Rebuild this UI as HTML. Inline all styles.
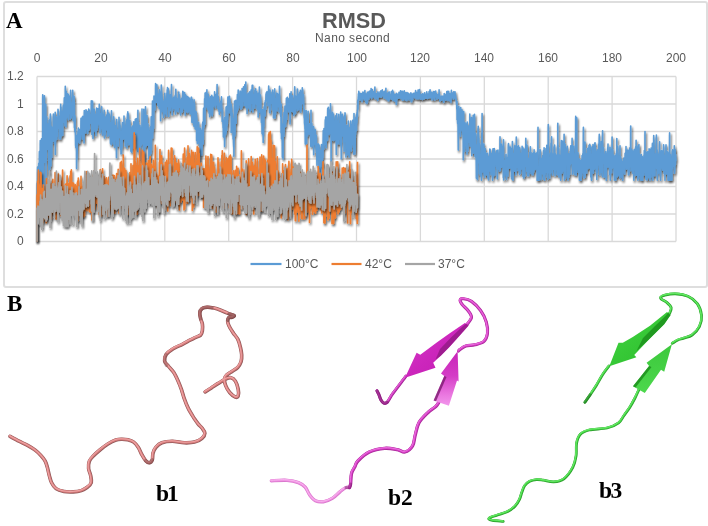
<!DOCTYPE html>
<html><head><meta charset="utf-8"><style>
html,body{margin:0;padding:0;background:#fff;}
body{width:708px;height:526px;position:relative;overflow:hidden;font-family:"Liberation Sans",sans-serif;}
.t{position:absolute;white-space:nowrap;line-height:1;will-change:transform;}
.panel{position:absolute;left:3px;top:1px;width:700.5px;height:282.5px;border:2px solid #dedede;border-radius:3px;}
.lab{font-family:"Liberation Serif",serif;font-weight:bold;color:#000;}
.ax{font-size:12px;color:#595959;}
svg{position:absolute;left:0;top:0;}
</style></head><body>
<div class="panel"></div>
<svg width="708" height="526" viewBox="0 0 708 526">
<defs>
<filter id="sh" x="-5%" y="-10%" width="110%" height="130%">
<feGaussianBlur in="SourceAlpha" stdDeviation="1.2"/>
<feOffset dx="1.3" dy="2.4" result="o"/>
<feComponentTransfer><feFuncA type="linear" slope="0.7"/></feComponentTransfer>
<feMerge><feMergeNode/><feMergeNode in="SourceGraphic"/></feMerge>
</filter>
<linearGradient id="gm1" x1="0" y1="0" x2="1" y2="1"><stop offset="0" stop-color="#d63ec8"/><stop offset="0.5" stop-color="#cc26bc"/><stop offset="1" stop-color="#c01cb0"/></linearGradient>
<linearGradient id="gm2" x1="0" y1="0" x2="0" y2="1"><stop offset="0" stop-color="#c824b8"/><stop offset="0.45" stop-color="#d43cc6"/><stop offset="0.8" stop-color="#ea78e0"/><stop offset="1" stop-color="#f296ec"/></linearGradient>
<linearGradient id="gg1" x1="0" y1="0" x2="1" y2="1"><stop offset="0" stop-color="#44d444"/><stop offset="0.5" stop-color="#36c836"/><stop offset="1" stop-color="#2cbc2c"/></linearGradient>
<linearGradient id="gg2" x1="0" y1="0" x2="0" y2="1"><stop offset="0" stop-color="#3cc83c"/><stop offset="1" stop-color="#4cd84c"/></linearGradient>
</defs>
<g stroke="#d9d9d9" stroke-width="1.3"><line x1="37.0" y1="241.5" x2="676.0" y2="241.5"/><line x1="37.0" y1="214.0" x2="676.0" y2="214.0"/><line x1="37.0" y1="186.5" x2="676.0" y2="186.5"/><line x1="37.0" y1="159.0" x2="676.0" y2="159.0"/><line x1="37.0" y1="131.5" x2="676.0" y2="131.5"/><line x1="37.0" y1="104.0" x2="676.0" y2="104.0"/><line x1="37.0" y1="76.5" x2="676.0" y2="76.5"/><line x1="37.0" y1="76.5" x2="37.0" y2="241.5"/><line x1="100.9" y1="76.5" x2="100.9" y2="241.5"/><line x1="164.8" y1="76.5" x2="164.8" y2="241.5"/><line x1="228.7" y1="76.5" x2="228.7" y2="241.5"/><line x1="292.6" y1="76.5" x2="292.6" y2="241.5"/><line x1="356.5" y1="76.5" x2="356.5" y2="241.5"/><line x1="420.4" y1="76.5" x2="420.4" y2="241.5"/><line x1="484.3" y1="76.5" x2="484.3" y2="241.5"/><line x1="548.2" y1="76.5" x2="548.2" y2="241.5"/><line x1="612.1" y1="76.5" x2="612.1" y2="241.5"/><line x1="676.0" y1="76.5" x2="676.0" y2="241.5"/></g>
<g fill="none" stroke-width="1.6" stroke-linejoin="round" filter="url(#sh)">
<path d="M37.0,241.5L37.0,206.0L37.1,183.1L37.3,188.1L37.4,202.7L37.6,167.1L37.7,177.7L37.9,199.3L38.0,169.8L38.1,184.9L38.3,208.8L38.4,187.5L38.6,170.4L38.7,163.3L38.9,171.4L39.0,173.3L39.1,165.3L39.3,177.8L39.4,151.6L39.6,170.7L39.7,167.6L39.9,162.4L40.0,193.1L40.1,185.8L40.3,140.5L40.4,163.5L40.6,175.0L40.7,161.9L40.9,177.3L41.0,161.6L41.1,179.3L41.3,160.3L41.4,195.6L41.6,138.8L41.7,174.0L41.9,194.2L42.0,167.9L42.1,170.5L42.3,160.5L42.4,185.0L42.6,155.7L42.7,94.8L42.9,186.9L43.0,156.4L43.1,167.9L43.3,157.4L43.4,193.0L43.6,178.6L43.7,147.0L43.9,154.0L44.0,121.8L44.1,162.1L44.3,145.0L44.4,95.7L44.6,160.1L44.7,162.3L44.9,147.2L45.0,147.5L45.1,132.6L45.3,145.1L45.4,160.3L45.6,144.3L45.7,104.2L45.9,126.9L46.0,192.8L46.1,149.4L46.3,161.0L46.4,137.1L46.6,149.8L46.7,116.8L46.9,132.7L47.0,133.5L47.1,144.4L47.3,147.7L47.4,141.6L47.6,126.7L47.7,137.3L47.9,149.4L48.0,124.1L48.1,138.6L48.3,141.0L48.4,149.8L48.6,145.2L48.7,145.0L48.9,174.2L49.0,120.3L49.1,126.4L49.3,137.2L49.4,120.4L49.6,129.1L49.7,130.6L49.9,168.9L50.0,139.6L50.1,130.1L50.3,116.6L50.4,114.0L50.6,119.4L50.7,152.6L50.9,165.8L51.0,130.9L51.1,137.9L51.3,126.4L51.4,140.2L51.6,136.1L51.7,157.5L51.9,133.6L52.0,144.6L52.1,134.8L52.3,133.2L52.4,139.6L52.6,133.8L52.7,137.0L52.9,127.2L53.0,129.5L53.1,141.1L53.3,141.1L53.4,114.0L53.6,135.0L53.7,122.4L53.9,128.9L54.0,139.2L54.1,140.7L54.3,130.5L54.4,128.4L54.6,124.0L54.7,144.0L54.9,136.2L55.0,130.4L55.2,112.2L55.3,154.5L55.4,125.3L55.6,136.1L55.7,126.7L55.9,136.9L56.0,128.7L56.2,116.9L56.3,129.5L56.4,128.7L56.6,128.9L56.7,139.4L56.9,125.7L57.0,132.0L57.2,136.6L57.3,127.9L57.4,128.5L57.6,118.0L57.7,124.6L57.9,128.4L58.0,109.3L58.2,113.6L58.3,111.1L58.4,117.4L58.6,124.4L58.7,127.7L58.9,126.8L59.0,115.9L59.2,123.9L59.3,138.7L59.4,125.5L59.6,137.9L59.7,123.2L59.9,135.5L60.0,135.9L60.2,123.3L60.3,125.0L60.4,139.2L60.6,117.3L60.7,104.4L60.9,137.1L61.0,107.2L61.2,129.6L61.3,127.7L61.4,124.7L61.6,135.8L61.7,111.0L61.9,118.0L62.0,128.7L62.2,124.2L62.3,134.8L62.4,124.1L62.6,112.3L62.7,135.2L62.9,123.3L63.0,117.4L63.2,108.8L63.3,105.4L63.4,120.5L63.6,122.2L63.7,111.1L63.9,117.6L64.0,116.5L64.2,103.9L64.3,97.9L64.4,109.5L64.6,112.6L64.7,105.1L64.9,125.4L65.0,108.4L65.2,116.6L65.3,86.3L65.4,100.1L65.6,104.7L65.7,107.3L65.9,126.8L66.0,99.2L66.2,91.3L66.3,111.3L66.4,99.3L66.6,99.0L66.7,118.1L66.9,97.1L67.0,93.5L67.2,102.8L67.3,105.0L67.4,97.5L67.6,116.7L67.7,102.7L67.9,94.4L68.0,113.2L68.2,94.4L68.3,106.0L68.4,119.8L68.6,103.6L68.7,111.1L68.9,100.9L69.0,113.8L69.2,96.3L69.3,111.8L69.4,103.6L69.6,112.1L69.7,110.5L69.9,98.6L70.0,106.9L70.2,112.0L70.3,119.1L70.4,99.7L70.6,90.2L70.7,111.9L70.9,107.4L71.0,117.7L71.2,117.6L71.3,116.2L71.4,106.8L71.6,107.4L71.7,115.8L71.9,104.1L72.0,103.8L72.2,108.7L72.3,102.0L72.4,112.7L72.6,111.4L72.7,90.2L72.9,110.9L73.0,104.2L73.2,120.6L73.3,98.6L73.4,116.0L73.6,110.3L73.7,119.6L73.9,102.6L74.0,96.4L74.2,99.4L74.3,104.0L74.4,127.4L74.6,123.8L74.7,124.2L74.9,131.7L75.0,115.9L75.2,127.6L75.3,132.7L75.4,129.8L75.6,145.2L75.7,146.3L75.9,147.6L76.0,135.8L76.2,139.0L76.3,138.5L76.4,135.7L76.6,168.6L76.7,153.5L76.9,146.3L77.0,159.1L77.2,150.9L77.3,136.7L77.4,135.2L77.6,134.4L77.7,141.5L77.9,142.2L78.0,131.7L78.2,141.8L78.3,135.9L78.4,128.1L78.6,139.6L78.7,140.7L78.9,135.7L79.0,130.9L79.2,131.1L79.3,132.8L79.4,129.5L79.6,143.3L79.7,137.7L79.9,130.6L80.0,137.6L80.2,140.2L80.3,139.2L80.4,137.1L80.6,132.0L80.7,137.2L80.9,128.5L81.0,118.4L81.2,129.9L81.3,120.0L81.4,125.9L81.6,134.5L81.7,128.3L81.9,132.6L82.0,120.8L82.2,133.2L82.3,117.0L82.4,121.9L82.6,139.1L82.7,121.0L82.9,116.2L83.0,131.7L83.2,120.3L83.3,138.5L83.4,125.1L83.6,137.4L83.7,123.1L83.9,137.7L84.0,143.0L84.2,123.1L84.3,110.5L84.4,129.2L84.6,119.8L84.7,124.4L84.9,127.1L85.0,120.8L85.2,113.9L85.3,132.6L85.4,120.4L85.6,121.5L85.7,132.9L85.9,112.3L86.0,109.7L86.2,128.9L86.3,110.5L86.4,121.7L86.6,123.1L86.7,111.7L86.9,120.4L87.0,119.8L87.2,111.6L87.3,113.3L87.4,116.0L87.6,132.1L87.7,133.4L87.9,114.5L88.0,128.9L88.2,121.2L88.3,129.6L88.4,122.9L88.6,130.3L88.7,109.0L88.9,127.4L89.0,120.5L89.2,120.5L89.3,110.1L89.4,128.9L89.6,118.7L89.7,120.0L89.9,114.5L90.0,114.9L90.2,121.8L90.3,116.6L90.5,121.2L90.6,114.9L90.7,119.1L90.9,123.1L91.0,118.3L91.2,115.2L91.3,100.8L91.5,121.8L91.6,116.0L91.7,107.4L91.9,134.5L92.0,132.1L92.2,128.2L92.3,120.2L92.5,101.1L92.6,116.7L92.7,110.5L92.9,121.4L93.0,138.4L93.2,137.2L93.3,112.1L93.5,118.4L93.6,129.6L93.7,111.4L93.9,131.5L94.0,111.4L94.2,109.1L94.3,126.0L94.5,128.7L94.6,114.0L94.7,128.8L94.9,114.0L95.0,129.7L95.2,114.6L95.3,120.1L95.5,124.2L95.6,127.8L95.7,119.3L95.9,135.4L96.0,123.2L96.2,124.1L96.3,116.0L96.5,130.6L96.6,108.1L96.7,123.4L96.9,129.7L97.0,110.6L97.2,108.5L97.3,122.4L97.5,127.7L97.6,120.7L97.7,125.9L97.9,122.9L98.0,108.7L98.2,117.4L98.3,119.2L98.5,117.6L98.6,120.6L98.7,114.1L98.9,114.2L99.0,124.1L99.2,121.1L99.3,104.3L99.5,120.0L99.6,125.2L99.7,108.7L99.9,124.5L100.0,133.0L100.2,119.5L100.3,131.2L100.5,127.9L100.6,121.4L100.7,124.4L100.9,128.9L101.0,126.9L101.2,126.9L101.3,113.4L101.5,127.6L101.6,126.5L101.7,106.9L101.9,126.8L102.0,111.8L102.2,113.5L102.3,125.1L102.5,135.1L102.6,121.4L102.7,120.1L102.9,118.2L103.0,125.1L103.2,116.5L103.3,115.1L103.5,133.5L103.6,114.5L103.7,123.8L103.9,129.2L104.0,127.1L104.2,110.4L104.3,117.0L104.5,137.9L104.6,123.8L104.7,125.4L104.9,125.5L105.0,127.9L105.2,134.7L105.3,117.0L105.5,130.3L105.6,125.8L105.7,127.3L105.9,128.2L106.0,117.0L106.2,119.7L106.3,127.7L106.5,129.7L106.6,126.1L106.7,115.1L106.9,121.4L107.0,120.6L107.2,124.8L107.3,124.2L107.5,120.6L107.6,136.2L107.7,110.2L107.9,128.4L108.0,126.9L108.2,112.7L108.3,121.3L108.5,122.8L108.6,127.7L108.7,135.3L108.9,122.2L109.0,114.6L109.2,130.7L109.3,114.0L109.5,133.4L109.6,131.1L109.7,122.4L109.9,127.0L110.0,122.6L110.2,134.1L110.3,136.8L110.5,143.6L110.6,138.8L110.7,137.9L110.9,140.6L111.0,127.4L111.2,134.8L111.3,144.8L111.5,110.7L111.6,135.9L111.7,139.2L111.9,120.2L112.0,121.0L112.2,138.9L112.3,141.7L112.5,138.5L112.6,122.5L112.7,134.0L112.9,138.2L113.0,132.6L113.2,123.5L113.3,143.7L113.5,136.2L113.6,144.1L113.7,116.7L113.9,119.1L114.0,125.4L114.2,133.2L114.3,126.5L114.5,147.2L114.6,128.4L114.7,140.4L114.9,140.1L115.0,135.2L115.2,132.7L115.3,126.0L115.5,125.7L115.6,129.9L115.7,140.1L115.9,128.4L116.0,135.4L116.2,126.0L116.3,142.9L116.5,157.7L116.6,140.0L116.7,119.6L116.9,132.8L117.0,138.1L117.2,129.7L117.3,132.7L117.5,133.1L117.6,140.8L117.7,136.2L117.9,135.4L118.0,142.1L118.2,146.0L118.3,136.2L118.5,129.7L118.6,132.3L118.7,133.6L118.9,133.5L119.0,117.2L119.2,135.5L119.3,129.4L119.5,122.3L119.6,137.5L119.7,136.0L119.9,130.1L120.0,125.4L120.2,136.5L120.3,136.5L120.5,138.9L120.6,149.4L120.7,131.2L120.9,142.3L121.0,154.0L121.2,141.3L121.3,153.6L121.5,147.2L121.6,138.4L121.7,145.0L121.9,128.3L122.0,147.8L122.2,133.2L122.3,130.2L122.5,122.6L122.6,126.7L122.7,132.1L122.9,133.2L123.0,134.3L123.2,124.7L123.3,139.1L123.5,129.6L123.6,134.5L123.7,131.7L123.9,135.6L124.0,116.1L124.2,138.4L124.3,131.1L124.5,130.9L124.6,128.4L124.8,129.9L124.9,130.3L125.0,126.0L125.2,146.2L125.3,134.0L125.5,144.1L125.6,132.0L125.8,143.2L125.9,141.1L126.0,133.4L126.2,121.1L126.3,127.3L126.5,129.2L126.6,119.9L126.8,138.7L126.9,147.9L127.0,134.2L127.2,133.1L127.3,121.0L127.5,113.9L127.6,142.6L127.8,111.9L127.9,119.7L128.0,126.1L128.2,130.3L128.3,113.7L128.5,133.1L128.6,137.7L128.8,132.5L128.9,144.7L129.0,129.2L129.2,133.6L129.3,129.5L129.5,128.8L129.6,140.1L129.8,120.2L129.9,139.3L130.0,123.3L130.2,144.2L130.3,127.9L130.5,138.3L130.6,131.3L130.8,137.6L130.9,151.2L131.0,142.4L131.2,132.6L131.3,128.0L131.5,146.4L131.6,152.2L131.8,141.4L131.9,135.7L132.0,139.6L132.2,141.4L132.3,126.9L132.5,126.0L132.6,128.2L132.8,143.5L132.9,134.4L133.0,136.9L133.2,148.1L133.3,127.0L133.5,134.2L133.6,139.4L133.8,121.7L133.9,127.7L134.0,126.8L134.2,123.5L134.3,128.0L134.5,146.7L134.6,138.5L134.8,125.1L134.9,141.8L135.0,133.8L135.2,129.9L135.3,119.3L135.5,120.3L135.6,123.7L135.8,134.0L135.9,123.0L136.0,126.8L136.2,133.6L136.3,118.6L136.5,127.1L136.6,139.6L136.8,119.3L136.9,134.5L137.0,125.9L137.2,147.4L137.3,132.1L137.5,141.6L137.6,141.9L137.8,151.8L137.9,110.3L138.0,134.3L138.2,130.6L138.3,122.0L138.5,135.2L138.6,128.9L138.8,148.8L138.9,132.6L139.0,139.2L139.2,129.4L139.3,132.6L139.5,149.0L139.6,153.6L139.8,144.3L139.9,125.2L140.0,128.1L140.2,128.0L140.3,153.5L140.5,160.5L140.6,138.4L140.8,135.3L140.9,138.3L141.0,128.3L141.2,134.2L141.3,145.2L141.5,142.2L141.6,131.5L141.8,132.4L141.9,134.0L142.0,109.0L142.2,135.9L142.3,131.9L142.5,143.8L142.6,137.2L142.8,127.9L142.9,127.6L143.0,135.5L143.2,129.8L143.3,133.5L143.5,154.1L143.6,168.9L143.8,109.2L143.9,124.8L144.0,134.0L144.2,151.7L144.3,146.5L144.5,118.2L144.6,162.2L144.8,135.8L144.9,123.0L145.0,130.7L145.2,124.2L145.3,133.7L145.5,106.8L145.6,143.2L145.8,146.8L145.9,129.3L146.0,117.0L146.2,132.9L146.3,121.2L146.5,138.2L146.6,145.2L146.8,117.6L146.9,115.6L147.0,115.6L147.2,136.2L147.3,143.4L147.5,143.1L147.6,132.7L147.8,123.8L147.9,124.4L148.0,145.2L148.2,128.2L148.3,130.7L148.5,130.8L148.6,133.1L148.8,136.1L148.9,159.0L149.0,134.4L149.2,134.1L149.3,144.2L149.5,133.0L149.6,138.3L149.8,158.9L149.9,131.8L150.0,139.4L150.2,127.1L150.3,138.1L150.5,137.3L150.6,134.0L150.8,136.1L150.9,140.2L151.0,153.4L151.2,116.9L151.3,150.3L151.5,137.4L151.6,126.9L151.8,128.7L151.9,126.1L152.0,123.3L152.2,117.9L152.3,126.5L152.5,101.1L152.6,138.0L152.8,125.8L152.9,130.7L153.0,131.6L153.2,123.1L153.3,111.0L153.5,128.3L153.6,125.7L153.8,110.6L153.9,109.9L154.0,96.0L154.2,101.8L154.3,106.2L154.5,108.6L154.6,102.3L154.8,103.2L154.9,109.7L155.0,97.7L155.2,96.9L155.3,96.9L155.5,98.2L155.6,83.5L155.8,90.3L155.9,88.7L156.0,99.3L156.2,102.2L156.3,97.3L156.5,93.8L156.6,97.9L156.8,96.9L156.9,84.8L157.0,93.7L157.2,102.5L157.3,99.0L157.5,101.0L157.6,95.8L157.8,105.5L157.9,99.4L158.0,94.1L158.2,99.2L158.3,106.0L158.5,104.3L158.6,99.5L158.8,97.1L158.9,94.6L159.0,101.0L159.2,108.5L159.3,89.8L159.5,97.1L159.6,96.1L159.8,96.6L159.9,105.5L160.1,100.9L160.2,97.3L160.3,92.5L160.5,99.3L160.6,120.7L160.8,101.9L160.9,98.3L161.1,92.4L161.2,96.5L161.3,85.1L161.5,92.3L161.6,93.1L161.8,96.1L161.9,111.8L162.1,97.6L162.2,99.7L162.3,107.6L162.5,100.8L162.6,102.3L162.8,108.5L162.9,106.5L163.1,107.5L163.2,104.2L163.3,108.3L163.5,101.8L163.6,117.6L163.8,106.7L163.9,115.5L164.1,107.4L164.2,100.6L164.3,103.6L164.5,104.3L164.6,103.1L164.8,93.4L164.9,110.8L165.1,98.1L165.2,113.7L165.3,107.2L165.5,103.3L165.6,110.0L165.8,103.3L165.9,100.0L166.1,112.3L166.2,104.9L166.3,106.4L166.5,115.9L166.6,104.1L166.8,107.4L166.9,93.1L167.1,106.6L167.2,89.7L167.3,103.5L167.5,87.5L167.6,96.3L167.8,96.8L167.9,94.5L168.1,93.9L168.2,90.7L168.3,88.7L168.5,101.8L168.6,107.5L168.8,116.5L168.9,102.1L169.1,94.9L169.2,97.3L169.3,98.9L169.5,101.8L169.6,103.6L169.8,101.3L169.9,97.0L170.1,110.4L170.2,94.9L170.3,108.4L170.5,100.4L170.6,103.3L170.8,101.7L170.9,105.9L171.1,106.7L171.2,101.0L171.3,106.3L171.5,84.5L171.6,102.3L171.8,103.8L171.9,103.2L172.1,106.5L172.2,115.0L172.3,101.7L172.5,98.6L172.6,110.0L172.8,101.1L172.9,108.9L173.1,102.1L173.2,100.0L173.3,99.4L173.5,99.9L173.6,106.8L173.8,97.1L173.9,104.9L174.1,99.9L174.2,97.4L174.3,103.1L174.5,108.7L174.6,97.0L174.8,107.1L174.9,105.6L175.1,106.8L175.2,95.2L175.3,101.4L175.5,114.1L175.6,96.7L175.8,89.2L175.9,91.2L176.1,105.6L176.2,102.1L176.3,99.8L176.5,97.7L176.6,102.8L176.8,109.5L176.9,98.7L177.1,99.6L177.2,111.1L177.3,105.6L177.5,102.0L177.6,103.7L177.8,100.7L177.9,99.2L178.1,100.7L178.2,104.6L178.3,111.7L178.5,100.2L178.6,95.6L178.8,92.1L178.9,103.6L179.1,103.5L179.2,94.9L179.3,94.9L179.5,101.2L179.6,99.0L179.8,107.5L179.9,99.8L180.1,107.8L180.2,103.9L180.3,103.7L180.5,105.6L180.6,114.9L180.8,107.5L180.9,100.9L181.1,103.2L181.2,105.1L181.3,100.5L181.5,99.1L181.6,98.3L181.8,107.7L181.9,103.2L182.1,105.3L182.2,108.4L182.3,111.9L182.5,104.1L182.6,108.4L182.8,91.4L182.9,103.8L183.1,104.2L183.2,105.0L183.3,92.1L183.5,107.4L183.6,102.9L183.8,106.0L183.9,102.3L184.1,101.7L184.2,95.5L184.3,109.2L184.5,101.5L184.6,92.5L184.8,104.1L184.9,102.2L185.1,106.0L185.2,115.3L185.3,101.7L185.5,94.7L185.6,103.5L185.8,111.0L185.9,99.7L186.1,100.9L186.2,96.1L186.3,96.8L186.5,103.3L186.6,99.9L186.8,111.8L186.9,96.4L187.1,101.4L187.2,96.6L187.3,96.6L187.5,103.6L187.6,102.7L187.8,106.4L187.9,112.4L188.1,102.1L188.2,100.5L188.3,106.9L188.5,97.4L188.6,100.7L188.8,99.0L188.9,105.6L189.1,111.0L189.2,98.0L189.3,99.1L189.5,103.1L189.6,104.9L189.8,104.4L189.9,103.8L190.1,105.9L190.2,113.9L190.3,99.5L190.5,111.5L190.6,105.5L190.8,105.4L190.9,102.4L191.1,112.4L191.2,97.4L191.3,100.4L191.5,99.9L191.6,97.4L191.8,109.0L191.9,122.2L192.1,104.0L192.2,99.4L192.3,101.2L192.5,112.1L192.6,110.5L192.8,109.2L192.9,122.8L193.1,116.7L193.2,117.2L193.3,103.6L193.5,118.4L193.6,104.1L193.8,114.6L193.9,126.3L194.1,99.9L194.2,122.2L194.3,111.4L194.5,103.9L194.6,120.5L194.8,126.3L194.9,110.2L195.1,118.2L195.2,128.9L195.4,128.9L195.5,124.6L195.6,115.0L195.8,125.7L195.9,119.1L196.1,111.8L196.2,115.4L196.4,114.5L196.5,116.7L196.6,140.4L196.8,117.6L196.9,125.5L197.1,129.8L197.2,138.5L197.4,143.4L197.5,140.0L197.6,131.3L197.8,142.0L197.9,139.5L198.1,138.4L198.2,127.6L198.4,136.8L198.5,135.4L198.6,122.4L198.8,137.0L198.9,129.0L199.1,143.8L199.2,131.8L199.4,133.9L199.5,133.8L199.6,139.6L199.8,144.8L199.9,138.9L200.1,161.8L200.2,128.1L200.4,129.5L200.5,147.6L200.6,132.3L200.8,141.9L200.9,134.4L201.1,142.6L201.2,151.2L201.4,131.0L201.5,136.1L201.6,149.8L201.8,155.0L201.9,143.3L202.1,148.2L202.2,140.7L202.4,131.7L202.5,123.7L202.6,137.6L202.8,122.1L202.9,122.6L203.1,134.6L203.2,143.7L203.4,121.9L203.5,123.1L203.6,108.2L203.8,115.5L203.9,118.1L204.1,108.5L204.2,126.9L204.4,114.9L204.5,115.5L204.6,98.8L204.8,104.0L204.9,124.2L205.1,93.0L205.2,107.1L205.4,96.6L205.5,104.3L205.6,99.8L205.8,97.3L205.9,99.9L206.1,107.0L206.2,92.4L206.4,98.7L206.5,101.3L206.6,97.0L206.8,104.8L206.9,89.9L207.1,100.2L207.2,99.4L207.4,99.6L207.5,107.4L207.6,109.1L207.8,100.6L207.9,99.9L208.1,94.0L208.2,99.8L208.4,109.7L208.5,100.2L208.6,98.9L208.8,98.4L208.9,103.1L209.1,113.2L209.2,99.0L209.4,111.1L209.5,103.3L209.6,116.8L209.8,102.5L209.9,112.1L210.1,100.6L210.2,96.5L210.4,100.2L210.5,114.6L210.6,113.2L210.8,112.8L210.9,103.3L211.1,105.2L211.2,106.3L211.4,105.1L211.5,103.1L211.6,102.2L211.8,95.3L211.9,105.6L212.1,103.5L212.2,115.8L212.4,112.2L212.5,108.1L212.6,111.0L212.8,102.3L212.9,97.1L213.1,106.2L213.2,106.4L213.4,106.5L213.5,102.4L213.6,106.5L213.8,100.4L213.9,101.1L214.1,100.8L214.2,98.1L214.4,102.6L214.5,101.8L214.6,91.8L214.8,103.0L214.9,97.8L215.1,102.4L215.2,105.6L215.4,105.6L215.5,107.8L215.6,102.6L215.8,106.2L215.9,104.9L216.1,94.6L216.2,102.7L216.4,94.6L216.5,99.8L216.6,95.9L216.8,104.8L216.9,100.1L217.1,84.6L217.2,95.8L217.4,94.8L217.5,99.7L217.6,95.9L217.8,108.5L217.9,106.7L218.1,98.9L218.2,96.6L218.4,104.4L218.5,103.1L218.6,104.2L218.8,103.3L218.9,109.8L219.1,111.6L219.2,103.6L219.4,114.2L219.5,109.9L219.6,108.2L219.8,111.0L219.9,103.2L220.1,107.5L220.2,105.3L220.4,111.0L220.5,109.2L220.6,101.3L220.8,102.1L220.9,107.0L221.1,102.0L221.2,104.0L221.4,105.2L221.5,96.9L221.6,111.0L221.8,106.7L221.9,107.9L222.1,113.7L222.2,121.5L222.4,110.0L222.5,114.3L222.6,117.1L222.8,118.6L222.9,119.9L223.1,127.8L223.2,120.0L223.4,136.9L223.5,124.5L223.6,136.5L223.8,128.8L223.9,121.6L224.1,129.9L224.2,132.6L224.4,126.2L224.5,133.2L224.6,146.6L224.8,132.7L224.9,117.3L225.1,122.8L225.2,123.3L225.4,135.1L225.5,120.6L225.6,134.2L225.8,119.8L225.9,130.9L226.1,107.1L226.2,132.9L226.4,110.8L226.5,113.0L226.6,130.4L226.8,118.7L226.9,106.2L227.1,107.5L227.2,125.4L227.4,116.8L227.5,120.0L227.6,117.8L227.8,114.0L227.9,97.0L228.1,106.4L228.2,108.4L228.4,108.8L228.5,102.3L228.6,101.9L228.8,111.7L228.9,96.9L229.1,112.8L229.2,108.1L229.4,103.8L229.5,96.2L229.7,109.2L229.8,105.5L229.9,99.5L230.1,104.6L230.2,102.5L230.4,104.1L230.5,110.3L230.7,108.8L230.8,107.7L230.9,115.5L231.1,104.2L231.2,132.5L231.4,125.3L231.5,107.3L231.7,116.3L231.8,126.1L231.9,118.3L232.1,112.9L232.2,128.3L232.4,117.4L232.5,126.3L232.7,127.2L232.8,127.8L232.9,118.5L233.1,139.1L233.2,133.5L233.4,125.6L233.5,142.9L233.7,146.9L233.8,129.2L233.9,156.2L234.1,132.6L234.2,128.5L234.4,136.6L234.5,101.1L234.7,133.7L234.8,127.5L234.9,134.9L235.1,124.8L235.2,106.4L235.4,118.8L235.5,112.6L235.7,120.9L235.8,100.4L235.9,113.1L236.1,123.3L236.2,106.1L236.4,113.7L236.5,105.1L236.7,107.1L236.8,104.8L236.9,104.2L237.1,109.7L237.2,111.8L237.4,94.5L237.5,99.9L237.7,96.0L237.8,100.4L237.9,109.6L238.1,105.4L238.2,90.0L238.4,103.0L238.5,101.0L238.7,107.8L238.8,102.7L238.9,102.3L239.1,101.8L239.2,101.3L239.4,104.9L239.5,104.8L239.7,101.6L239.8,99.6L239.9,102.2L240.1,91.0L240.2,99.7L240.4,99.7L240.5,104.2L240.7,94.1L240.8,105.9L240.9,109.2L241.1,105.4L241.2,96.0L241.4,106.2L241.5,91.9L241.7,99.4L241.8,108.0L241.9,100.4L242.1,88.5L242.2,103.8L242.4,106.4L242.5,95.7L242.7,91.1L242.8,92.9L242.9,100.9L243.1,98.0L243.2,97.3L243.4,92.5L243.5,86.9L243.7,100.2L243.8,92.1L243.9,101.8L244.1,96.5L244.2,105.4L244.4,104.5L244.5,97.6L244.7,105.3L244.8,84.8L244.9,103.3L245.1,99.6L245.2,100.6L245.4,102.0L245.5,99.3L245.7,93.9L245.8,82.1L245.9,107.4L246.1,98.9L246.2,101.9L246.4,106.5L246.5,99.7L246.7,106.7L246.8,102.2L246.9,94.6L247.1,113.6L247.2,100.3L247.4,99.0L247.5,107.0L247.7,98.0L247.8,98.7L247.9,102.5L248.1,93.0L248.2,107.5L248.4,95.8L248.5,100.7L248.7,105.4L248.8,100.3L248.9,101.5L249.1,95.0L249.2,108.8L249.4,101.6L249.5,103.5L249.7,91.9L249.8,107.9L249.9,95.2L250.1,111.6L250.2,99.1L250.4,101.5L250.5,98.0L250.7,103.7L250.8,110.3L250.9,107.3L251.1,90.0L251.2,95.9L251.4,101.7L251.5,91.1L251.7,100.6L251.8,100.6L251.9,103.5L252.1,89.7L252.2,85.3L252.4,102.7L252.5,95.6L252.7,91.8L252.8,85.4L252.9,111.9L253.1,97.1L253.2,94.2L253.4,106.7L253.5,95.9L253.7,97.3L253.8,94.5L253.9,102.3L254.1,96.7L254.2,102.9L254.4,96.0L254.5,98.8L254.7,102.0L254.8,108.1L254.9,90.1L255.1,93.0L255.2,94.1L255.4,102.9L255.5,100.9L255.7,88.9L255.8,94.1L255.9,103.4L256.1,98.2L256.2,97.8L256.4,100.0L256.5,104.5L256.7,91.9L256.8,96.0L256.9,100.8L257.1,109.1L257.2,103.5L257.4,100.3L257.5,95.3L257.7,102.6L257.8,94.1L257.9,99.8L258.1,105.1L258.2,117.1L258.4,107.7L258.5,109.6L258.7,101.8L258.8,99.0L258.9,92.9L259.1,101.1L259.2,107.7L259.4,87.0L259.5,99.7L259.7,103.9L259.8,104.6L259.9,112.1L260.1,100.2L260.2,102.5L260.4,95.1L260.5,98.9L260.7,101.3L260.8,99.5L260.9,111.4L261.1,113.8L261.2,112.4L261.4,122.6L261.5,115.8L261.7,118.6L261.8,112.2L261.9,118.4L262.1,133.5L262.2,119.5L262.4,109.5L262.5,134.6L262.7,126.8L262.8,121.2L262.9,131.7L263.1,126.2L263.2,142.5L263.4,130.6L263.5,117.0L263.7,115.0L263.8,126.5L263.9,115.7L264.1,106.7L264.2,115.3L264.4,109.7L264.5,107.2L264.7,113.0L264.8,102.8L265.0,106.6L265.1,115.8L265.2,103.9L265.4,100.6L265.5,100.3L265.7,109.4L265.8,101.0L266.0,94.1L266.1,100.9L266.2,93.9L266.4,92.5L266.5,100.2L266.7,95.2L266.8,100.3L267.0,91.5L267.1,98.0L267.2,100.9L267.4,98.0L267.5,98.5L267.7,96.0L267.8,95.7L268.0,105.5L268.1,102.7L268.2,97.0L268.4,96.6L268.5,99.3L268.7,86.1L268.8,94.0L269.0,101.4L269.1,97.1L269.2,93.9L269.4,99.9L269.5,112.5L269.7,101.9L269.8,102.2L270.0,90.0L270.1,113.1L270.2,93.1L270.4,102.9L270.5,96.4L270.7,103.4L270.8,100.5L271.0,94.8L271.1,100.9L271.2,95.2L271.4,101.7L271.5,103.4L271.7,102.1L271.8,103.6L272.0,101.1L272.1,92.3L272.2,106.9L272.4,109.6L272.5,100.0L272.7,90.1L272.8,94.0L273.0,92.7L273.1,93.6L273.2,105.6L273.4,101.2L273.5,117.9L273.7,106.4L273.8,99.6L274.0,112.6L274.1,115.6L274.2,111.2L274.4,102.5L274.5,97.0L274.7,88.9L274.8,95.8L275.0,113.2L275.1,118.0L275.2,103.7L275.4,98.5L275.5,114.2L275.7,107.8L275.8,107.4L276.0,104.6L276.1,105.8L276.2,101.7L276.4,98.5L276.5,104.2L276.7,100.3L276.8,93.0L277.0,110.6L277.1,110.7L277.2,101.5L277.4,93.6L277.5,103.2L277.7,97.5L277.8,105.4L278.0,98.0L278.1,106.7L278.2,98.9L278.4,100.3L278.5,100.2L278.7,94.3L278.8,96.0L279.0,105.5L279.1,96.4L279.2,111.8L279.4,96.6L279.5,86.3L279.7,100.8L279.8,101.8L280.0,105.6L280.1,101.4L280.2,111.5L280.4,105.0L280.5,113.5L280.7,116.5L280.8,114.3L281.0,117.7L281.1,132.9L281.2,104.4L281.4,121.7L281.5,138.8L281.7,117.3L281.8,128.0L282.0,127.1L282.1,123.6L282.2,138.4L282.4,157.3L282.5,132.8L282.7,130.5L282.8,124.5L283.0,141.8L283.1,159.0L283.2,129.1L283.4,134.2L283.5,132.2L283.7,126.4L283.8,136.2L284.0,112.5L284.1,132.8L284.2,123.3L284.4,124.9L284.5,126.4L284.7,114.8L284.8,110.2L285.0,106.0L285.1,112.4L285.2,120.0L285.4,109.2L285.5,126.4L285.7,114.2L285.8,110.0L286.0,108.9L286.1,120.7L286.2,122.1L286.4,98.2L286.5,112.6L286.7,119.3L286.8,115.2L287.0,106.1L287.1,97.8L287.2,105.7L287.4,97.3L287.5,103.8L287.7,102.1L287.8,98.6L288.0,108.0L288.1,103.5L288.2,108.3L288.4,110.1L288.5,101.5L288.7,111.6L288.8,105.6L289.0,111.6L289.1,106.8L289.2,109.7L289.4,98.6L289.5,105.1L289.7,104.8L289.8,93.8L290.0,124.0L290.1,111.7L290.2,122.3L290.4,103.6L290.5,100.5L290.7,99.0L290.8,101.6L291.0,109.3L291.1,91.8L291.2,101.6L291.4,105.4L291.5,111.3L291.7,101.1L291.8,107.2L292.0,106.9L292.1,102.5L292.2,102.5L292.4,109.4L292.5,95.7L292.7,110.8L292.8,111.7L293.0,102.4L293.1,103.8L293.2,104.3L293.4,107.5L293.5,104.6L293.7,108.5L293.8,115.6L294.0,99.9L294.1,111.4L294.2,106.2L294.4,99.9L294.5,104.6L294.7,86.8L294.8,113.9L295.0,109.6L295.1,104.1L295.2,95.8L295.4,106.0L295.5,113.3L295.7,96.1L295.8,109.0L296.0,103.8L296.1,96.3L296.2,105.9L296.4,104.1L296.5,97.8L296.7,102.1L296.8,98.9L297.0,106.7L297.1,101.3L297.2,107.5L297.4,110.5L297.5,89.1L297.7,97.4L297.8,94.4L298.0,106.3L298.1,100.2L298.2,101.2L298.4,108.9L298.5,96.4L298.7,104.6L298.8,101.4L299.0,109.8L299.1,94.0L299.2,95.5L299.4,97.9L299.5,106.1L299.7,103.6L299.8,92.4L300.0,101.8L300.1,98.3L300.3,99.0L300.4,106.9L300.5,90.3L300.7,112.3L300.8,98.4L301.0,100.3L301.1,109.9L301.3,97.6L301.4,96.3L301.5,99.1L301.7,104.4L301.8,96.2L302.0,91.9L302.1,97.2L302.3,87.7L302.4,93.0L302.5,93.5L302.7,89.7L302.8,102.4L303.0,103.2L303.1,98.2L303.3,99.7L303.4,94.6L303.5,98.5L303.7,106.7L303.8,108.0L304.0,113.2L304.1,115.6L304.3,118.2L304.4,110.1L304.5,122.9L304.7,124.6L304.8,122.3L305.0,128.8L305.1,127.6L305.3,144.1L305.4,124.8L305.5,130.8L305.7,127.2L305.8,126.1L306.0,144.0L306.1,110.5L306.3,128.2L306.4,128.0L306.5,143.3L306.7,124.4L306.8,126.1L307.0,132.0L307.1,127.3L307.3,119.3L307.4,131.7L307.5,136.0L307.7,118.8L307.8,126.8L308.0,130.1L308.1,111.3L308.3,127.5L308.4,130.0L308.5,126.8L308.7,132.0L308.8,127.5L309.0,128.1L309.1,134.2L309.3,131.3L309.4,127.2L309.5,126.8L309.7,125.4L309.8,124.0L310.0,128.1L310.1,126.4L310.3,133.2L310.4,132.6L310.5,123.8L310.7,146.0L310.8,129.7L311.0,110.3L311.1,146.6L311.3,123.2L311.4,146.7L311.5,132.1L311.7,123.4L311.8,124.6L312.0,141.5L312.1,144.4L312.3,145.5L312.4,130.7L312.5,138.5L312.7,135.9L312.8,134.3L313.0,133.4L313.1,132.6L313.3,135.5L313.4,147.2L313.5,126.5L313.7,154.8L313.8,128.0L314.0,140.3L314.1,137.6L314.3,139.8L314.4,138.8L314.5,136.6L314.7,138.4L314.8,143.9L315.0,131.2L315.1,141.4L315.3,129.7L315.4,140.4L315.5,144.9L315.7,138.2L315.8,136.0L316.0,149.1L316.1,145.8L316.3,135.2L316.4,152.5L316.5,152.3L316.7,146.1L316.8,156.3L317.0,165.3L317.1,160.2L317.3,146.3L317.4,144.7L317.5,145.6L317.7,147.5L317.8,159.5L318.0,146.6L318.1,143.8L318.3,157.6L318.4,146.4L318.5,156.4L318.7,153.0L318.8,152.2L319.0,166.3L319.1,145.1L319.3,162.7L319.4,157.8L319.5,161.6L319.7,155.3L319.8,156.4L320.0,160.4L320.1,150.6L320.3,172.8L320.4,164.2L320.5,182.5L320.7,162.8L320.8,162.5L321.0,166.3L321.1,165.8L321.3,154.8L321.4,151.1L321.5,144.6L321.7,149.7L321.8,162.6L322.0,155.3L322.1,166.5L322.3,151.1L322.4,153.3L322.5,159.5L322.7,155.2L322.8,155.6L323.0,157.5L323.1,143.3L323.3,130.5L323.4,144.7L323.5,141.6L323.7,146.6L323.8,148.9L324.0,128.6L324.1,146.1L324.3,138.7L324.4,141.0L324.5,133.8L324.7,137.3L324.8,130.5L325.0,144.2L325.1,133.4L325.3,119.7L325.4,138.7L325.5,134.6L325.7,117.0L325.8,125.2L326.0,119.2L326.1,147.6L326.3,126.8L326.4,138.9L326.5,139.7L326.7,123.8L326.8,117.0L327.0,140.5L327.1,137.3L327.3,132.9L327.4,129.1L327.5,140.0L327.7,108.5L327.8,123.3L328.0,131.6L328.1,132.8L328.3,107.2L328.4,107.3L328.5,130.9L328.7,122.6L328.8,113.6L329.0,134.6L329.1,128.5L329.3,110.4L329.4,128.1L329.5,125.3L329.7,133.3L329.8,127.8L330.0,114.5L330.1,127.9L330.3,132.1L330.4,125.8L330.5,103.8L330.7,118.2L330.8,124.8L331.0,118.2L331.1,161.8L331.3,118.7L331.4,136.7L331.5,117.8L331.7,123.1L331.8,114.0L332.0,135.0L332.1,113.4L332.3,128.3L332.4,140.1L332.5,112.3L332.7,129.7L332.8,121.5L333.0,126.5L333.1,114.7L333.3,114.5L333.4,114.3L333.5,117.9L333.7,139.8L333.8,140.4L334.0,122.8L334.1,133.9L334.3,120.8L334.4,124.1L334.6,139.7L334.7,136.7L334.8,138.3L335.0,136.7L335.1,130.8L335.3,122.9L335.4,117.1L335.6,139.6L335.7,135.9L335.8,115.8L336.0,122.5L336.1,129.2L336.3,154.5L336.4,142.0L336.6,131.1L336.7,138.6L336.8,113.8L337.0,132.5L337.1,130.7L337.3,144.1L337.4,143.4L337.6,139.3L337.7,138.5L337.8,134.2L338.0,127.8L338.1,128.6L338.3,120.7L338.4,143.6L338.6,127.9L338.7,127.6L338.8,114.3L339.0,132.5L339.1,127.5L339.3,139.3L339.4,127.4L339.6,128.1L339.7,138.8L339.8,137.2L340.0,133.3L340.1,127.2L340.3,144.4L340.4,123.5L340.6,135.2L340.7,112.1L340.8,115.8L341.0,133.8L341.1,135.3L341.3,159.0L341.4,121.7L341.6,122.0L341.7,131.8L341.8,128.8L342.0,119.3L342.1,121.0L342.3,135.2L342.4,114.4L342.6,123.5L342.7,135.9L342.8,116.5L343.0,128.0L343.1,118.5L343.3,131.7L343.4,122.7L343.6,142.3L343.7,122.6L343.8,141.3L344.0,124.8L344.1,151.3L344.3,127.2L344.4,119.6L344.6,122.2L344.7,115.5L344.8,138.1L345.0,112.9L345.1,113.3L345.3,141.3L345.4,138.2L345.6,136.8L345.7,132.3L345.8,130.9L346.0,157.1L346.1,128.0L346.3,136.5L346.4,144.4L346.6,126.0L346.7,139.1L346.8,125.5L347.0,132.0L347.1,140.7L347.3,127.0L347.4,131.0L347.6,143.9L347.7,154.7L347.8,144.4L348.0,133.1L348.1,140.7L348.3,121.1L348.4,134.6L348.6,134.6L348.7,132.0L348.8,143.6L349.0,136.0L349.1,141.0L349.3,156.9L349.4,151.5L349.6,128.0L349.7,139.1L349.8,136.1L350.0,148.9L350.1,140.6L350.3,127.8L350.4,134.3L350.6,140.1L350.7,121.0L350.8,135.8L351.0,138.4L351.1,124.5L351.3,151.1L351.4,129.9L351.6,145.2L351.7,142.1L351.8,141.1L352.0,133.6L352.1,133.8L352.3,132.1L352.4,133.2L352.6,122.6L352.7,120.3L352.8,129.7L353.0,129.7L353.1,140.4L353.3,147.3L353.4,132.2L353.6,137.4L353.7,130.0L353.8,154.3L354.0,113.5L354.1,149.2L354.3,137.3L354.4,128.6L354.6,150.0L354.7,141.7L354.8,153.9L355.0,148.0L355.1,151.2L355.3,132.2L355.4,129.7L355.6,134.4L355.7,119.7L355.8,117.9L356.0,129.4L356.1,130.5L356.3,130.1L356.4,130.7L356.6,114.2L356.7,121.0L356.8,123.2L357.0,120.1L357.1,112.5L357.3,116.6L357.4,110.0L357.6,109.9L357.7,100.7L357.8,100.0L358.0,109.2L358.1,101.7L358.3,96.5L358.4,98.1L358.4,93.9L358.6,99.6L358.7,95.8L358.8,91.3L359.0,95.8L359.1,95.0L359.3,95.4L359.4,98.2L359.6,93.1L359.7,94.7L359.8,95.0L360.0,93.7L360.1,93.6L360.3,99.9L360.4,94.4L360.6,97.0L360.7,95.3L360.8,97.4L361.0,97.8L361.1,93.6L361.3,95.9L361.4,96.6L361.6,96.7L361.7,95.9L361.9,96.2L362.0,101.8L362.1,98.3L362.3,96.9L362.4,94.7L362.6,93.3L362.7,98.7L362.9,92.1L363.0,96.4L363.1,95.5L363.3,97.9L363.4,98.0L363.6,93.1L363.7,97.0L363.9,96.6L364.0,93.6L364.1,92.2L364.3,99.7L364.4,96.6L364.6,96.2L364.7,92.0L364.9,90.5L365.0,96.5L365.1,95.5L365.3,94.5L365.4,93.8L365.6,97.3L365.7,94.6L365.9,98.2L366.0,102.8L366.1,99.7L366.3,95.8L366.4,94.4L366.6,101.4L366.7,100.1L366.9,95.8L367.0,103.5L367.1,94.2L367.3,92.9L367.4,102.3L367.6,93.4L367.7,95.7L367.9,92.0L368.0,94.7L368.1,96.0L368.3,95.2L368.4,93.4L368.6,95.2L368.7,95.6L368.9,99.1L369.0,94.5L369.1,95.5L369.3,91.2L369.4,95.4L369.6,95.5L369.7,96.6L369.9,93.4L370.0,95.5L370.1,96.6L370.3,91.1L370.4,90.7L370.6,95.9L370.7,97.3L370.9,92.3L371.0,97.0L371.1,88.5L371.3,95.5L371.4,93.0L371.6,98.4L371.7,95.5L371.9,92.9L372.0,94.4L372.1,96.7L372.3,89.6L372.4,93.5L372.6,95.7L372.7,96.5L372.9,95.6L373.0,91.7L373.2,96.6L373.3,94.7L373.4,96.7L373.6,91.8L373.7,95.2L373.9,92.9L374.0,93.6L374.2,96.4L374.3,93.5L374.4,93.0L374.6,97.9L374.7,93.6L374.9,87.0L375.0,96.0L375.2,93.9L375.3,98.6L375.4,94.5L375.6,97.1L375.7,94.0L375.9,96.0L376.0,98.7L376.2,93.5L376.3,96.6L376.4,98.5L376.6,96.0L376.7,98.4L376.9,95.1L377.0,96.2L377.2,96.8L377.3,94.3L377.4,98.9L377.6,93.5L377.7,100.5L377.9,91.9L378.0,95.3L378.2,96.3L378.3,97.4L378.4,94.4L378.6,96.1L378.7,96.1L378.9,93.3L379.0,96.8L379.2,96.3L379.3,94.7L379.4,93.2L379.6,96.0L379.7,95.1L379.9,95.2L380.0,93.4L380.2,91.5L380.3,97.0L380.4,94.9L380.6,94.6L380.7,93.0L380.9,90.7L381.0,94.3L381.2,93.7L381.3,91.5L381.4,97.1L381.6,95.9L381.7,95.2L381.9,94.1L382.0,93.5L382.2,95.3L382.3,89.9L382.4,95.7L382.6,94.5L382.7,91.5L382.9,92.2L383.0,94.1L383.2,93.2L383.3,92.1L383.4,94.1L383.6,92.5L383.7,96.3L383.9,93.9L384.0,98.0L384.2,96.2L384.3,96.9L384.5,91.2L384.6,95.4L384.7,93.6L384.9,96.6L385.0,94.9L385.2,95.1L385.3,96.5L385.5,92.5L385.6,98.5L385.7,93.1L385.9,88.3L386.0,96.6L386.2,94.7L386.3,98.5L386.5,95.0L386.6,99.1L386.7,93.5L386.9,96.2L387.0,99.4L387.2,98.1L387.3,98.8L387.5,95.7L387.6,93.0L387.7,95.9L387.9,97.7L388.0,96.9L388.2,94.6L388.3,100.7L388.5,93.5L388.6,93.9L388.7,100.7L388.9,92.1L389.0,98.8L389.2,95.4L389.3,92.1L389.5,98.8L389.6,99.3L389.7,97.6L389.9,97.5L390.0,95.4L390.2,96.4L390.3,96.4L390.5,96.5L390.6,95.9L390.7,97.6L390.9,94.9L391.0,95.8L391.2,98.3L391.3,91.6L391.5,99.1L391.6,94.4L391.7,98.0L391.9,95.5L392.0,95.3L392.2,94.6L392.3,93.4L392.5,98.9L392.6,90.2L392.7,96.2L392.9,99.2L393.0,100.5L393.2,91.7L393.3,93.4L393.5,97.3L393.6,95.4L393.7,94.0L393.9,96.8L394.0,98.0L394.2,97.0L394.3,94.9L394.5,96.9L394.6,99.9L394.8,95.1L394.9,101.1L395.0,98.9L395.2,94.2L395.3,96.6L395.5,96.7L395.6,97.0L395.8,94.8L395.9,97.4L396.0,101.9L396.2,96.6L396.3,104.5L396.5,102.0L396.6,93.2L396.8,94.5L396.9,98.0L397.0,97.0L397.2,96.5L397.3,94.3L397.5,98.4L397.6,98.6L397.8,97.9L397.9,95.9L398.0,95.5L398.2,96.9L398.3,94.0L398.5,98.1L398.6,95.7L398.8,97.0L398.9,97.7L399.0,92.3L399.2,96.0L399.3,97.6L399.5,95.1L399.6,97.6L399.8,93.8L399.9,93.3L400.0,92.9L400.2,97.9L400.3,95.7L400.5,90.9L400.6,95.8L400.8,92.3L400.9,91.7L401.0,98.6L401.2,92.4L401.3,93.4L401.5,93.1L401.6,91.2L401.8,94.1L401.9,95.0L402.0,93.8L402.2,96.1L402.3,94.1L402.5,100.2L402.6,91.3L402.8,96.8L402.9,94.3L403.0,94.9L403.2,95.4L403.3,95.4L403.5,95.6L403.6,99.7L403.8,97.1L403.9,93.0L404.0,98.4L404.2,98.5L404.3,90.9L404.5,93.1L404.6,92.3L404.8,96.1L404.9,95.5L405.0,94.3L405.2,94.9L405.3,96.5L405.5,99.9L405.6,98.2L405.8,100.2L405.9,92.9L406.1,97.7L406.2,97.3L406.3,96.2L406.5,96.9L406.6,95.6L406.8,98.3L406.9,100.4L407.1,92.5L407.2,98.3L407.3,97.6L407.5,98.3L407.6,97.6L407.8,96.2L407.9,94.4L408.1,98.7L408.2,95.5L408.3,97.8L408.5,93.4L408.6,99.3L408.8,96.2L408.9,94.9L409.1,99.9L409.2,96.4L409.3,96.4L409.5,98.6L409.6,97.2L409.8,94.3L409.9,96.1L410.1,97.6L410.2,97.1L410.3,95.6L410.5,93.6L410.6,94.7L410.8,94.9L410.9,92.9L411.1,100.2L411.2,99.9L411.3,101.8L411.5,94.4L411.6,101.7L411.8,96.3L411.9,94.4L412.1,99.4L412.2,97.6L412.3,96.6L412.5,94.3L412.6,99.6L412.8,95.3L412.9,94.4L413.1,95.7L413.2,95.7L413.3,93.2L413.5,95.6L413.6,96.2L413.8,97.0L413.9,94.7L414.1,96.8L414.2,94.6L414.3,95.8L414.5,93.3L414.6,97.7L414.8,95.5L414.9,94.7L415.1,94.5L415.2,92.7L415.3,94.3L415.5,93.1L415.6,90.6L415.8,93.2L415.9,97.7L416.1,98.7L416.2,93.8L416.4,96.3L416.5,94.8L416.6,95.9L416.8,92.5L416.9,92.8L417.1,98.2L417.2,94.9L417.4,96.3L417.5,98.7L417.6,94.1L417.8,96.0L417.9,94.7L418.1,90.0L418.2,92.7L418.4,93.2L418.5,96.8L418.6,98.6L418.8,92.8L418.9,96.3L419.1,95.4L419.2,96.3L419.4,95.0L419.5,89.5L419.6,95.8L419.8,95.6L419.9,94.5L420.1,94.3L420.2,97.8L420.4,99.2L420.5,96.4L420.6,95.5L420.8,96.9L420.9,97.4L421.1,97.2L421.2,96.0L421.4,95.4L421.5,98.9L421.6,96.4L421.8,94.4L421.9,95.6L422.1,98.6L422.2,96.3L422.4,95.6L422.5,93.8L422.6,99.5L422.8,94.1L422.9,96.9L423.1,95.3L423.2,94.2L423.4,97.9L423.5,97.7L423.6,96.0L423.8,94.0L423.9,97.0L424.1,99.0L424.2,97.3L424.4,94.7L424.5,92.9L424.6,96.8L424.8,96.4L424.9,96.1L425.1,96.0L425.2,98.0L425.4,96.8L425.5,95.3L425.6,95.6L425.8,95.8L425.9,98.2L426.1,97.1L426.2,97.5L426.4,93.3L426.5,92.3L426.6,94.9L426.8,91.9L426.9,96.3L427.1,96.2L427.2,98.5L427.4,94.9L427.5,96.5L427.7,95.2L427.8,94.3L427.9,96.0L428.1,98.1L428.2,95.6L428.4,95.7L428.5,95.5L428.7,94.1L428.8,96.1L428.9,96.3L429.1,91.6L429.2,93.1L429.4,95.8L429.5,97.7L429.7,96.6L429.8,94.6L429.9,93.5L430.1,89.9L430.2,96.0L430.4,95.0L430.5,96.2L430.7,95.2L430.8,96.3L430.9,97.8L431.1,93.0L431.2,95.1L431.4,92.4L431.5,96.5L431.7,94.7L431.8,93.8L431.9,99.7L432.1,98.4L432.2,93.6L432.4,95.2L432.5,99.8L432.7,97.4L432.8,98.2L432.9,97.1L433.1,92.5L433.2,97.5L433.4,91.5L433.5,96.8L433.7,97.9L433.8,92.6L433.9,94.0L434.1,92.9L434.2,91.6L434.4,93.6L434.5,93.2L434.7,99.9L434.8,97.8L434.9,94.9L435.1,95.4L435.2,94.2L435.4,96.9L435.5,93.2L435.7,91.1L435.8,94.3L435.9,93.7L436.1,94.4L436.2,93.3L436.4,95.0L436.5,96.6L436.7,95.0L436.8,95.2L436.9,99.1L437.1,95.0L437.2,95.6L437.4,95.3L437.5,97.1L437.7,94.8L437.8,94.5L438.0,97.6L438.1,95.3L438.2,94.2L438.4,94.3L438.5,98.1L438.7,98.2L438.8,95.8L439.0,98.2L439.1,89.9L439.2,97.5L439.4,97.5L439.5,94.2L439.7,96.9L439.8,101.3L440.0,96.4L440.1,98.5L440.2,97.7L440.4,100.4L440.5,99.0L440.7,97.4L440.8,97.4L441.0,99.9L441.1,99.0L441.2,99.3L441.4,97.1L441.5,97.8L441.7,100.3L441.8,96.0L442.0,99.1L442.1,96.6L442.2,99.6L442.4,96.8L442.5,97.7L442.7,97.3L442.8,96.3L443.0,96.4L443.1,97.0L443.2,97.0L443.4,100.2L443.5,97.4L443.7,102.2L443.8,102.3L444.0,97.8L444.1,97.6L444.2,93.6L444.4,95.5L444.5,94.5L444.7,97.7L444.8,96.0L445.0,94.3L445.1,95.7L445.2,96.1L445.4,96.7L445.5,99.0L445.7,98.9L445.8,100.1L446.0,95.7L446.1,97.2L446.2,98.0L446.4,95.5L446.5,97.5L446.7,93.7L446.8,91.6L447.0,94.9L447.1,97.5L447.2,99.4L447.4,91.4L447.5,95.2L447.7,99.1L447.8,94.0L448.0,100.5L448.1,97.8L448.2,97.4L448.4,97.8L448.5,99.6L448.7,91.4L448.8,97.8L449.0,95.9L449.1,96.6L449.3,100.2L449.4,97.6L449.5,95.7L449.7,93.9L449.8,96.8L450.0,95.1L450.1,96.7L450.3,94.5L450.4,101.6L450.5,94.5L450.7,97.3L450.8,97.2L451.0,102.4L451.1,98.3L451.3,94.4L451.4,90.4L451.5,97.4L451.7,97.4L451.8,94.8L452.0,95.4L452.1,97.6L452.3,96.8L452.4,97.5L452.5,95.4L452.7,95.1L452.8,93.0L453.0,95.0L453.1,95.6L453.3,96.8L453.4,94.8L453.5,99.2L453.7,91.7L453.8,95.9L454.0,93.1L454.1,98.1L454.3,93.7L454.4,95.1L454.5,96.4L454.7,97.5L454.8,98.0L455.0,91.8L455.1,93.2L455.3,95.9L455.4,95.7L455.5,97.9L455.5,95.0L455.7,97.9L455.8,97.9L456.0,99.8L456.1,98.9L456.3,101.0L456.4,102.4L456.6,104.6L456.7,102.6L456.8,109.3L457.0,101.6L457.1,119.7L457.3,109.1L457.4,109.0L457.6,123.6L457.7,119.6L457.8,107.9L458.0,121.9L458.1,130.4L458.3,150.1L458.4,121.7L458.6,124.5L458.7,120.1L458.8,106.4L459.0,125.8L459.1,124.2L459.3,132.1L459.4,125.5L459.6,124.8L459.7,116.2L459.9,118.1L460.0,132.5L460.1,129.8L460.3,109.4L460.4,136.2L460.6,117.2L460.7,107.6L460.9,118.9L461.0,123.8L461.1,111.5L461.3,123.2L461.4,127.4L461.6,129.7L461.7,114.5L461.9,119.6L462.0,109.9L462.2,130.8L462.3,130.4L462.4,131.5L462.6,123.4L462.7,134.1L462.9,116.1L463.0,122.7L463.2,137.5L463.3,159.8L463.4,147.4L463.6,111.5L463.7,128.5L463.9,126.5L464.0,133.2L464.2,124.5L464.3,150.3L464.5,151.5L464.6,147.7L464.7,129.2L464.9,122.6L465.0,125.6L465.2,132.8L465.3,146.0L465.5,123.8L465.6,136.2L465.7,133.8L465.9,134.8L466.0,139.4L466.2,142.4L466.3,141.0L466.5,148.7L466.6,132.0L466.8,136.6L466.9,123.7L467.0,154.3L467.2,122.1L467.3,135.5L467.5,136.5L467.6,143.4L467.8,143.7L467.9,151.1L468.0,125.8L468.2,138.1L468.3,128.5L468.5,127.8L468.6,142.3L468.8,139.7L468.9,141.0L469.1,126.3L469.2,135.6L469.3,134.9L469.5,128.8L469.6,136.8L469.8,114.0L469.9,145.1L470.1,121.6L470.2,119.6L470.3,146.1L470.5,124.6L470.6,130.4L470.8,123.9L470.9,145.5L471.1,130.2L471.2,142.9L471.3,136.0L471.5,117.6L471.6,133.8L471.8,155.8L471.9,146.8L472.1,143.9L472.2,121.3L472.4,138.8L472.5,147.3L472.6,119.2L472.8,127.8L472.9,126.4L473.1,137.8L473.2,115.3L473.4,132.4L473.5,153.1L473.6,145.6L473.8,143.7L473.9,137.4L474.1,128.3L474.2,145.4L474.4,144.8L474.5,114.2L474.7,138.6L474.8,146.3L474.9,140.8L475.1,156.6L475.2,137.2L475.4,133.4L475.5,152.0L475.7,134.3L475.8,150.0L475.9,144.1L476.1,156.6L476.2,157.9L476.4,178.2L476.5,147.4L476.7,153.3L476.8,153.0L477.0,162.4L477.1,162.4L477.2,156.0L477.4,179.6L477.5,144.9L477.7,155.0L477.8,144.2L478.0,128.5L478.1,146.0L478.2,126.2L478.4,143.2L478.5,134.7L478.7,154.7L478.8,138.3L479.0,163.3L479.1,149.8L479.3,156.5L479.4,173.8L479.5,168.0L479.7,143.8L479.8,150.2L479.8,171.8L480.0,155.8L480.1,163.4L480.3,157.1L480.4,158.8L480.5,154.0L480.7,176.1L480.8,161.0L481.0,161.5L481.1,161.4L481.3,168.0L481.4,180.3L481.5,151.7L481.7,149.9L481.8,133.1L482.0,151.0L482.1,113.6L482.3,152.7L482.4,163.3L482.5,154.1L482.7,172.0L482.8,157.3L483.0,161.3L483.1,171.4L483.3,147.8L483.4,149.0L483.5,155.9L483.7,152.4L483.8,144.1L484.0,162.3L484.1,174.8L484.3,170.9L484.4,154.6L484.5,159.7L484.7,177.2L484.8,150.0L485.0,161.6L485.1,148.6L485.3,154.0L485.4,169.8L485.5,165.2L485.7,173.4L485.8,174.6L486.0,169.4L486.1,161.8L486.3,153.6L486.4,174.8L486.5,159.8L486.7,165.9L486.8,168.2L487.0,155.7L487.1,169.2L487.3,153.4L487.4,168.9L487.5,174.0L487.7,158.4L487.8,177.9L488.0,174.9L488.1,165.3L488.3,163.1L488.4,165.0L488.5,179.9L488.7,173.8L488.8,157.0L489.0,156.7L489.1,170.7L489.3,159.2L489.4,159.9L489.5,152.8L489.7,168.7L489.8,149.1L490.0,165.1L490.1,149.4L490.3,154.1L490.4,171.5L490.5,165.1L490.7,159.6L490.8,153.0L491.0,174.6L491.1,166.5L491.3,156.3L491.4,157.5L491.5,171.3L491.7,169.9L491.8,157.9L492.0,171.0L492.1,159.7L492.3,153.5L492.4,161.6L492.5,180.3L492.7,151.1L492.8,151.3L493.0,148.9L493.1,153.9L493.3,176.9L493.4,148.9L493.5,158.7L493.7,153.5L493.8,163.6L494.0,164.6L494.1,164.8L494.3,148.5L494.4,160.7L494.5,165.2L494.7,175.1L494.8,159.3L495.0,163.4L495.1,161.7L495.3,153.7L495.4,155.5L495.5,161.4L495.7,158.8L495.8,159.3L496.0,153.1L496.1,152.9L496.3,157.7L496.4,166.6L496.5,151.3L496.7,150.8L496.8,168.7L497.0,155.5L497.1,162.6L497.3,178.9L497.4,159.6L497.5,150.6L497.7,165.8L497.8,165.6L498.0,150.1L498.1,169.4L498.3,168.2L498.4,162.8L498.5,154.5L498.7,154.7L498.8,165.4L499.0,163.7L499.1,160.2L499.3,164.7L499.4,169.0L499.5,171.3L499.7,155.3L499.8,164.1L500.0,136.7L500.1,157.5L500.3,170.4L500.4,164.0L500.5,161.3L500.7,161.1L500.8,160.8L501.0,160.6L501.1,165.8L501.3,158.3L501.4,144.0L501.5,167.3L501.7,166.3L501.8,155.9L502.0,150.7L502.1,154.3L502.3,150.5L502.4,162.0L502.5,163.6L502.7,155.5L502.8,155.3L503.0,146.2L503.1,147.1L503.3,177.6L503.4,154.0L503.5,139.8L503.7,180.0L503.8,157.4L504.0,162.5L504.1,164.3L504.3,173.1L504.4,171.0L504.5,164.1L504.7,176.0L504.8,163.8L505.0,162.0L505.1,164.6L505.3,160.5L505.4,163.7L505.5,173.6L505.7,172.4L505.8,161.8L506.0,154.3L506.1,161.7L506.3,167.6L506.4,161.6L506.5,179.4L506.7,172.0L506.8,166.3L507.0,163.2L507.1,165.1L507.3,164.1L507.4,171.8L507.5,165.7L507.7,157.6L507.8,175.9L508.0,169.6L508.1,161.4L508.3,144.6L508.4,151.7L508.5,143.6L508.7,145.6L508.8,161.7L509.0,158.3L509.1,168.3L509.3,147.1L509.4,151.1L509.5,152.4L509.7,151.7L509.8,153.6L510.0,155.9L510.1,155.4L510.3,147.1L510.4,165.4L510.5,168.0L510.7,158.7L510.8,148.5L511.0,157.0L511.1,161.3L511.3,152.0L511.4,158.6L511.5,176.9L511.7,168.9L511.8,178.9L512.0,162.1L512.1,164.3L512.3,156.5L512.4,141.5L512.5,166.1L512.7,160.8L512.8,164.4L513.0,180.3L513.1,167.6L513.3,166.9L513.4,157.5L513.5,167.1L513.7,170.8L513.8,153.3L514.0,158.9L514.1,166.1L514.3,164.7L514.4,160.7L514.5,150.9L514.7,145.9L514.8,171.2L515.0,149.6L515.1,160.4L515.3,158.4L515.4,153.5L515.5,171.6L515.7,155.4L515.8,175.1L516.0,167.5L516.1,170.9L516.3,137.0L516.4,148.1L516.5,155.9L516.7,157.9L516.8,167.2L517.0,146.5L517.1,149.6L517.3,154.0L517.4,163.2L517.5,165.3L517.7,162.8L517.8,150.0L518.0,170.4L518.1,160.7L518.3,146.9L518.4,153.6L518.5,145.8L518.7,157.7L518.8,157.6L519.0,149.0L519.1,155.6L519.3,158.3L519.4,165.9L519.5,174.6L519.7,147.8L519.8,164.9L520.0,167.8L520.1,153.3L520.3,169.1L520.4,173.3L520.5,166.3L520.7,162.0L520.8,159.2L521.0,157.3L521.1,153.5L521.3,163.6L521.4,159.5L521.5,164.0L521.7,168.9L521.8,159.6L522.0,160.0L522.1,146.3L522.3,157.4L522.4,168.8L522.5,156.8L522.7,164.1L522.8,147.4L523.0,176.6L523.1,167.0L523.3,166.9L523.4,159.8L523.5,162.2L523.7,175.5L523.8,178.3L524.0,160.2L524.1,149.1L524.3,149.6L524.4,166.5L524.5,159.1L524.7,171.1L524.8,176.3L525.0,152.2L525.1,156.9L525.3,165.7L525.4,165.7L525.5,153.7L525.7,158.6L525.8,138.4L526.0,158.3L526.1,160.6L526.3,164.0L526.4,166.7L526.5,152.1L526.7,164.9L526.8,171.5L527.0,145.1L527.1,150.4L527.3,157.3L527.4,162.9L527.5,160.8L527.7,175.7L527.8,163.0L528.0,160.3L528.1,164.4L528.3,158.6L528.4,169.1L528.5,160.4L528.7,175.8L528.8,161.7L529.0,166.8L529.1,173.0L529.3,164.6L529.4,160.9L529.5,166.3L529.7,152.5L529.8,166.8L530.0,152.0L530.1,153.6L530.3,165.2L530.4,146.8L530.5,171.5L530.7,154.5L530.8,158.6L531.0,152.5L531.1,173.5L531.3,170.5L531.4,167.7L531.5,160.6L531.7,160.4L531.8,161.5L532.0,164.3L532.1,168.6L532.3,174.6L532.4,166.3L532.5,157.8L532.7,153.5L532.8,167.1L533.0,153.1L533.1,174.7L533.3,155.8L533.4,172.4L533.5,160.6L533.7,171.3L533.8,171.5L534.0,167.6L534.1,149.8L534.3,167.9L534.4,155.8L534.5,159.3L534.7,157.4L534.8,156.7L535.0,153.4L535.1,169.4L535.3,158.2L535.4,155.5L535.5,164.1L535.7,156.2L535.8,168.9L536.0,154.0L536.1,167.2L536.3,164.1L536.4,155.1L536.6,153.0L536.7,168.0L536.8,168.9L537.0,154.7L537.1,180.3L537.3,152.2L537.4,153.1L537.6,174.5L537.7,154.9L537.8,162.7L538.0,127.4L538.1,180.3L538.3,171.2L538.4,168.7L538.6,170.6L538.7,170.3L538.8,169.2L539.0,180.3L539.1,168.0L539.3,172.1L539.4,166.5L539.6,169.9L539.7,165.4L539.8,162.8L540.0,149.6L540.1,172.8L540.3,150.5L540.4,167.8L540.6,173.7L540.7,178.8L540.8,158.4L541.0,179.6L541.1,158.2L541.3,163.2L541.4,171.4L541.6,172.1L541.7,161.6L541.8,164.1L542.0,158.5L542.1,164.6L542.3,168.7L542.4,159.0L542.6,174.0L542.7,155.7L542.8,162.6L543.0,173.0L543.1,172.1L543.3,165.9L543.4,179.2L543.6,150.6L543.7,154.3L543.8,172.6L544.0,163.8L544.1,147.7L544.3,159.2L544.4,171.8L544.6,180.3L544.7,177.5L544.8,152.4L545.0,160.3L545.1,174.9L545.3,157.0L545.4,166.6L545.6,169.4L545.7,168.2L545.8,167.7L546.0,148.6L546.1,172.0L546.3,167.2L546.4,151.7L546.6,150.2L546.7,172.5L546.8,145.2L547.0,153.8L547.1,177.0L547.3,147.4L547.4,176.8L547.6,157.4L547.7,173.8L547.8,179.4L548.0,155.7L548.1,159.6L548.3,124.6L548.4,161.6L548.6,164.2L548.7,165.5L548.8,172.7L549.0,157.8L549.1,163.0L549.3,165.6L549.4,168.8L549.6,166.5L549.7,178.0L549.8,167.4L550.0,173.7L550.1,153.5L550.3,173.7L550.4,169.1L550.6,164.6L550.7,157.2L550.8,159.8L551.0,163.2L551.1,143.4L551.3,162.4L551.4,158.9L551.6,136.8L551.7,169.1L551.8,152.3L552.0,157.1L552.1,173.0L552.3,167.0L552.4,154.2L552.6,175.0L552.7,163.9L552.8,154.2L553.0,165.0L553.1,160.7L553.3,169.3L553.4,169.1L553.6,169.2L553.7,167.0L553.8,158.4L554.0,163.7L554.1,146.9L554.3,159.9L554.4,162.6L554.6,145.1L554.7,166.6L554.8,173.1L555.0,164.6L555.1,175.8L555.3,161.4L555.4,153.7L555.6,160.2L555.7,169.5L555.8,167.1L556.0,161.4L556.1,155.1L556.3,169.4L556.4,169.7L556.6,156.4L556.7,164.5L556.8,163.7L557.0,162.8L557.1,174.5L557.3,169.2L557.4,158.6L557.6,169.8L557.7,170.3L557.8,123.2L558.0,164.9L558.1,145.2L558.3,174.9L558.4,165.7L558.6,148.0L558.7,165.1L558.8,161.3L559.0,177.1L559.1,154.7L559.3,155.2L559.4,155.4L559.6,164.4L559.7,159.4L559.8,163.4L560.0,155.2L560.1,163.0L560.3,155.9L560.4,175.1L560.6,166.0L560.7,180.3L560.8,164.1L561.0,155.5L561.1,164.5L561.3,140.6L561.4,170.4L561.6,164.1L561.7,169.0L561.8,164.8L562.0,164.2L562.1,173.0L562.3,168.2L562.4,141.0L562.6,161.6L562.7,151.2L562.8,171.2L563.0,161.2L563.1,155.7L563.3,162.5L563.4,166.0L563.6,163.4L563.7,161.7L563.8,154.6L564.0,151.2L564.1,134.2L564.3,180.3L564.4,164.0L564.6,162.3L564.7,155.9L564.8,152.8L565.0,168.5L565.1,144.0L565.3,160.3L565.4,178.5L565.6,153.9L565.7,160.0L565.8,159.8L566.0,176.7L566.1,165.0L566.3,160.7L566.4,163.4L566.6,155.8L566.7,150.6L566.8,148.2L567.0,150.6L567.1,163.3L567.3,146.4L567.4,159.6L567.6,154.3L567.7,164.2L567.8,174.6L568.0,180.3L568.1,160.3L568.3,168.1L568.4,162.1L568.6,153.8L568.7,175.5L568.8,177.4L569.0,158.8L569.1,157.6L569.3,163.0L569.4,165.0L569.6,174.4L569.7,160.7L569.8,166.6L570.0,156.0L570.1,151.3L570.3,164.8L570.4,155.9L570.6,157.9L570.7,153.2L570.8,145.7L571.0,153.5L571.1,153.0L571.3,152.3L571.4,163.3L571.6,159.5L571.7,156.2L571.8,148.0L572.0,147.4L572.1,138.4L572.3,168.6L572.4,159.0L572.6,174.1L572.7,163.3L572.8,173.3L573.0,148.1L573.1,152.2L573.3,169.3L573.4,157.2L573.6,154.3L573.7,146.0L573.8,154.9L574.0,161.9L574.1,164.3L574.3,158.1L574.4,161.0L574.6,168.0L574.7,174.5L574.8,153.8L575.0,169.5L575.1,165.1L575.3,155.1L575.4,162.5L575.6,151.6L575.7,116.4L575.8,154.7L576.0,173.5L576.1,175.1L576.3,170.8L576.4,160.3L576.6,167.3L576.7,117.8L576.8,150.3L577.0,169.7L577.1,162.1L577.3,158.8L577.4,165.5L577.6,158.1L577.7,156.0L577.8,162.8L578.0,152.8L578.1,167.8L578.3,172.4L578.4,161.3L578.6,172.1L578.7,160.2L578.8,164.7L579.0,168.1L579.1,159.0L579.3,159.7L579.4,180.3L579.6,168.2L579.7,164.5L579.8,161.7L580.0,171.4L580.1,177.1L580.3,165.8L580.4,160.9L580.6,180.3L580.7,180.3L580.8,172.5L581.0,180.3L581.1,172.7L581.3,159.9L581.4,177.0L581.6,166.1L581.7,175.4L581.8,163.6L582.0,161.5L582.1,155.6L582.3,166.7L582.4,157.9L582.6,163.7L582.7,171.6L582.8,153.9L583.0,172.6L583.1,165.5L583.3,144.8L583.4,127.4L583.6,173.9L583.7,163.4L583.8,170.6L584.0,166.4L584.1,178.2L584.3,162.2L584.4,177.7L584.6,159.9L584.7,159.4L584.8,154.9L585.0,142.1L585.1,177.1L585.3,172.8L585.4,170.9L585.6,166.9L585.7,153.7L585.8,164.6L586.0,166.8L586.1,171.5L586.3,166.9L586.4,164.9L586.6,161.5L586.7,172.9L586.8,160.0L587.0,153.4L587.1,154.6L587.3,168.2L587.4,148.8L587.6,148.4L587.7,152.6L587.8,166.3L588.0,168.6L588.1,155.1L588.3,164.9L588.4,168.0L588.6,148.1L588.7,148.3L588.8,151.0L589.0,145.2L589.1,149.2L589.3,168.0L589.4,147.2L589.6,156.7L589.7,154.2L589.8,144.4L590.0,155.2L590.1,145.4L590.3,159.7L590.4,164.2L590.6,167.6L590.7,162.7L590.8,176.9L591.0,162.2L591.1,162.6L591.3,166.1L591.4,180.3L591.6,180.0L591.7,153.7L591.8,168.4L592.0,147.0L592.1,165.7L592.3,155.8L592.4,172.2L592.6,165.0L592.7,161.4L592.8,154.3L593.0,144.5L593.1,151.2L593.3,173.3L593.4,160.2L593.6,161.9L593.7,166.2L593.8,155.1L594.0,146.1L594.1,164.4L594.3,149.9L594.4,147.1L594.6,169.1L594.7,143.1L594.8,143.6L595.0,156.0L595.1,142.9L595.3,156.0L595.4,147.8L595.6,152.5L595.7,166.6L595.8,156.8L596.0,161.2L596.1,164.6L596.3,171.1L596.4,168.2L596.6,172.6L596.7,151.3L596.8,179.5L597.0,160.9L597.1,167.1L597.3,172.7L597.4,154.6L597.6,168.3L597.7,149.9L597.8,162.3L598.0,157.5L598.1,161.6L598.3,154.4L598.4,151.8L598.6,164.3L598.7,160.2L598.8,144.0L599.0,165.1L599.1,143.3L599.3,134.2L599.4,164.5L599.6,174.7L599.7,167.0L599.8,175.1L600.0,164.4L600.1,153.0L600.3,159.8L600.4,164.7L600.6,168.6L600.7,165.5L600.8,172.5L601.0,170.8L601.1,141.6L601.3,157.2L601.4,167.7L601.6,153.5L601.7,146.2L601.8,165.9L602.0,161.4L602.1,172.2L602.3,175.7L602.4,149.0L602.6,130.7L602.7,168.7L602.8,176.9L603.0,149.2L603.1,152.2L603.3,157.1L603.4,147.6L603.6,163.5L603.7,157.4L603.8,152.2L604.0,161.8L604.1,154.3L604.3,160.7L604.4,154.4L604.6,157.3L604.7,177.2L604.8,158.9L605.0,173.2L605.1,168.6L605.3,176.6L605.4,154.6L605.6,165.4L605.7,166.2L605.8,151.5L606.0,156.3L606.1,164.6L606.3,180.3L606.4,156.3L606.6,164.5L606.7,165.1L606.8,154.9L607.0,167.1L607.1,162.1L607.3,153.2L607.4,156.1L607.6,166.9L607.7,148.1L607.8,150.9L608.0,144.1L608.1,161.7L608.3,159.2L608.4,151.6L608.6,157.1L608.7,159.9L608.8,162.1L609.0,164.0L609.1,167.3L609.3,167.4L609.4,158.0L609.6,164.6L609.7,174.8L609.8,161.7L610.0,147.3L610.1,150.1L610.3,180.3L610.4,170.3L610.6,155.6L610.7,162.0L610.8,162.2L611.0,164.1L611.1,162.6L611.3,172.4L611.4,152.6L611.6,172.8L611.7,164.7L611.8,149.5L612.0,153.5L612.1,137.0L612.3,163.1L612.4,168.1L612.6,167.0L612.7,164.3L612.8,149.8L613.0,165.6L613.1,156.4L613.3,157.6L613.4,157.9L613.6,164.2L613.7,155.3L613.8,160.7L614.0,161.5L614.1,166.9L614.3,180.3L614.4,156.5L614.6,156.5L614.7,168.1L614.8,165.3L615.0,161.2L615.1,172.6L615.3,157.4L615.4,157.3L615.6,156.0L615.7,155.3L615.8,180.3L616.0,158.9L616.1,167.6L616.3,153.6L616.4,154.2L616.6,156.4L616.7,164.5L616.8,138.5L617.0,164.2L617.1,173.2L617.3,155.0L617.4,176.7L617.6,146.3L617.7,154.4L617.8,151.6L618.0,154.1L618.1,159.8L618.3,175.3L618.4,168.6L618.6,158.0L618.7,164.8L618.8,159.5L619.0,168.9L619.1,169.8L619.3,160.0L619.4,156.1L619.6,162.9L619.7,171.9L619.8,178.5L620.0,145.7L620.1,174.6L620.3,172.6L620.4,171.7L620.6,157.4L620.7,172.5L620.8,160.8L621.0,163.2L621.1,176.2L621.3,164.6L621.4,177.1L621.6,167.7L621.7,159.7L621.8,168.6L622.0,174.7L622.1,170.4L622.3,168.4L622.4,163.7L622.6,180.3L622.7,180.3L622.8,161.7L623.0,166.8L623.1,165.3L623.3,163.0L623.4,166.1L623.6,168.4L623.7,163.1L623.8,158.1L624.0,161.0L624.1,163.8L624.3,173.3L624.4,161.7L624.6,174.1L624.7,169.6L624.8,162.1L625.0,162.2L625.1,153.2L625.3,154.9L625.4,158.3L625.6,165.4L625.7,162.5L625.8,164.4L626.0,146.5L626.1,157.8L626.3,167.6L626.4,169.1L626.6,150.2L626.7,169.0L626.8,157.6L627.0,159.2L627.1,151.2L627.3,168.8L627.4,157.1L627.6,159.7L627.7,154.7L627.8,150.0L628.0,161.5L628.1,164.6L628.3,154.7L628.4,175.0L628.6,160.3L628.7,170.3L628.8,171.7L629.0,174.3L629.1,174.3L629.3,151.3L629.4,150.3L629.6,156.7L629.7,148.0L629.9,156.9L630.0,161.6L630.1,167.0L630.3,150.6L630.4,150.4L630.6,146.6L630.7,126.0L630.9,161.0L631.0,170.8L631.1,148.6L631.3,152.6L631.4,154.4L631.6,159.3L631.7,160.6L631.9,162.7L632.0,149.8L632.1,165.4L632.3,151.9L632.4,157.5L632.6,169.2L632.7,173.3L632.9,167.5L633.0,160.9L633.1,172.4L633.3,155.5L633.4,151.3L633.6,157.0L633.7,177.5L633.9,180.3L634.0,155.2L634.1,149.9L634.3,167.1L634.4,158.9L634.6,166.0L634.7,169.4L634.9,154.7L635.0,168.6L635.1,156.0L635.3,148.2L635.4,164.8L635.6,146.8L635.7,175.5L635.9,155.4L636.0,163.5L636.1,140.2L636.3,162.5L636.4,169.5L636.6,147.2L636.7,175.1L636.9,156.8L637.0,167.3L637.1,147.7L637.3,161.0L637.4,152.4L637.6,160.8L637.7,170.8L637.9,180.3L638.0,145.9L638.1,160.5L638.3,173.7L638.4,166.7L638.6,155.5L638.7,178.2L638.9,144.5L639.0,167.4L639.1,168.5L639.3,153.7L639.4,163.4L639.6,174.3L639.7,157.0L639.9,161.2L640.0,155.1L640.1,173.6L640.3,175.5L640.4,159.8L640.6,169.5L640.7,180.3L640.9,171.1L641.0,160.3L641.1,172.6L641.3,154.6L641.4,170.8L641.6,167.2L641.7,180.3L641.9,173.6L642.0,168.1L642.1,161.2L642.3,164.8L642.4,156.9L642.6,180.3L642.7,166.4L642.9,168.0L643.0,176.1L643.1,167.1L643.3,173.5L643.4,162.9L643.6,169.9L643.7,162.1L643.9,174.9L644.0,155.2L644.1,163.1L644.3,150.5L644.4,167.8L644.6,171.1L644.7,165.4L644.9,170.8L645.0,131.5L645.1,166.6L645.3,167.4L645.4,172.8L645.6,170.5L645.7,176.0L645.9,166.0L646.0,179.6L646.1,152.1L646.3,167.3L646.4,159.0L646.6,178.3L646.7,163.9L646.9,167.8L647.0,157.2L647.1,157.7L647.3,180.0L647.4,154.2L647.6,177.8L647.7,151.8L647.9,164.4L648.0,174.8L648.1,157.7L648.3,163.9L648.4,173.6L648.6,171.6L648.7,160.8L648.9,177.8L649.0,173.4L649.1,148.9L649.3,172.7L649.4,162.3L649.6,161.6L649.7,157.0L649.9,157.8L650.0,180.3L650.1,170.4L650.3,155.2L650.4,173.3L650.6,149.5L650.7,163.8L650.9,177.1L651.0,160.8L651.1,148.1L651.3,171.9L651.4,160.7L651.6,173.8L651.7,171.0L651.9,164.6L652.0,160.9L652.1,162.3L652.3,163.6L652.4,143.4L652.6,175.0L652.7,180.3L652.9,159.2L653.0,162.0L653.1,176.3L653.3,146.9L653.4,168.6L653.6,174.6L653.7,135.6L653.9,155.5L654.0,139.9L654.1,175.4L654.3,173.0L654.4,163.9L654.6,165.4L654.7,162.0L654.9,167.8L655.0,175.6L655.1,165.4L655.3,154.8L655.4,154.0L655.6,167.1L655.7,156.1L655.9,157.2L656.0,165.4L656.1,164.0L656.3,160.3L656.4,135.1L656.6,159.1L656.7,168.7L656.9,161.9L657.0,165.5L657.1,150.0L657.3,180.3L657.4,170.7L657.6,153.2L657.7,157.1L657.9,160.8L658.0,154.6L658.1,173.4L658.3,157.9L658.4,171.7L658.6,173.0L658.7,156.8L658.9,168.8L659.0,165.0L659.1,156.2L659.3,171.7L659.4,156.7L659.6,141.8L659.7,164.4L659.9,153.8L660.0,155.5L660.1,174.2L660.3,175.2L660.4,162.7L660.6,180.3L660.7,162.5L660.9,160.6L661.0,158.7L661.1,158.9L661.3,150.8L661.4,166.1L661.6,150.5L661.7,157.9L661.9,157.8L662.0,163.9L662.1,153.5L662.3,169.0L662.4,155.2L662.6,151.5L662.7,167.8L662.9,170.3L663.0,168.5L663.1,162.0L663.3,158.4L663.4,153.8L663.6,144.7L663.7,147.4L663.9,159.9L664.0,166.2L664.1,173.8L664.3,155.2L664.4,158.0L664.6,165.2L664.7,164.0L664.9,163.4L665.0,180.3L665.1,162.5L665.3,158.8L665.4,162.8L665.6,171.3L665.7,161.0L665.9,157.0L666.0,144.9L666.1,151.7L666.3,155.9L666.4,161.8L666.6,173.6L666.7,165.6L666.9,173.9L667.0,162.3L667.1,151.6L667.3,151.8L667.4,153.2L667.6,161.5L667.7,152.8L667.9,164.6L668.0,180.3L668.1,161.5L668.3,162.7L668.4,179.3L668.6,168.4L668.7,180.3L668.9,168.3L669.0,152.9L669.1,170.1L669.3,152.1L669.4,162.2L669.6,132.9L669.7,180.3L669.9,157.6L670.0,158.4L670.1,178.3L670.3,168.6L670.4,154.6L670.6,171.8L670.7,161.3L670.9,180.3L671.0,173.6L671.1,158.6L671.3,176.2L671.4,178.6L671.6,178.2L671.7,168.9L671.9,179.9L672.0,166.4L672.1,160.2L672.3,151.1L672.4,168.7L672.6,149.9L672.7,159.4L672.9,166.5L673.0,159.5L673.1,150.2L673.3,150.4L673.4,157.3L673.6,165.0L673.7,156.3L673.9,161.6L674.0,161.7L674.1,160.5L674.3,145.8L674.4,173.2L674.6,162.6L674.7,171.8L674.9,153.9L675.0,151.7L675.1,149.5L675.3,165.3L675.4,161.6L675.6,155.1L675.7,160.5L675.9,159.5L676.0,160.5" stroke="#5b9bd5"/>
</g>
<g fill="none" stroke-width="1.6" stroke-linejoin="round" filter="url(#sh)">
<path d="M37.0,241.5L37.0,194.8L37.1,203.8L37.3,202.9L37.4,211.7L37.6,181.2L37.7,181.1L37.9,194.9L38.0,208.9L38.1,195.9L38.3,170.1L38.4,208.3L38.6,199.2L38.7,199.0L38.9,185.0L39.0,207.9L39.1,191.0L39.3,202.8L39.4,197.7L39.6,206.9L39.7,188.4L39.9,199.4L40.0,200.8L40.1,183.7L40.3,192.2L40.4,172.3L40.6,193.2L40.7,197.6L40.9,198.2L41.0,172.7L41.1,188.7L41.3,204.6L41.4,199.1L41.6,207.5L41.7,196.0L41.9,207.2L42.0,207.4L42.1,197.5L42.3,188.5L42.4,193.0L42.6,193.7L42.7,200.1L42.9,222.6L43.0,201.9L43.1,202.4L43.3,195.8L43.4,185.0L43.6,194.2L43.7,216.7L43.9,201.2L44.0,203.7L44.1,195.6L44.3,202.6L44.4,218.5L44.6,210.0L44.7,205.2L44.9,219.9L45.0,204.1L45.1,205.6L45.3,194.3L45.4,204.4L45.6,208.8L45.7,204.7L45.9,203.5L46.0,195.1L46.1,211.6L46.3,222.7L46.4,178.6L46.6,195.6L46.7,201.4L46.9,179.8L47.0,211.1L47.1,207.5L47.3,204.1L47.4,195.4L47.6,203.9L47.7,192.6L47.9,203.2L48.0,188.3L48.1,196.4L48.3,216.7L48.4,202.0L48.6,212.8L48.7,203.7L48.9,202.6L49.0,181.2L49.1,204.6L49.3,217.6L49.4,200.8L49.6,212.8L49.7,183.3L49.9,193.8L50.0,185.1L50.1,204.1L50.3,210.2L50.4,197.0L50.6,213.2L50.7,209.1L50.9,206.9L51.0,200.7L51.1,213.9L51.3,218.9L51.4,184.5L51.6,203.6L51.7,199.8L51.9,192.0L52.0,193.4L52.1,203.9L52.3,201.6L52.4,181.1L52.6,184.2L52.7,188.8L52.9,179.4L53.0,213.7L53.1,193.6L53.3,197.4L53.4,213.3L53.6,191.0L53.7,188.1L53.9,192.2L54.0,213.0L54.1,197.9L54.3,194.3L54.4,199.3L54.6,194.8L54.7,193.1L54.9,184.3L55.0,196.1L55.1,172.5L55.3,196.2L55.4,195.5L55.6,190.6L55.7,198.9L55.9,201.4L56.0,186.0L56.1,219.1L56.3,215.4L56.4,177.6L56.6,190.6L56.7,192.2L56.9,193.8L57.0,193.2L57.1,204.3L57.3,196.8L57.4,203.0L57.6,180.7L57.7,185.0L57.9,188.4L58.0,186.7L58.1,191.8L58.3,201.9L58.4,174.1L58.6,184.8L58.7,193.3L58.9,186.1L59.0,179.8L59.1,181.0L59.3,186.3L59.4,184.8L59.6,195.1L59.7,179.4L59.9,183.1L60.0,182.7L60.1,204.3L60.3,184.9L60.4,184.2L60.6,182.5L60.7,215.6L60.9,208.3L61.0,187.1L61.1,199.2L61.3,186.1L61.4,190.8L61.6,181.4L61.7,195.4L61.9,200.4L62.0,184.8L62.1,192.8L62.3,201.8L62.4,209.9L62.6,170.0L62.7,194.7L62.9,194.4L63.0,212.3L63.1,204.1L63.3,196.8L63.4,193.2L63.6,189.8L63.7,205.8L63.9,194.4L64.0,188.3L64.1,204.9L64.3,200.7L64.4,218.0L64.6,208.3L64.7,213.9L64.9,193.7L65.0,202.1L65.1,184.7L65.3,198.6L65.4,192.7L65.6,195.7L65.7,198.7L65.9,211.1L66.0,183.7L66.1,200.5L66.3,217.3L66.4,204.2L66.6,208.9L66.7,185.9L66.9,186.9L67.0,182.0L67.1,175.7L67.3,204.3L67.4,217.4L67.6,208.9L67.7,196.5L67.9,220.9L68.0,208.5L68.1,194.9L68.3,212.3L68.4,205.3L68.6,213.1L68.7,186.2L68.9,183.4L69.0,211.9L69.1,209.0L69.3,198.1L69.4,191.2L69.6,192.7L69.7,189.5L69.9,185.4L70.0,182.7L70.1,175.7L70.3,192.4L70.4,198.6L70.6,194.4L70.7,171.2L70.9,184.9L71.0,185.9L71.1,179.4L71.3,180.4L71.4,169.9L71.6,200.5L71.7,190.4L71.9,184.9L72.0,184.4L72.1,196.7L72.3,209.3L72.4,196.0L72.6,200.4L72.7,194.7L72.9,182.7L73.0,186.8L73.1,205.3L73.3,201.6L73.4,192.5L73.6,183.4L73.7,195.9L73.9,193.5L74.0,211.2L74.1,201.4L74.3,204.7L74.4,195.0L74.6,199.7L74.7,205.8L74.9,207.7L75.0,194.6L75.1,202.9L75.3,184.8L75.4,194.4L75.6,198.3L75.7,186.4L75.9,207.3L76.0,186.2L76.1,202.7L76.3,188.6L76.4,203.3L76.6,206.6L76.7,216.3L76.9,198.2L77.0,194.5L77.1,213.9L77.3,182.7L77.4,200.9L77.6,212.0L77.7,181.1L77.9,204.5L78.0,185.6L78.1,220.5L78.3,178.0L78.4,197.2L78.6,198.9L78.7,195.4L78.9,209.9L79.0,189.1L79.1,194.0L79.3,195.4L79.4,204.6L79.6,210.8L79.7,196.0L79.9,191.9L80.0,199.0L80.1,202.8L80.3,206.3L80.4,194.2L80.6,186.9L80.7,202.9L80.9,209.7L81.0,176.4L81.1,216.2L81.3,197.8L81.4,201.1L81.6,186.8L81.7,201.0L81.9,216.1L82.0,210.9L82.1,198.6L82.3,199.9L82.4,206.2L82.6,205.1L82.7,214.9L82.9,213.9L83.0,205.3L83.1,205.8L83.3,200.3L83.4,210.6L83.6,183.4L83.7,216.7L83.9,191.2L84.0,195.0L84.1,185.5L84.3,188.2L84.4,215.8L84.6,199.8L84.7,196.3L84.9,194.9L85.0,199.2L85.1,209.8L85.3,190.8L85.4,204.1L85.6,206.9L85.7,199.2L85.9,204.5L86.0,205.7L86.1,197.1L86.3,171.6L86.4,194.1L86.6,196.5L86.7,202.0L86.9,194.6L87.0,210.4L87.1,194.7L87.3,197.7L87.4,200.4L87.6,197.3L87.7,204.5L87.9,196.4L88.0,197.8L88.1,197.5L88.3,202.9L88.4,194.1L88.6,204.4L88.7,189.7L88.9,203.3L89.0,189.4L89.1,199.4L89.3,202.1L89.4,211.6L89.6,195.4L89.7,198.0L89.9,200.9L90.0,197.2L90.1,199.8L90.3,209.9L90.4,212.3L90.6,194.3L90.7,198.6L90.9,185.3L91.0,180.4L91.1,192.1L91.3,194.1L91.4,195.0L91.6,199.7L91.7,207.3L91.9,219.9L92.0,193.8L92.1,195.6L92.3,201.1L92.4,200.1L92.6,191.6L92.7,191.7L92.9,198.2L93.0,201.8L93.1,192.5L93.3,189.6L93.4,174.8L93.6,204.7L93.7,190.1L93.9,203.1L94.0,198.6L94.1,170.7L94.3,197.7L94.4,194.7L94.6,199.0L94.7,184.6L94.9,197.1L95.0,209.3L95.1,191.3L95.3,184.4L95.4,192.6L95.6,190.7L95.7,199.0L95.9,201.3L96.0,191.9L96.1,203.2L96.3,196.3L96.4,201.8L96.6,194.3L96.7,184.2L96.9,192.4L97.0,180.8L97.1,188.5L97.3,193.5L97.4,201.3L97.6,191.4L97.7,204.1L97.9,185.3L98.0,206.2L98.1,206.8L98.3,201.6L98.4,209.7L98.6,192.1L98.7,200.7L98.9,197.5L99.0,186.6L99.1,214.4L99.3,194.7L99.4,188.6L99.6,181.8L99.7,190.4L99.9,198.2L100.0,182.2L100.1,182.3L100.3,169.6L100.4,170.4L100.6,193.9L100.7,178.5L100.9,190.1L101.0,202.4L101.1,185.4L101.3,179.5L101.4,215.9L101.6,179.1L101.7,200.5L101.9,175.8L102.0,189.2L102.1,189.6L102.3,176.7L102.4,193.7L102.6,168.8L102.7,199.4L102.9,195.6L103.0,200.4L103.1,183.8L103.3,189.8L103.4,180.7L103.6,177.4L103.7,180.2L103.9,177.0L104.0,176.6L104.1,188.6L104.3,195.2L104.4,197.7L104.6,179.8L104.7,193.2L104.9,198.0L105.0,196.8L105.1,190.5L105.3,186.0L105.4,191.3L105.6,199.7L105.7,183.4L105.9,212.8L106.0,192.8L106.1,178.6L106.3,187.1L106.4,177.7L106.6,189.8L106.7,185.3L106.9,191.6L107.0,197.2L107.1,189.0L107.3,183.0L107.4,214.9L107.6,202.5L107.7,216.3L107.9,203.5L108.0,206.8L108.1,197.6L108.3,195.0L108.4,180.8L108.6,177.2L108.7,199.0L108.9,195.3L109.0,182.9L109.1,196.9L109.3,194.6L109.4,211.0L109.6,183.2L109.7,189.0L109.9,203.3L110.0,208.0L110.1,205.7L110.3,189.5L110.4,200.1L110.6,208.4L110.7,198.3L110.9,184.7L111.0,180.0L111.1,178.5L111.3,191.7L111.4,189.8L111.6,189.0L111.7,184.4L111.9,185.1L112.0,202.7L112.1,200.2L112.3,196.2L112.4,183.8L112.6,197.7L112.7,200.6L112.9,180.1L113.0,175.0L113.1,202.2L113.3,193.4L113.4,178.5L113.6,196.5L113.7,181.4L113.9,208.8L114.0,195.2L114.2,185.4L114.3,175.6L114.4,182.8L114.6,213.2L114.7,212.5L114.9,204.9L115.0,184.9L115.2,185.9L115.3,181.3L115.4,185.4L115.6,199.7L115.7,196.6L115.9,201.9L116.0,180.6L116.2,204.9L116.3,188.4L116.4,185.7L116.6,173.5L116.7,197.2L116.9,182.7L117.0,199.2L117.2,174.1L117.3,190.4L117.4,189.2L117.6,196.6L117.7,191.9L117.9,192.0L118.0,191.1L118.2,169.2L118.3,195.8L118.4,181.1L118.6,174.4L118.7,199.5L118.9,213.0L119.0,181.2L119.2,208.2L119.3,197.8L119.4,189.4L119.6,184.5L119.7,191.0L119.9,196.3L120.0,174.8L120.2,184.3L120.3,162.7L120.4,198.3L120.6,188.0L120.7,187.3L120.9,179.8L121.0,183.7L121.2,186.1L121.3,161.2L121.4,188.0L121.6,180.0L121.7,182.9L121.9,192.8L122.0,175.1L122.2,208.5L122.3,169.5L122.4,204.4L122.6,188.4L122.7,183.3L122.9,191.3L123.0,192.2L123.2,170.3L123.3,155.1L123.4,173.3L123.6,185.4L123.7,196.2L123.9,198.4L124.0,172.6L124.2,176.7L124.3,170.5L124.4,173.8L124.6,168.4L124.7,192.7L124.9,194.0L125.0,195.8L125.2,181.6L125.3,183.1L125.4,178.6L125.6,196.4L125.7,178.3L125.9,170.5L126.0,181.3L126.2,215.4L126.3,184.9L126.4,190.5L126.6,174.3L126.7,189.7L126.9,179.5L127.0,193.6L127.2,183.9L127.3,175.3L127.4,192.2L127.6,184.6L127.7,186.8L127.9,180.9L128.0,191.0L128.2,183.2L128.3,214.5L128.4,193.0L128.6,178.8L128.7,180.8L128.9,202.6L129.0,199.9L129.2,183.3L129.3,183.2L129.4,181.3L129.6,186.2L129.7,185.3L129.9,172.6L130.0,199.1L130.2,205.2L130.3,172.8L130.4,196.4L130.6,176.5L130.7,194.4L130.9,199.7L131.0,163.7L131.2,185.0L131.3,202.8L131.4,186.7L131.6,186.2L131.7,186.8L131.9,181.9L132.0,199.8L132.2,188.4L132.3,178.7L132.4,176.6L132.6,183.9L132.7,195.9L132.9,211.7L133.0,165.6L133.2,200.2L133.3,191.2L133.4,184.9L133.6,179.0L133.7,185.1L133.9,195.6L134.0,185.0L134.2,132.9L134.3,150.6L134.4,186.8L134.6,175.0L134.7,135.6L134.9,181.3L135.0,175.1L135.2,189.4L135.3,161.7L135.4,175.0L135.6,179.2L135.7,214.4L135.9,196.2L136.0,178.3L136.2,194.1L136.3,210.6L136.4,194.5L136.6,166.0L136.7,176.9L136.9,173.9L137.0,182.5L137.2,163.2L137.3,214.2L137.4,200.1L137.6,158.3L137.7,169.7L137.9,180.4L138.0,188.3L138.2,208.0L138.3,189.6L138.4,186.0L138.6,196.5L138.7,166.0L138.9,170.6L139.0,188.2L139.2,172.2L139.3,184.3L139.4,179.5L139.6,188.7L139.7,148.4L139.9,200.4L140.0,181.5L140.2,165.0L140.3,164.6L140.4,199.6L140.6,190.6L140.7,179.4L140.9,189.2L141.0,187.9L141.2,182.8L141.3,182.1L141.4,165.8L141.6,203.7L141.7,167.3L141.9,184.7L142.0,174.0L142.2,186.4L142.3,150.2L142.4,205.2L142.6,165.0L142.7,186.3L142.9,183.0L143.0,160.6L143.2,181.8L143.3,166.8L143.4,159.4L143.6,186.7L143.7,152.1L143.9,162.9L144.0,183.4L144.2,178.3L144.3,191.7L144.4,179.3L144.6,172.4L144.7,171.3L144.9,182.1L145.0,192.2L145.2,193.7L145.3,197.3L145.4,187.5L145.6,174.8L145.7,189.5L145.9,189.7L146.0,193.7L146.2,171.2L146.3,181.5L146.4,199.2L146.6,163.0L146.7,164.0L146.9,178.3L147.0,184.0L147.2,180.7L147.3,193.4L147.4,168.7L147.6,164.5L147.7,169.9L147.9,180.8L148.0,181.0L148.2,176.8L148.3,160.6L148.4,192.8L148.6,181.3L148.7,188.9L148.9,194.6L149.0,172.9L149.2,161.3L149.3,189.5L149.4,161.9L149.6,166.1L149.7,169.2L149.9,158.0L150.0,185.6L150.2,156.5L150.3,183.7L150.4,172.8L150.6,201.3L150.7,168.9L150.9,181.9L151.0,189.9L151.2,196.0L151.3,179.6L151.4,164.5L151.6,174.7L151.7,186.0L151.9,191.3L152.0,194.8L152.2,185.1L152.3,201.8L152.4,185.6L152.6,166.2L152.7,181.4L152.9,182.5L153.0,188.1L153.2,170.4L153.3,171.1L153.4,160.3L153.6,187.9L153.7,193.2L153.9,186.4L154.0,194.7L154.2,179.3L154.3,184.6L154.4,190.6L154.6,180.3L154.7,166.9L154.9,171.1L155.0,189.2L155.2,180.8L155.3,145.2L155.4,173.0L155.6,186.4L155.7,199.2L155.9,178.3L156.0,196.3L156.2,189.3L156.3,188.8L156.4,174.0L156.6,193.1L156.7,185.4L156.9,190.7L157.0,195.3L157.2,176.3L157.3,193.3L157.4,180.0L157.6,181.4L157.7,208.2L157.9,204.3L158.0,212.0L158.2,176.6L158.3,176.3L158.4,186.2L158.6,186.1L158.7,183.6L158.9,187.9L159.0,180.4L159.2,180.6L159.3,192.1L159.4,162.1L159.6,167.8L159.7,186.6L159.9,153.0L160.0,149.5L160.2,165.3L160.3,165.9L160.4,189.2L160.6,185.7L160.7,202.2L160.9,187.0L161.0,168.8L161.2,186.9L161.3,203.5L161.4,160.6L161.6,155.8L161.7,161.9L161.9,201.9L162.0,171.4L162.2,193.4L162.3,184.8L162.4,174.2L162.6,163.6L162.7,192.1L162.9,188.6L163.0,200.6L163.2,184.1L163.3,197.2L163.4,191.3L163.6,175.3L163.7,185.9L163.9,184.7L164.0,183.1L164.2,176.6L164.3,169.3L164.4,202.9L164.6,208.7L164.7,180.6L164.9,177.8L165.0,168.1L165.2,175.4L165.3,162.3L165.4,177.5L165.6,191.9L165.7,170.0L165.9,194.4L166.0,191.6L166.2,177.4L166.3,186.3L166.4,171.1L166.6,188.7L166.7,160.4L166.9,198.3L167.0,176.1L167.2,191.8L167.3,167.5L167.4,193.8L167.6,176.2L167.7,211.0L167.9,195.1L168.0,163.2L168.2,181.6L168.3,182.2L168.4,170.9L168.6,150.2L168.7,195.6L168.9,181.9L169.0,186.7L169.2,171.5L169.3,190.4L169.4,202.1L169.6,202.2L169.7,174.2L169.9,180.7L170.0,172.8L170.2,205.6L170.3,196.8L170.4,192.2L170.6,173.8L170.7,178.8L170.9,186.4L171.0,196.8L171.2,148.0L171.3,188.5L171.4,169.9L171.6,158.0L171.7,178.8L171.9,194.7L172.0,148.4L172.2,171.2L172.3,172.4L172.4,177.9L172.6,177.1L172.7,178.1L172.9,175.9L173.0,199.1L173.2,188.7L173.3,180.5L173.4,177.3L173.6,176.6L173.7,173.6L173.9,203.4L174.0,192.5L174.2,189.0L174.3,179.0L174.4,183.7L174.6,155.7L174.7,187.0L174.9,185.5L175.0,202.7L175.2,158.3L175.3,180.8L175.4,182.8L175.6,189.1L175.7,178.7L175.9,183.7L176.0,162.5L176.2,188.5L176.3,183.1L176.4,184.2L176.6,169.5L176.7,172.9L176.9,164.1L177.0,169.7L177.2,169.0L177.3,175.4L177.4,164.0L177.6,169.2L177.7,171.0L177.9,196.3L178.0,181.5L178.2,184.7L178.3,200.3L178.4,160.4L178.6,159.9L178.7,166.1L178.9,174.3L179.0,163.7L179.2,206.4L179.3,168.6L179.4,210.0L179.6,183.9L179.7,184.3L179.9,178.7L180.0,176.3L180.2,174.8L180.3,192.6L180.4,191.6L180.6,193.0L180.7,179.8L180.9,185.7L181.0,201.9L181.2,168.5L181.3,195.9L181.4,187.3L181.6,190.5L181.7,190.4L181.9,172.9L182.0,189.4L182.2,199.0L182.3,188.7L182.4,193.4L182.6,199.8L182.7,167.5L182.9,164.1L183.0,197.7L183.2,157.9L183.3,154.0L183.4,195.6L183.6,171.6L183.7,180.3L183.9,165.5L184.0,210.0L184.2,168.0L184.3,181.1L184.4,170.5L184.6,148.0L184.7,208.7L184.9,179.1L185.0,179.1L185.2,171.6L185.3,165.0L185.4,170.1L185.6,189.9L185.7,170.2L185.9,188.7L186.0,168.1L186.2,179.6L186.3,178.8L186.4,174.0L186.6,195.7L186.7,178.6L186.9,189.6L187.0,161.8L187.2,157.4L187.3,192.8L187.4,203.3L187.6,171.1L187.7,181.7L187.9,186.5L188.0,145.9L188.2,180.0L188.3,188.0L188.4,178.2L188.6,170.9L188.7,154.3L188.9,171.3L189.0,192.1L189.2,182.9L189.3,153.4L189.4,200.6L189.6,179.3L189.7,163.9L189.9,176.0L190.0,182.3L190.2,190.8L190.3,176.8L190.4,171.4L190.6,174.5L190.7,163.2L190.9,173.0L191.0,158.0L191.2,172.2L191.3,161.6L191.4,177.3L191.6,150.4L191.7,156.8L191.9,164.4L192.0,186.5L192.2,171.6L192.3,210.4L192.4,179.5L192.6,173.1L192.7,186.7L192.9,173.7L193.0,167.2L193.2,152.4L193.3,175.8L193.4,196.6L193.6,207.0L193.7,179.1L193.9,165.7L194.0,163.2L194.2,176.8L194.3,186.9L194.4,187.6L194.6,180.3L194.7,177.3L194.9,170.8L195.0,176.9L195.2,152.5L195.3,176.4L195.4,172.0L195.6,164.9L195.7,166.1L195.9,186.7L196.0,199.4L196.2,195.2L196.3,173.6L196.4,170.7L196.6,173.8L196.7,167.9L196.9,161.3L197.0,187.9L197.2,146.8L197.3,146.8L197.4,167.9L197.6,180.0L197.7,174.3L197.9,195.4L198.0,176.4L198.2,186.7L198.3,176.9L198.4,179.2L198.6,148.0L198.7,185.3L198.9,169.9L199.0,179.0L199.2,153.6L199.3,160.8L199.4,194.8L199.6,188.7L199.7,173.5L199.9,186.0L200.0,173.3L200.2,178.9L200.3,194.6L200.4,185.2L200.6,175.5L200.7,182.6L200.9,179.7L201.0,176.4L201.2,182.5L201.3,163.2L201.4,196.4L201.6,173.8L201.7,186.4L201.9,174.6L202.0,169.1L202.2,172.1L202.3,171.9L202.4,170.9L202.6,174.0L202.7,183.9L202.9,171.6L203.0,168.6L203.2,170.1L203.3,177.8L203.4,178.0L203.6,207.4L203.7,192.8L203.9,185.4L204.0,170.6L204.2,168.7L204.3,182.8L204.4,199.6L204.6,179.5L204.7,173.5L204.9,176.6L205.0,195.5L205.2,200.2L205.3,197.7L205.4,199.5L205.6,172.3L205.7,180.5L205.9,156.1L206.0,162.0L206.2,169.6L206.3,190.8L206.4,173.2L206.6,175.7L206.7,199.3L206.9,197.5L207.0,190.7L207.2,165.2L207.3,186.4L207.4,199.1L207.6,180.3L207.7,173.7L207.9,196.8L208.0,156.6L208.2,190.4L208.3,167.2L208.4,172.0L208.6,190.1L208.7,182.3L208.9,180.6L209.0,185.5L209.2,171.3L209.3,180.2L209.4,203.0L209.6,179.4L209.7,194.9L209.9,182.7L210.0,176.0L210.2,179.7L210.3,164.4L210.4,177.7L210.6,182.8L210.7,154.4L210.9,165.8L211.0,176.8L211.2,175.1L211.3,180.7L211.4,175.0L211.6,189.1L211.7,154.7L211.9,162.3L212.0,207.7L212.2,191.9L212.3,180.7L212.4,188.8L212.6,208.2L212.7,172.2L212.9,197.1L213.0,173.6L213.2,177.4L213.3,164.5L213.4,196.5L213.6,162.2L213.7,202.3L213.9,167.6L214.0,173.6L214.2,181.9L214.3,201.9L214.4,167.1L214.6,177.7L214.7,209.9L214.9,211.8L215.0,197.2L215.2,200.0L215.3,179.7L215.4,187.4L215.6,185.2L215.7,195.8L215.9,176.5L216.0,195.7L216.2,207.2L216.3,212.0L216.4,179.2L216.6,193.3L216.7,207.1L216.9,195.8L217.0,189.3L217.2,175.2L217.3,211.9L217.4,189.4L217.6,174.4L217.7,177.7L217.9,173.1L218.0,157.8L218.2,194.8L218.3,191.3L218.4,169.3L218.6,162.0L218.7,178.9L218.9,187.8L219.0,199.2L219.2,176.4L219.3,180.6L219.4,199.7L219.6,193.0L219.7,199.4L219.9,179.1L220.0,188.7L220.2,170.4L220.3,168.9L220.4,182.2L220.6,170.8L220.7,172.6L220.9,166.6L221.0,192.4L221.2,177.8L221.3,161.7L221.4,177.2L221.6,191.3L221.7,182.5L221.9,155.6L222.0,191.0L222.2,194.3L222.3,150.8L222.4,191.3L222.6,207.3L222.7,207.6L222.9,186.6L223.0,195.1L223.2,167.3L223.3,194.1L223.4,203.9L223.6,194.9L223.7,200.1L223.9,167.3L224.0,192.3L224.2,161.1L224.3,173.0L224.4,153.2L224.6,181.5L224.7,168.8L224.9,207.7L225.0,186.0L225.2,189.5L225.3,164.0L225.4,180.9L225.6,170.0L225.7,188.4L225.9,195.9L226.0,179.8L226.2,161.2L226.3,179.4L226.4,157.7L226.6,183.2L226.7,183.6L226.9,183.7L227.0,182.5L227.2,188.3L227.3,182.3L227.4,190.0L227.6,193.0L227.7,159.1L227.9,168.2L228.0,184.6L228.2,189.4L228.3,203.0L228.4,174.9L228.6,192.5L228.7,158.1L228.9,207.7L229.0,179.9L229.2,168.0L229.3,191.2L229.4,156.2L229.6,169.3L229.7,168.8L229.9,193.0L230.0,166.8L230.2,166.4L230.3,177.7L230.4,155.0L230.6,174.5L230.7,209.9L230.9,175.3L231.0,157.0L231.2,189.7L231.3,172.4L231.4,192.0L231.6,184.2L231.7,213.6L231.9,209.8L232.0,189.4L232.2,193.2L232.3,210.6L232.4,175.9L232.6,180.7L232.7,197.6L232.9,213.8L233.0,178.1L233.2,192.7L233.3,176.2L233.4,170.7L233.6,190.8L233.7,188.9L233.9,175.0L234.0,188.2L234.2,210.9L234.3,175.0L234.4,178.3L234.6,189.8L234.7,174.4L234.9,186.4L235.0,186.7L235.2,170.4L235.3,200.3L235.4,204.0L235.6,184.4L235.7,200.8L235.9,171.4L236.0,193.8L236.2,207.8L236.3,190.0L236.4,214.1L236.6,166.3L236.7,185.5L236.9,175.8L237.0,178.1L237.2,182.5L237.3,199.5L237.4,174.5L237.6,189.9L237.7,195.9L237.9,213.4L238.0,168.2L238.2,189.3L238.3,192.3L238.4,213.4L238.6,175.3L238.7,190.5L238.9,176.0L239.0,191.1L239.2,203.0L239.3,184.1L239.4,213.8L239.6,213.8L239.7,193.6L239.9,182.5L240.0,177.5L240.2,194.0L240.3,194.3L240.4,189.8L240.6,195.4L240.7,199.4L240.9,185.6L241.0,199.4L241.2,195.3L241.3,175.7L241.4,150.8L241.6,198.4L241.7,181.3L241.9,192.2L242.0,180.5L242.2,201.2L242.3,199.6L242.4,208.4L242.6,173.3L242.7,169.4L242.9,172.3L243.0,183.6L243.2,185.7L243.3,191.5L243.4,180.2L243.6,190.6L243.7,201.9L243.9,174.3L244.0,175.6L244.2,180.5L244.3,188.4L244.4,192.4L244.6,185.5L244.7,183.6L244.9,202.0L245.0,191.9L245.2,199.8L245.3,169.9L245.4,203.4L245.6,201.3L245.7,196.9L245.9,182.6L246.0,197.3L246.2,160.7L246.3,174.6L246.4,214.6L246.6,181.4L246.7,179.7L246.9,201.7L247.0,185.6L247.2,183.4L247.3,193.5L247.4,186.5L247.6,180.9L247.7,192.9L247.9,187.2L248.0,203.1L248.2,178.4L248.3,195.8L248.4,170.4L248.6,158.7L248.7,163.6L248.9,192.5L249.0,180.0L249.2,189.0L249.3,178.8L249.4,196.0L249.6,198.1L249.7,184.6L249.9,194.5L250.0,166.4L250.2,173.0L250.3,178.1L250.4,184.6L250.6,184.8L250.7,169.1L250.9,181.3L251.0,182.1L251.2,156.6L251.3,180.2L251.4,185.5L251.6,184.8L251.7,164.1L251.9,188.2L252.0,188.0L252.2,166.4L252.3,165.5L252.4,162.2L252.6,193.3L252.7,175.6L252.9,189.5L253.0,176.0L253.2,203.3L253.3,184.3L253.4,166.5L253.6,178.3L253.7,214.0L253.9,167.1L254.0,175.6L254.2,184.3L254.3,180.6L254.4,185.2L254.6,165.2L254.7,181.7L254.9,203.5L255.0,193.3L255.2,159.3L255.3,166.3L255.4,170.9L255.6,193.0L255.7,174.9L255.9,168.4L256.0,181.6L256.2,173.2L256.3,167.7L256.4,169.0L256.6,176.8L256.7,176.4L256.9,199.6L257.0,186.4L257.2,170.7L257.3,158.6L257.4,179.7L257.6,167.6L257.7,182.8L257.9,196.8L258.0,178.1L258.2,178.3L258.3,197.6L258.4,197.7L258.6,185.6L258.7,193.7L258.9,180.0L259.0,205.8L259.2,175.8L259.3,195.4L259.4,182.0L259.6,208.2L259.7,173.6L259.9,183.6L260.0,157.0L260.2,208.9L260.3,211.1L260.4,175.8L260.6,173.2L260.7,210.1L260.9,177.9L261.0,172.1L261.2,165.3L261.3,182.7L261.4,205.6L261.6,210.8L261.7,154.9L261.9,177.9L262.0,169.8L262.2,187.6L262.3,186.0L262.4,185.4L262.6,195.1L262.7,185.8L262.9,196.8L263.0,186.8L263.2,165.3L263.3,180.0L263.4,189.5L263.6,156.0L263.7,161.7L263.9,179.0L264.0,203.6L264.2,161.4L264.3,161.1L264.4,187.3L264.6,159.3L264.7,190.4L264.9,182.6L265.0,185.2L265.2,176.4L265.3,181.3L265.4,160.4L265.6,185.9L265.7,176.0L265.9,182.6L266.0,180.8L266.2,196.5L266.3,186.1L266.5,166.3L266.6,172.9L266.7,200.1L266.9,188.0L267.0,195.6L267.2,190.2L267.3,187.8L267.5,195.4L267.6,168.3L267.7,160.0L267.9,170.4L268.0,179.4L268.2,169.2L268.3,183.9L268.5,155.1L268.6,134.5L268.7,204.4L268.9,165.6L269.0,132.9L269.2,168.7L269.3,176.2L269.5,195.6L269.6,172.9L269.7,177.7L269.9,137.0L270.0,170.5L270.2,176.8L270.3,131.5L270.5,186.7L270.6,172.2L270.7,185.6L270.9,167.4L271.0,140.0L271.2,165.5L271.3,178.3L271.5,186.6L271.6,158.1L271.7,179.6L271.9,160.3L272.0,182.5L272.2,181.5L272.3,175.7L272.5,201.1L272.6,159.2L272.7,195.4L272.9,176.7L273.0,172.9L273.2,145.4L273.3,173.5L273.5,168.6L273.6,187.7L273.7,182.1L273.9,180.1L274.0,164.6L274.2,194.7L274.3,175.1L274.5,145.7L274.6,196.3L274.7,209.8L274.9,191.6L275.0,186.7L275.2,161.5L275.3,179.1L275.5,170.0L275.6,197.0L275.7,187.8L275.9,183.7L276.0,201.0L276.2,185.7L276.3,194.9L276.5,188.5L276.6,212.8L276.7,216.4L276.9,174.2L277.0,193.5L277.2,195.4L277.3,156.8L277.5,179.0L277.6,186.9L277.7,202.4L277.9,187.2L278.0,188.8L278.2,195.5L278.3,171.1L278.5,180.6L278.6,183.2L278.7,203.0L278.9,200.9L279.0,174.9L279.2,187.1L279.3,198.1L279.5,185.3L279.6,189.1L279.7,195.5L279.9,191.7L280.0,178.2L280.2,184.3L280.3,201.5L280.5,200.0L280.6,185.7L280.7,205.2L280.9,188.9L281.0,192.8L281.2,209.9L281.3,217.9L281.5,203.8L281.6,192.1L281.7,191.8L281.9,173.5L282.0,190.7L282.2,191.2L282.3,184.2L282.5,195.1L282.6,163.8L282.7,196.0L282.9,199.8L283.0,194.7L283.2,170.6L283.3,196.2L283.5,199.6L283.6,181.3L283.7,173.7L283.9,197.1L284.0,182.1L284.2,202.0L284.3,173.4L284.5,208.5L284.6,197.2L284.7,199.2L284.9,206.0L285.0,193.7L285.2,182.7L285.3,203.5L285.5,164.6L285.6,187.6L285.7,186.0L285.9,201.4L286.0,191.3L286.2,177.8L286.3,204.5L286.5,200.3L286.6,202.5L286.7,209.4L286.9,182.5L287.0,202.9L287.2,168.7L287.3,209.5L287.5,196.8L287.6,191.3L287.7,205.7L287.9,219.7L288.0,200.5L288.2,191.6L288.3,204.3L288.5,187.1L288.6,216.6L288.7,186.4L288.9,161.4L289.0,177.1L289.2,176.6L289.3,194.9L289.5,195.3L289.6,173.1L289.7,192.5L289.9,178.1L290.0,199.8L290.2,180.3L290.3,182.8L290.5,215.7L290.6,186.8L290.7,177.6L290.9,178.3L291.0,181.1L291.2,169.0L291.3,188.1L291.5,198.1L291.6,175.6L291.7,159.4L291.9,193.5L292.0,168.3L292.2,191.6L292.3,209.3L292.5,200.8L292.6,199.9L292.7,171.8L292.9,185.7L293.0,194.1L293.2,184.5L293.3,166.9L293.5,186.9L293.6,195.8L293.7,181.7L293.9,198.8L294.0,181.8L294.2,176.6L294.3,188.8L294.5,198.5L294.6,192.3L294.7,214.0L294.9,174.4L295.0,164.0L295.2,195.6L295.3,220.8L295.5,204.9L295.6,215.2L295.7,220.8L295.9,197.4L296.0,197.6L296.2,203.8L296.3,180.4L296.5,194.7L296.6,208.3L296.7,189.6L296.9,212.1L297.0,200.1L297.2,206.6L297.3,191.7L297.5,199.4L297.6,203.6L297.7,192.4L297.9,189.7L298.0,192.7L298.2,181.0L298.3,209.6L298.5,190.2L298.6,173.0L298.7,194.8L298.9,221.3L299.0,181.6L299.2,196.9L299.3,185.5L299.5,190.3L299.6,185.7L299.7,177.7L299.9,192.0L300.0,183.2L300.2,210.4L300.3,204.9L300.5,194.7L300.6,172.2L300.7,203.7L300.9,197.4L301.0,184.1L301.2,199.7L301.3,209.7L301.5,218.3L301.6,182.2L301.7,206.9L301.9,187.5L302.0,185.1L302.2,204.5L302.3,185.6L302.5,219.0L302.6,192.6L302.7,204.6L302.9,188.2L303.0,188.7L303.2,189.1L303.3,183.6L303.5,200.0L303.6,210.5L303.7,207.9L303.9,179.1L304.0,205.2L304.2,196.2L304.3,187.1L304.5,193.7L304.6,204.3L304.7,218.6L304.9,179.6L305.0,199.0L305.2,212.4L305.3,199.8L305.5,190.9L305.6,216.5L305.7,189.4L305.9,190.8L306.0,184.8L306.2,190.1L306.3,202.5L306.5,210.3L306.6,191.7L306.7,195.6L306.9,169.3L307.0,145.2L307.2,183.7L307.3,188.5L307.5,212.0L307.6,180.6L307.7,196.7L307.9,209.9L308.0,186.9L308.2,177.1L308.3,194.9L308.5,197.4L308.6,202.2L308.7,199.4L308.9,179.5L309.0,192.0L309.2,187.0L309.3,184.3L309.5,222.5L309.6,188.2L309.7,182.6L309.9,186.8L310.0,208.6L310.2,200.2L310.3,182.3L310.5,186.2L310.6,186.6L310.7,207.4L310.9,190.2L311.0,176.1L311.2,194.4L311.3,178.5L311.5,185.0L311.6,185.8L311.7,205.0L311.9,205.0L312.0,205.6L312.2,183.0L312.3,181.9L312.5,211.0L312.6,214.3L312.7,196.7L312.9,181.9L313.0,195.0L313.2,190.5L313.3,192.4L313.5,191.2L313.6,200.1L313.7,192.4L313.9,189.8L314.0,199.7L314.2,177.1L314.3,211.4L314.5,202.8L314.6,208.4L314.7,184.2L314.9,183.7L315.0,206.4L315.2,195.7L315.3,202.0L315.5,213.1L315.6,205.7L315.7,191.2L315.9,187.9L316.0,203.9L316.2,194.4L316.3,183.6L316.5,175.9L316.6,188.0L316.7,201.7L316.9,210.3L317.0,189.0L317.2,193.0L317.3,195.8L317.5,196.8L317.6,195.0L317.7,186.2L317.9,180.1L318.0,199.3L318.2,166.6L318.3,172.9L318.5,194.4L318.6,188.2L318.7,173.7L318.9,204.4L319.0,200.8L319.2,200.7L319.3,205.6L319.5,184.0L319.6,195.5L319.7,191.4L319.9,191.5L320.0,194.9L320.2,173.6L320.3,194.4L320.5,203.1L320.6,209.8L320.7,201.5L320.9,191.3L321.0,192.2L321.2,191.5L321.3,201.0L321.5,191.2L321.6,191.7L321.7,212.9L321.9,193.6L322.0,193.7L322.2,202.5L322.3,185.7L322.5,198.7L322.6,208.7L322.7,187.8L322.9,177.5L323.0,161.8L323.2,200.3L323.3,188.6L323.5,192.1L323.6,187.3L323.7,184.0L323.9,222.8L324.0,192.7L324.2,221.8L324.3,214.0L324.5,216.3L324.6,197.4L324.7,223.3L324.9,202.7L325.0,222.7L325.2,179.3L325.3,209.9L325.5,202.8L325.6,216.1L325.7,207.5L325.9,183.1L326.0,195.1L326.2,211.5L326.3,202.7L326.5,197.9L326.6,174.2L326.7,197.3L326.9,190.5L327.0,182.9L327.2,166.6L327.3,188.2L327.5,209.5L327.6,208.6L327.7,175.4L327.9,191.4L328.0,220.0L328.2,202.5L328.3,201.6L328.5,200.0L328.6,187.5L328.7,186.9L328.9,178.4L329.0,218.0L329.2,190.9L329.3,196.8L329.5,207.2L329.6,183.6L329.7,210.3L329.9,211.0L330.0,173.8L330.2,188.6L330.3,183.5L330.5,177.4L330.6,209.4L330.7,176.6L330.9,192.3L331.0,186.9L331.2,183.7L331.3,186.2L331.5,199.4L331.6,195.6L331.7,194.2L331.9,184.0L332.0,223.6L332.2,180.9L332.3,210.4L332.5,172.1L332.6,193.0L332.7,176.9L332.9,200.8L333.0,175.9L333.2,191.3L333.3,190.5L333.5,189.2L333.6,223.6L333.7,211.8L333.9,213.0L334.0,191.6L334.2,195.4L334.3,182.7L334.5,188.9L334.6,178.3L334.7,203.0L334.9,190.5L335.0,201.6L335.2,210.3L335.3,218.1L335.5,197.5L335.6,207.7L335.7,202.5L335.9,207.4L336.0,208.4L336.2,161.8L336.3,192.9L336.5,209.0L336.6,194.5L336.7,191.4L336.9,209.6L337.0,178.0L337.2,202.8L337.3,185.2L337.5,197.9L337.6,202.9L337.7,161.8L337.9,201.8L338.0,213.7L338.2,201.8L338.3,208.1L338.5,182.3L338.6,190.4L338.7,210.5L338.9,173.6L339.0,198.4L339.2,211.8L339.3,181.7L339.5,187.0L339.6,207.7L339.7,209.1L339.9,196.8L340.0,203.1L340.2,187.8L340.3,191.0L340.5,209.4L340.6,208.0L340.7,197.5L340.9,178.1L341.0,202.3L341.2,186.8L341.3,202.3L341.5,188.7L341.6,201.2L341.7,188.6L341.9,204.6L342.0,202.2L342.2,168.1L342.3,180.1L342.5,206.8L342.6,175.8L342.7,192.2L342.9,172.9L343.0,206.5L343.2,191.1L343.3,195.6L343.5,199.5L343.6,205.9L343.7,167.6L343.9,192.7L344.0,197.2L344.2,214.6L344.3,180.3L344.5,180.5L344.6,196.9L344.7,212.1L344.9,187.6L345.0,194.7L345.2,212.8L345.3,168.2L345.5,185.1L345.6,206.5L345.7,204.2L345.9,184.2L346.0,179.2L346.2,186.9L346.3,187.9L346.5,199.2L346.6,168.6L346.7,198.1L346.9,191.9L347.0,189.9L347.2,198.3L347.3,185.2L347.5,175.6L347.6,223.0L347.7,197.6L347.9,178.8L348.0,176.4L348.2,199.3L348.3,184.3L348.5,189.6L348.6,189.5L348.7,198.7L348.9,177.8L349.0,175.2L349.2,170.3L349.3,187.1L349.5,188.9L349.6,176.6L349.7,161.8L349.9,194.2L350.0,192.6L350.2,169.5L350.3,206.0L350.5,223.6L350.6,179.4L350.7,174.3L350.9,175.2L351.0,179.4L351.2,178.4L351.3,201.1L351.5,179.4L351.6,205.2L351.7,212.5L351.9,195.8L352.0,209.1L352.2,206.7L352.3,200.9L352.5,197.8L352.6,190.5L352.7,204.9L352.9,199.3L353.0,193.5L353.2,189.4L353.3,185.2L353.5,181.4L353.6,188.2L353.7,185.7L353.9,183.5L354.0,192.9L354.2,191.3L354.3,206.0L354.5,192.7L354.6,184.1L354.7,205.4L354.9,181.2L355.0,204.3L355.2,184.3L355.3,176.5L355.5,194.3L355.6,201.6L355.7,190.6L355.9,200.8L356.0,206.7L356.2,181.9L356.3,218.7L356.5,183.2L356.6,204.3L356.7,183.0L356.9,201.2L357.0,172.1L357.2,201.4L357.3,223.5L357.5,161.8" stroke="#ed7d31"/>
</g>
<g fill="none" stroke-width="1.6" stroke-linejoin="round" filter="url(#sh)">
<path d="M37.0,241.5L37.0,208.2L37.1,215.9L37.3,223.1L37.4,210.1L37.6,215.2L37.7,210.2L37.9,206.1L38.0,217.8L38.1,223.7L38.3,220.8L38.4,208.0L38.6,213.6L38.7,207.6L38.9,216.7L39.0,206.9L39.1,216.6L39.3,217.2L39.4,211.2L39.6,211.5L39.7,212.0L39.9,209.1L40.0,201.2L40.1,215.2L40.3,224.8L40.4,206.9L40.6,195.0L40.7,203.0L40.9,223.0L41.0,209.7L41.1,204.7L41.3,207.0L41.4,199.3L41.6,207.6L41.7,229.5L41.9,209.3L42.0,220.4L42.1,221.3L42.3,227.5L42.4,223.2L42.6,214.9L42.7,201.7L42.9,201.0L43.0,205.0L43.1,199.8L43.3,213.8L43.4,217.2L43.6,192.4L43.7,204.4L43.9,211.1L44.0,200.4L44.1,213.5L44.3,191.2L44.4,218.0L44.6,210.5L44.7,207.2L44.9,207.7L45.0,218.7L45.1,198.4L45.3,201.5L45.4,207.9L45.6,203.2L45.7,214.6L45.9,199.9L46.0,216.1L46.1,221.1L46.3,210.8L46.4,210.0L46.6,202.7L46.7,197.6L46.9,184.7L47.0,217.5L47.1,219.4L47.3,196.9L47.4,184.7L47.6,187.8L47.7,200.9L47.9,202.5L48.0,203.3L48.1,179.9L48.3,202.9L48.4,197.0L48.6,215.0L48.7,190.6L48.9,202.7L49.0,204.2L49.1,204.7L49.3,203.0L49.4,171.0L49.6,195.4L49.7,195.4L49.9,212.1L50.0,220.1L50.1,227.4L50.3,211.4L50.4,203.0L50.6,202.2L50.7,221.0L50.9,196.5L51.0,209.5L51.1,189.4L51.3,204.2L51.4,199.8L51.6,207.8L51.7,206.5L51.9,197.9L52.0,191.6L52.1,189.9L52.3,206.1L52.4,212.2L52.6,193.6L52.7,184.0L52.9,204.2L53.0,203.6L53.1,203.9L53.3,195.3L53.4,188.3L53.6,209.6L53.7,194.3L53.9,183.5L54.0,193.4L54.1,209.2L54.3,217.5L54.4,201.4L54.6,187.2L54.7,193.8L54.9,186.9L55.0,207.1L55.1,202.2L55.3,211.4L55.4,195.6L55.6,203.2L55.7,208.9L55.9,203.6L56.0,192.2L56.1,188.0L56.3,188.5L56.4,171.0L56.6,188.5L56.7,207.3L56.9,185.7L57.0,207.7L57.1,211.3L57.3,192.0L57.4,207.3L57.6,201.4L57.7,207.7L57.9,204.7L58.0,221.9L58.1,192.7L58.3,188.8L58.4,204.4L58.6,187.4L58.7,190.9L58.9,186.5L59.0,182.7L59.1,211.9L59.3,189.1L59.4,199.4L59.6,189.5L59.7,200.9L59.9,175.4L60.0,180.0L60.1,198.5L60.3,193.6L60.4,196.1L60.6,196.0L60.7,188.7L60.9,209.7L61.0,214.8L61.1,187.0L61.3,195.8L61.4,204.8L61.6,207.6L61.7,216.8L61.9,204.0L62.0,220.2L62.1,200.1L62.3,198.8L62.4,209.5L62.6,191.2L62.7,194.3L62.9,200.7L63.0,211.4L63.1,210.7L63.3,214.2L63.4,225.7L63.6,204.5L63.7,196.9L63.9,221.8L64.0,201.4L64.1,208.2L64.3,204.5L64.4,198.2L64.6,196.4L64.7,214.3L64.9,199.1L65.0,212.2L65.1,226.4L65.3,185.9L65.4,208.0L65.6,212.0L65.7,193.9L65.9,203.9L66.0,215.2L66.1,207.0L66.3,206.0L66.4,211.9L66.6,226.4L66.7,208.4L66.9,220.5L67.0,221.7L67.1,209.7L67.3,186.5L67.4,222.9L67.6,206.2L67.7,225.5L67.9,226.4L68.0,212.6L68.1,198.3L68.3,205.1L68.4,205.0L68.6,194.7L68.7,202.8L68.9,214.8L69.0,219.1L69.1,212.4L69.3,205.5L69.4,213.3L69.6,212.6L69.7,216.4L69.9,219.2L70.0,223.6L70.1,219.1L70.3,190.7L70.4,198.1L70.6,194.3L70.7,207.6L70.9,209.8L71.0,199.1L71.1,211.7L71.3,194.8L71.4,205.7L71.6,198.4L71.7,215.5L71.9,187.2L72.0,204.7L72.1,199.6L72.3,214.9L72.4,214.2L72.6,199.0L72.7,224.4L72.9,193.0L73.0,213.0L73.1,196.0L73.3,213.5L73.4,206.7L73.6,205.2L73.7,195.9L73.9,215.0L74.0,199.6L74.1,202.2L74.3,196.9L74.4,214.3L74.6,205.2L74.7,213.4L74.9,209.8L75.0,194.4L75.1,193.6L75.3,216.9L75.4,209.0L75.6,208.5L75.7,218.3L75.9,212.5L76.0,219.9L76.1,202.3L76.3,218.6L76.4,192.9L76.6,226.4L76.7,202.0L76.9,201.5L77.0,215.1L77.1,226.4L77.3,206.0L77.4,221.1L77.6,196.1L77.7,206.4L77.9,207.5L78.0,205.7L78.1,198.3L78.3,206.2L78.4,199.5L78.6,201.0L78.7,210.1L78.9,192.3L79.0,186.7L79.1,191.9L79.3,202.5L79.4,196.6L79.6,215.5L79.7,213.1L79.9,213.9L80.0,210.8L80.1,195.8L80.3,213.5L80.4,211.4L80.6,220.5L80.7,211.6L80.9,221.9L81.0,194.5L81.1,205.7L81.3,194.2L81.4,189.5L81.6,199.1L81.7,200.4L81.9,202.4L82.0,208.1L82.1,226.2L82.3,200.3L82.4,208.7L82.6,210.7L82.7,205.0L82.9,197.8L83.0,189.0L83.1,205.8L83.3,207.8L83.4,182.3L83.6,187.6L83.7,185.0L83.9,196.7L84.0,209.0L84.1,180.7L84.3,182.2L84.4,202.4L84.6,192.2L84.7,185.4L84.9,171.4L85.0,184.3L85.1,191.0L85.3,199.0L85.4,201.4L85.6,197.1L85.7,203.5L85.9,189.7L86.0,194.8L86.1,198.8L86.3,206.9L86.4,195.0L86.6,199.6L86.7,191.8L86.9,205.8L87.0,188.4L87.1,196.5L87.3,174.8L87.4,202.9L87.6,173.7L87.7,171.2L87.9,194.4L88.0,172.4L88.1,181.7L88.3,206.2L88.4,198.7L88.6,181.2L88.7,187.9L88.9,181.1L89.0,185.1L89.1,173.5L89.3,191.0L89.4,199.4L89.6,195.2L89.7,188.4L89.9,197.7L90.0,188.5L90.1,190.5L90.3,191.7L90.4,188.9L90.6,192.7L90.7,178.1L90.9,187.6L91.0,180.5L91.1,204.0L91.3,188.8L91.4,194.7L91.6,211.0L91.7,170.9L91.9,205.7L92.0,183.7L92.1,185.1L92.3,181.2L92.4,198.4L92.6,220.8L92.7,186.7L92.9,194.1L93.0,185.4L93.1,193.4L93.3,177.4L93.4,184.9L93.6,193.5L93.7,170.7L93.9,195.2L94.0,211.9L94.1,187.4L94.3,183.4L94.4,182.2L94.6,153.5L94.7,187.8L94.9,196.3L95.0,191.5L95.1,179.7L95.3,192.1L95.4,178.9L95.6,189.1L95.7,185.5L95.9,189.8L96.0,174.1L96.1,184.9L96.3,194.4L96.4,184.7L96.6,173.4L96.7,183.1L96.9,197.0L97.0,193.8L97.1,196.9L97.3,171.8L97.4,184.7L97.6,177.8L97.7,178.9L97.9,191.6L98.0,177.0L98.1,190.4L98.3,186.1L98.4,211.2L98.6,191.0L98.7,194.4L98.9,198.1L99.0,187.6L99.1,203.0L99.3,192.2L99.4,216.2L99.6,191.4L99.7,196.2L99.9,170.5L100.0,187.0L100.1,182.9L100.3,220.8L100.4,195.0L100.6,203.5L100.7,178.0L100.9,182.5L101.0,192.2L101.1,192.4L101.3,193.7L101.4,195.8L101.6,188.5L101.7,189.5L101.9,197.8L102.0,204.4L102.1,180.1L102.3,202.4L102.4,206.1L102.6,174.3L102.7,198.2L102.9,201.3L103.0,214.3L103.1,211.1L103.3,185.5L103.4,203.6L103.6,187.9L103.7,211.5L103.9,191.3L104.0,198.4L104.1,204.3L104.3,218.7L104.4,185.7L104.6,198.5L104.7,200.2L104.9,190.6L105.0,210.6L105.1,184.8L105.3,191.2L105.4,193.8L105.6,193.2L105.7,206.6L105.9,201.3L106.0,194.9L106.1,205.1L106.3,185.4L106.4,191.3L106.6,185.5L106.7,216.6L106.9,184.5L107.0,206.3L107.1,209.5L107.3,204.6L107.4,186.5L107.6,196.6L107.7,196.8L107.9,189.3L108.0,187.8L108.1,185.9L108.3,186.9L108.4,192.5L108.6,189.2L108.7,208.2L108.9,194.8L109.0,216.2L109.1,193.7L109.3,191.5L109.4,200.5L109.6,197.9L109.7,181.0L109.9,163.1L110.0,191.6L110.1,171.5L110.3,188.0L110.4,181.6L110.6,186.4L110.7,185.0L110.9,179.0L111.0,193.3L111.1,183.0L111.3,196.0L111.4,195.2L111.6,184.3L111.7,197.3L111.9,218.4L112.0,193.1L112.1,176.9L112.3,201.3L112.4,184.6L112.6,195.0L112.7,207.4L112.9,195.0L113.0,216.1L113.1,179.6L113.3,196.4L113.4,188.3L113.6,192.3L113.7,207.8L113.9,196.3L114.0,179.6L114.2,183.5L114.3,196.0L114.4,199.6L114.6,192.8L114.7,205.6L114.9,189.2L115.0,209.1L115.2,199.6L115.3,182.8L115.4,191.7L115.6,198.6L115.7,190.2L115.9,194.6L116.0,189.2L116.2,180.5L116.3,192.9L116.4,209.8L116.6,187.4L116.7,200.1L116.9,179.4L117.0,180.9L117.2,191.1L117.3,185.8L117.4,205.8L117.6,208.5L117.7,193.6L117.9,186.3L118.0,175.7L118.2,197.2L118.3,200.2L118.4,199.9L118.6,199.4L118.7,190.4L118.9,207.9L119.0,185.5L119.2,207.9L119.3,170.8L119.4,196.3L119.6,194.1L119.7,212.5L119.9,191.7L120.0,214.4L120.2,185.0L120.3,200.0L120.4,190.1L120.6,186.9L120.7,182.1L120.9,177.6L121.0,180.0L121.2,184.3L121.3,199.1L121.4,205.2L121.6,186.2L121.7,191.3L121.9,201.0L122.0,196.8L122.2,187.0L122.3,188.0L122.4,204.2L122.6,211.9L122.7,218.3L122.9,202.9L123.0,201.2L123.2,211.5L123.3,186.1L123.4,177.0L123.6,204.7L123.7,188.7L123.9,197.6L124.0,190.4L124.2,195.0L124.3,198.2L124.4,188.3L124.6,191.7L124.7,204.4L124.9,196.0L125.0,208.4L125.2,203.3L125.3,197.2L125.4,199.0L125.6,220.4L125.7,197.9L125.9,216.6L126.0,201.7L126.2,196.4L126.3,219.4L126.4,214.8L126.6,194.8L126.7,199.9L126.9,223.2L127.0,193.0L127.2,209.4L127.3,214.9L127.4,199.4L127.6,208.1L127.7,200.3L127.9,197.3L128.0,173.9L128.2,189.1L128.3,195.6L128.4,197.0L128.6,194.3L128.7,192.8L128.9,204.4L129.0,192.5L129.2,205.1L129.3,203.8L129.4,198.8L129.6,187.1L129.7,189.1L129.9,222.8L130.0,185.0L130.2,197.0L130.3,196.8L130.4,182.4L130.6,205.3L130.7,208.8L130.9,218.7L131.0,210.4L131.2,189.4L131.3,206.6L131.4,208.9L131.6,193.9L131.7,208.6L131.9,205.9L132.0,206.4L132.2,193.8L132.3,205.3L132.4,203.3L132.6,200.0L132.7,217.4L132.9,200.7L133.0,217.0L133.2,210.5L133.3,202.6L133.4,196.0L133.6,199.4L133.7,185.1L133.9,194.3L134.0,189.1L134.2,199.6L134.3,201.0L134.4,176.4L134.6,211.1L134.7,181.7L134.9,202.0L135.0,187.4L135.2,208.2L135.3,189.9L135.4,192.1L135.6,217.8L135.7,202.7L135.9,189.3L136.0,185.4L136.2,193.0L136.3,202.2L136.4,197.1L136.6,210.5L136.7,207.7L136.9,195.3L137.0,198.1L137.2,191.0L137.3,196.7L137.4,192.6L137.6,199.8L137.7,192.3L137.9,173.0L138.0,209.0L138.2,197.4L138.3,203.7L138.4,193.7L138.6,194.1L138.7,207.5L138.9,197.3L139.0,196.7L139.2,199.9L139.3,195.2L139.4,183.6L139.6,191.4L139.7,200.1L139.9,194.4L140.0,175.6L140.2,202.7L140.3,184.2L140.4,202.7L140.6,212.3L140.7,202.5L140.9,191.2L141.0,196.6L141.2,200.8L141.3,201.0L141.4,202.1L141.6,202.5L141.7,197.2L141.9,216.5L142.0,185.7L142.2,187.3L142.3,189.6L142.4,165.9L142.6,198.1L142.7,192.8L142.9,220.7L143.0,192.3L143.2,199.1L143.3,189.0L143.4,186.7L143.6,197.3L143.7,208.3L143.9,190.9L144.0,184.8L144.2,183.2L144.3,197.3L144.4,200.6L144.6,192.9L144.7,200.3L144.9,211.4L145.0,184.9L145.2,184.1L145.3,181.8L145.4,197.6L145.6,189.2L145.7,201.5L145.9,204.4L146.0,184.1L146.2,208.1L146.3,192.7L146.4,165.8L146.6,176.4L146.7,182.3L146.9,183.4L147.0,192.3L147.2,197.0L147.3,170.6L147.4,194.2L147.6,198.9L147.7,186.4L147.9,194.2L148.0,180.4L148.2,200.3L148.3,202.4L148.4,198.2L148.6,177.8L148.7,184.9L148.9,192.0L149.0,193.9L149.2,191.5L149.3,205.1L149.4,190.1L149.6,200.4L149.7,193.1L149.9,195.2L150.0,192.4L150.2,200.2L150.3,185.8L150.4,191.9L150.6,203.3L150.7,191.2L150.9,199.1L151.0,191.9L151.2,187.2L151.3,200.5L151.4,195.6L151.6,194.2L151.7,194.1L151.9,173.7L152.0,190.1L152.2,204.7L152.3,192.0L152.4,198.5L152.6,168.8L152.7,199.6L152.9,204.6L153.0,186.6L153.2,199.5L153.3,198.5L153.4,197.4L153.6,202.1L153.7,199.8L153.9,217.7L154.0,197.1L154.2,189.7L154.3,177.5L154.4,194.9L154.6,187.0L154.7,201.7L154.9,179.8L155.0,171.7L155.2,190.0L155.3,196.3L155.4,192.3L155.6,177.7L155.7,205.0L155.9,180.6L156.0,202.9L156.2,201.4L156.3,191.0L156.4,187.5L156.6,184.5L156.7,180.2L156.9,205.0L157.0,193.3L157.2,186.6L157.3,191.5L157.4,183.3L157.6,193.9L157.7,197.2L157.9,216.0L158.0,212.6L158.2,187.2L158.3,205.7L158.4,191.8L158.6,188.4L158.7,195.6L158.9,184.6L159.0,200.1L159.2,188.1L159.3,194.6L159.4,207.2L159.6,211.8L159.7,194.3L159.9,176.9L160.0,181.1L160.2,187.5L160.3,184.2L160.4,183.0L160.6,193.5L160.7,178.5L160.9,188.0L161.0,195.0L161.2,164.8L161.3,183.4L161.4,190.6L161.6,182.1L161.7,200.5L161.9,200.4L162.0,170.9L162.2,182.9L162.3,198.7L162.4,203.6L162.6,189.3L162.7,198.0L162.9,175.8L163.0,205.9L163.2,176.6L163.3,197.7L163.4,200.1L163.6,188.6L163.7,201.2L163.9,195.4L164.0,195.6L164.2,213.2L164.3,202.0L164.4,188.0L164.6,210.2L164.7,203.5L164.9,199.2L165.0,182.1L165.2,181.9L165.3,176.5L165.4,198.8L165.6,182.3L165.7,187.4L165.9,201.4L166.0,184.6L166.2,189.5L166.3,195.5L166.4,199.3L166.6,204.2L166.7,184.8L166.9,185.4L167.0,192.1L167.2,193.0L167.3,195.0L167.4,182.6L167.6,187.7L167.7,205.7L167.9,188.3L168.0,184.4L168.2,193.8L168.3,192.2L168.4,192.9L168.6,181.3L168.7,190.4L168.9,186.8L169.0,185.7L169.2,172.3L169.3,199.9L169.4,164.7L169.6,196.6L169.7,187.3L169.9,192.3L170.0,183.4L170.2,179.3L170.3,164.2L170.4,173.1L170.6,190.1L170.7,182.1L170.9,183.3L171.0,190.8L171.2,179.9L171.3,183.3L171.4,190.3L171.6,192.9L171.7,180.6L171.9,188.4L172.0,176.6L172.2,179.6L172.3,198.6L172.4,207.0L172.6,188.0L172.7,194.9L172.9,198.6L173.0,196.1L173.2,176.9L173.3,192.2L173.4,173.2L173.6,183.3L173.7,205.9L173.9,186.0L174.0,176.3L174.2,205.4L174.3,200.5L174.4,189.7L174.6,193.4L174.7,172.9L174.9,195.7L175.0,172.6L175.2,200.5L175.3,195.7L175.4,185.1L175.6,183.5L175.7,186.8L175.9,173.8L176.0,172.1L176.2,170.7L176.3,189.3L176.4,180.6L176.6,190.9L176.7,175.5L176.9,208.9L177.0,193.9L177.2,189.8L177.3,192.0L177.4,173.3L177.6,199.7L177.7,194.4L177.9,197.7L178.0,187.3L178.2,194.9L178.3,178.1L178.4,178.1L178.6,204.3L178.7,203.8L178.9,177.0L179.0,180.2L179.2,197.3L179.3,183.1L179.4,193.5L179.6,175.3L179.7,194.0L179.9,187.7L180.0,177.9L180.2,181.6L180.3,172.6L180.4,178.1L180.6,194.9L180.7,179.5L180.9,191.4L181.0,168.6L181.2,167.4L181.3,171.3L181.4,163.5L181.6,174.7L181.7,169.1L181.9,174.0L182.0,174.8L182.2,175.2L182.3,180.3L182.4,167.1L182.6,192.4L182.7,196.4L182.9,189.2L183.0,168.3L183.2,184.2L183.3,188.7L183.4,188.7L183.6,177.0L183.7,181.3L183.9,170.2L184.0,183.3L184.2,172.6L184.3,188.3L184.4,176.5L184.6,163.3L184.7,184.0L184.9,184.0L185.0,175.0L185.2,192.5L185.3,188.2L185.4,189.1L185.6,182.1L185.7,196.0L185.9,171.3L186.0,182.0L186.2,181.0L186.3,183.4L186.4,181.7L186.6,200.9L186.7,169.5L186.9,187.8L187.0,173.0L187.2,181.4L187.3,181.9L187.4,175.8L187.6,165.5L187.7,180.9L187.9,185.0L188.0,176.0L188.2,201.4L188.3,187.5L188.4,188.7L188.6,183.3L188.7,192.0L188.9,172.7L189.0,182.5L189.2,178.5L189.3,179.4L189.4,182.1L189.6,184.9L189.7,167.8L189.9,171.8L190.0,166.0L190.2,180.6L190.3,177.0L190.4,176.6L190.6,183.1L190.7,181.0L190.9,195.3L191.0,192.0L191.2,190.0L191.3,192.3L191.4,178.7L191.6,179.4L191.7,179.0L191.9,185.0L192.0,173.9L192.2,174.8L192.3,177.9L192.4,185.9L192.6,169.5L192.7,193.6L192.9,197.6L193.0,194.8L193.2,172.6L193.3,182.3L193.4,188.1L193.6,203.1L193.7,184.2L193.9,190.6L194.0,199.9L194.2,171.5L194.3,180.6L194.4,168.5L194.6,181.0L194.7,176.2L194.9,187.8L195.0,176.7L195.2,186.6L195.3,178.3L195.4,182.6L195.6,195.0L195.7,185.6L195.9,184.7L196.0,192.6L196.2,187.2L196.3,177.5L196.4,174.2L196.6,184.0L196.7,204.1L196.9,176.2L197.0,165.7L197.2,183.6L197.3,188.7L197.4,178.0L197.6,178.8L197.7,172.9L197.9,186.7L198.0,165.7L198.2,173.4L198.3,191.2L198.4,173.0L198.6,183.8L198.7,176.7L198.9,179.9L199.0,182.9L199.2,180.6L199.3,187.3L199.4,190.1L199.6,185.6L199.7,186.0L199.9,179.8L200.0,181.6L200.2,198.1L200.3,175.8L200.4,183.9L200.6,175.8L200.7,177.6L200.9,181.5L201.0,178.9L201.2,197.3L201.3,170.3L201.4,166.9L201.6,178.9L201.7,189.5L201.9,178.6L202.0,188.2L202.2,170.5L202.3,189.8L202.4,196.9L202.6,194.5L202.7,194.4L202.9,181.7L203.0,189.3L203.2,186.9L203.3,193.0L203.4,178.2L203.6,190.3L203.7,188.3L203.9,175.7L204.0,187.1L204.2,194.3L204.3,191.3L204.4,178.2L204.6,184.8L204.7,195.1L204.9,177.0L205.0,201.3L205.2,207.9L205.3,197.3L205.4,206.0L205.6,190.6L205.7,188.8L205.9,191.9L206.0,195.0L206.2,199.7L206.3,181.5L206.4,208.5L206.6,183.6L206.7,188.0L206.9,191.2L207.0,186.4L207.2,205.2L207.3,181.7L207.4,186.2L207.6,180.6L207.7,210.4L207.9,188.8L208.0,192.4L208.2,212.8L208.3,194.6L208.4,191.4L208.6,199.7L208.7,189.2L208.9,188.0L209.0,198.0L209.2,197.5L209.3,187.2L209.4,203.9L209.6,189.9L209.7,181.9L209.9,194.4L210.0,190.2L210.2,193.1L210.3,185.1L210.4,206.7L210.6,208.2L210.7,199.8L210.9,197.3L211.0,182.1L211.2,178.2L211.3,185.6L211.4,179.2L211.6,194.8L211.7,195.9L211.9,205.3L212.0,179.5L212.2,185.3L212.3,190.7L212.4,203.1L212.6,200.0L212.7,185.6L212.9,190.6L213.0,180.3L213.2,189.4L213.3,198.4L213.4,203.3L213.6,192.4L213.7,176.9L213.9,173.7L214.0,199.9L214.2,187.8L214.3,199.6L214.4,189.9L214.6,215.5L214.7,198.1L214.9,209.2L215.0,177.4L215.2,195.1L215.3,186.7L215.4,190.7L215.6,204.0L215.7,184.9L215.9,180.3L216.0,188.5L216.2,185.1L216.3,179.5L216.4,184.6L216.6,191.2L216.7,205.8L216.9,198.1L217.0,197.2L217.2,182.4L217.3,176.9L217.4,189.9L217.6,180.7L217.7,214.2L217.9,188.3L218.0,202.9L218.2,182.3L218.3,179.3L218.4,180.8L218.6,184.0L218.7,180.6L218.9,174.1L219.0,196.9L219.2,176.2L219.3,194.9L219.4,205.2L219.6,185.7L219.7,184.1L219.9,188.4L220.0,198.0L220.2,185.5L220.3,193.8L220.4,167.1L220.6,187.8L220.7,187.1L220.9,196.1L221.0,184.9L221.2,174.2L221.3,197.8L221.4,194.3L221.6,209.8L221.7,191.7L221.9,175.1L222.0,203.4L222.2,195.8L222.3,199.8L222.4,195.5L222.6,200.8L222.7,196.9L222.9,204.7L223.0,191.6L223.2,184.0L223.3,186.0L223.4,212.3L223.6,180.1L223.7,186.0L223.9,181.6L224.0,201.8L224.2,198.8L224.3,185.9L224.4,175.0L224.6,202.3L224.7,189.9L224.9,188.3L225.0,196.2L225.2,189.0L225.3,197.6L225.4,179.4L225.6,208.8L225.7,189.2L225.9,197.5L226.0,193.0L226.2,201.6L226.3,217.7L226.4,177.2L226.6,185.4L226.7,188.7L226.9,193.4L227.0,190.1L227.2,196.6L227.3,192.3L227.4,179.3L227.6,199.9L227.7,202.4L227.9,174.5L228.0,198.6L228.2,191.4L228.3,195.4L228.4,187.6L228.6,187.2L228.7,192.6L228.9,203.8L229.0,203.5L229.2,193.0L229.3,174.9L229.4,211.8L229.6,194.3L229.7,188.3L229.9,198.7L230.0,190.2L230.2,193.5L230.3,184.1L230.4,175.1L230.6,195.4L230.7,189.0L230.9,187.3L231.0,190.0L231.2,191.3L231.3,213.1L231.4,189.8L231.6,201.5L231.7,194.8L231.9,185.8L232.0,184.3L232.2,195.0L232.3,195.5L232.4,194.1L232.6,202.7L232.7,176.6L232.9,175.3L233.0,195.9L233.2,177.9L233.3,187.0L233.4,206.3L233.6,185.7L233.7,188.2L233.9,193.3L234.0,209.7L234.2,200.6L234.3,217.9L234.4,194.0L234.6,196.4L234.7,204.8L234.9,206.0L235.0,179.2L235.2,208.7L235.3,185.4L235.4,192.0L235.6,180.3L235.7,210.0L235.9,192.1L236.0,180.3L236.2,195.0L236.3,208.0L236.4,213.7L236.6,200.6L236.7,182.7L236.9,177.1L237.0,192.1L237.2,183.1L237.3,181.5L237.4,185.3L237.6,200.0L237.7,183.4L237.9,201.3L238.0,189.6L238.2,182.5L238.3,179.8L238.4,192.8L238.6,180.2L238.7,176.6L238.9,183.0L239.0,194.1L239.2,190.8L239.3,194.2L239.4,194.0L239.6,187.0L239.7,183.1L239.9,194.4L240.0,186.7L240.2,191.8L240.3,192.8L240.4,204.6L240.6,190.3L240.7,195.5L240.9,191.2L241.0,183.7L241.2,186.2L241.3,186.1L241.4,198.2L241.6,208.8L241.7,195.1L241.9,190.2L242.0,187.1L242.2,174.1L242.3,184.5L242.4,172.3L242.6,191.5L242.7,198.8L242.9,178.7L243.0,199.9L243.2,205.1L243.3,194.9L243.4,186.0L243.6,178.4L243.7,190.2L243.9,181.0L244.0,190.8L244.2,207.7L244.3,202.1L244.4,208.1L244.6,192.6L244.7,212.4L244.9,205.4L245.0,199.1L245.2,180.8L245.3,184.6L245.4,194.3L245.6,188.2L245.7,193.1L245.9,163.8L246.0,208.8L246.2,213.2L246.3,212.7L246.4,208.0L246.6,197.1L246.7,184.0L246.9,196.7L247.0,197.1L247.2,195.9L247.3,192.4L247.4,204.3L247.6,188.2L247.7,195.6L247.9,192.7L248.0,189.7L248.2,189.6L248.3,187.4L248.4,205.0L248.6,190.9L248.7,212.3L248.9,218.0L249.0,199.8L249.2,191.5L249.3,190.7L249.4,192.0L249.6,186.7L249.7,214.3L249.9,201.5L250.0,198.1L250.2,204.3L250.3,192.4L250.4,189.7L250.6,192.7L250.7,194.8L250.9,171.6L251.0,195.3L251.2,195.9L251.3,183.4L251.4,177.0L251.6,205.9L251.7,206.7L251.9,181.6L252.0,183.7L252.2,186.3L252.3,197.6L252.4,187.5L252.6,209.1L252.7,206.1L252.9,177.3L253.0,207.0L253.2,195.4L253.3,187.2L253.4,190.7L253.6,205.8L253.7,200.6L253.9,188.4L254.0,199.4L254.2,177.4L254.3,196.5L254.4,175.8L254.6,195.3L254.7,181.8L254.9,189.7L255.0,192.9L255.2,207.2L255.3,185.8L255.4,190.3L255.6,186.6L255.7,195.5L255.9,199.3L256.0,199.5L256.2,190.6L256.3,180.3L256.4,194.6L256.6,203.8L256.7,202.0L256.9,206.5L257.0,212.8L257.2,200.5L257.3,204.1L257.4,201.4L257.6,177.5L257.7,187.6L257.9,182.2L258.0,197.5L258.2,195.0L258.3,206.5L258.4,216.9L258.6,215.1L258.7,202.3L258.9,193.4L259.0,174.6L259.2,199.5L259.3,215.1L259.4,202.8L259.6,193.4L259.7,211.2L259.9,204.0L260.0,193.5L260.2,197.6L260.3,194.3L260.4,198.3L260.6,199.3L260.7,184.6L260.9,189.8L261.0,196.9L261.2,194.2L261.3,200.7L261.4,200.9L261.6,196.1L261.7,198.5L261.9,173.5L262.0,198.3L262.2,196.5L262.3,177.9L262.4,210.4L262.6,198.8L262.7,186.0L262.9,196.8L263.0,199.1L263.2,207.3L263.3,197.9L263.4,205.6L263.6,186.9L263.7,192.3L263.9,201.6L264.0,186.4L264.2,209.9L264.3,208.4L264.4,191.5L264.6,196.7L264.7,212.1L264.9,208.0L265.0,202.6L265.2,207.2L265.3,198.2L265.4,201.8L265.6,195.6L265.7,201.7L265.9,197.4L266.0,206.0L266.2,197.4L266.3,198.0L266.5,194.2L266.6,198.1L266.7,205.7L266.9,201.7L267.0,163.1L267.2,202.4L267.3,198.0L267.5,181.0L267.6,190.4L267.7,189.3L267.9,205.6L268.0,205.6L268.2,193.0L268.3,173.5L268.5,215.5L268.6,214.5L268.7,190.8L268.9,194.4L269.0,207.8L269.2,187.9L269.3,195.7L269.5,202.9L269.6,198.7L269.7,203.8L269.9,195.2L270.0,206.4L270.2,211.6L270.3,207.9L270.5,197.0L270.6,189.6L270.7,208.7L270.9,213.1L271.0,199.2L271.2,190.5L271.3,206.4L271.5,186.4L271.6,210.7L271.7,187.4L271.9,195.3L272.0,219.5L272.2,197.1L272.3,205.1L272.5,204.6L272.6,210.4L272.7,202.1L272.9,208.6L273.0,199.3L273.2,188.5L273.3,184.2L273.5,186.0L273.6,187.5L273.7,191.4L273.9,197.7L274.0,207.2L274.2,184.6L274.3,200.0L274.5,193.3L274.6,209.8L274.7,190.7L274.9,180.7L275.0,196.3L275.2,185.8L275.3,196.9L275.5,193.6L275.6,200.4L275.7,219.5L275.9,192.4L276.0,191.9L276.2,191.8L276.3,180.8L276.5,190.1L276.6,195.8L276.7,208.4L276.9,170.9L277.0,216.3L277.2,205.9L277.3,206.6L277.5,189.3L277.6,196.2L277.7,193.1L277.9,216.4L278.0,202.5L278.2,185.1L278.3,200.9L278.5,208.4L278.6,192.9L278.7,201.4L278.9,195.3L279.0,191.8L279.2,206.2L279.3,196.5L279.5,181.9L279.6,199.2L279.7,199.0L279.9,202.8L280.0,193.2L280.2,191.2L280.3,205.9L280.5,195.0L280.6,178.3L280.7,213.4L280.9,184.9L281.0,185.8L281.2,211.4L281.3,212.6L281.5,200.9L281.6,180.1L281.7,201.7L281.9,194.6L282.0,193.7L282.2,195.9L282.3,173.8L282.5,192.0L282.6,207.6L282.7,191.9L282.9,188.2L283.0,206.6L283.2,193.1L283.3,201.8L283.5,209.7L283.6,205.8L283.7,188.0L283.9,198.9L284.0,215.2L284.2,190.2L284.3,201.5L284.5,219.5L284.6,210.0L284.7,219.5L284.9,204.4L285.0,167.6L285.2,174.6L285.3,192.8L285.5,204.2L285.6,207.1L285.7,201.9L285.9,191.0L286.0,179.9L286.2,193.0L286.3,180.6L286.5,196.2L286.6,218.2L286.7,193.2L286.9,186.7L287.0,192.3L287.2,187.6L287.3,210.0L287.5,203.2L287.6,199.9L287.7,196.0L287.9,192.8L288.0,187.4L288.2,201.2L288.3,207.0L288.5,199.2L288.6,195.4L288.7,197.1L288.9,201.6L289.0,181.8L289.2,180.8L289.3,180.9L289.5,183.8L289.6,187.2L289.7,198.7L289.9,199.1L290.0,192.5L290.2,216.2L290.3,194.0L290.5,218.1L290.6,176.9L290.7,189.3L290.9,202.2L291.0,194.8L291.2,199.0L291.3,175.8L291.5,179.5L291.6,189.4L291.7,195.0L291.9,182.6L292.0,185.7L292.2,188.7L292.3,193.7L292.5,204.7L292.6,202.7L292.7,195.8L292.9,205.6L293.0,198.1L293.2,168.7L293.3,187.5L293.5,180.2L293.6,193.8L293.7,172.7L293.9,185.4L294.0,177.7L294.2,174.1L294.3,180.8L294.5,164.3L294.6,194.7L294.7,187.9L294.9,178.8L295.0,184.9L295.2,178.7L295.3,163.2L295.5,186.2L295.6,179.5L295.7,187.6L295.9,190.4L296.0,201.7L296.2,175.6L296.3,165.3L296.5,179.8L296.6,167.1L296.7,194.6L296.9,182.4L297.0,182.2L297.2,172.9L297.3,180.6L297.5,175.6L297.6,165.7L297.7,193.8L297.9,183.2L298.0,177.8L298.2,189.3L298.3,178.3L298.5,201.5L298.6,193.7L298.7,185.9L298.9,202.9L299.0,163.4L299.2,163.8L299.3,170.6L299.5,175.2L299.6,174.5L299.7,187.1L299.9,186.6L300.0,206.0L300.2,173.7L300.3,185.5L300.5,204.6L300.6,192.1L300.7,177.5L300.9,200.4L301.0,188.5L301.2,206.5L301.3,188.5L301.5,184.4L301.6,210.0L301.7,192.8L301.9,180.1L302.0,189.3L302.2,169.7L302.3,176.5L302.5,173.6L302.6,199.4L302.7,196.3L302.9,182.8L303.0,181.1L303.2,192.6L303.3,189.6L303.5,198.0L303.6,193.0L303.7,183.7L303.9,172.6L304.0,182.1L304.2,178.6L304.3,187.4L304.5,182.6L304.6,177.6L304.7,198.0L304.9,177.7L305.0,181.7L305.2,177.3L305.3,183.4L305.5,195.5L305.6,193.0L305.7,187.9L305.9,215.4L306.0,197.0L306.2,194.6L306.3,193.7L306.5,198.4L306.6,199.2L306.7,190.5L306.9,194.2L307.0,173.3L307.2,187.5L307.3,187.8L307.5,177.5L307.6,186.6L307.7,185.3L307.9,171.6L308.0,173.1L308.2,185.1L308.3,196.5L308.5,188.7L308.6,176.3L308.7,200.1L308.9,186.3L309.0,184.0L309.2,200.2L309.3,171.8L309.5,188.0L309.6,202.4L309.7,197.2L309.9,182.3L310.0,172.3L310.2,183.9L310.3,184.9L310.5,188.9L310.6,169.3L310.7,172.6L310.9,203.3L311.0,185.6L311.2,179.6L311.3,187.7L311.5,180.8L311.6,178.7L311.7,195.6L311.9,172.6L312.0,185.2L312.2,175.9L312.3,184.9L312.5,189.3L312.6,174.5L312.7,185.2L312.9,172.7L313.0,183.3L313.2,166.4L313.3,197.9L313.5,188.3L313.6,196.9L313.7,199.9L313.9,185.7L314.0,203.0L314.2,187.9L314.3,172.7L314.5,180.6L314.6,192.2L314.7,189.3L314.9,179.2L315.0,170.4L315.2,190.2L315.3,186.4L315.5,182.8L315.6,190.3L315.7,184.7L315.9,185.8L316.0,174.7L316.2,195.2L316.3,188.4L316.5,185.9L316.6,197.8L316.7,194.1L316.9,191.3L317.0,207.0L317.2,197.1L317.3,204.2L317.5,197.8L317.6,199.6L317.7,197.7L317.9,185.1L318.0,179.6L318.2,184.2L318.3,201.7L318.5,190.0L318.6,207.1L318.7,187.8L318.9,186.0L319.0,197.5L319.2,193.2L319.3,184.4L319.5,184.7L319.6,197.5L319.7,198.4L319.9,207.5L320.0,192.4L320.2,194.3L320.3,187.4L320.5,181.1L320.6,201.7L320.7,195.2L320.9,191.1L321.0,205.0L321.2,190.7L321.3,194.6L321.5,186.3L321.6,183.5L321.7,183.7L321.9,194.1L322.0,188.8L322.2,189.0L322.3,179.7L322.5,209.6L322.6,192.1L322.7,196.7L322.9,186.7L323.0,176.0L323.2,184.1L323.3,184.4L323.5,192.9L323.6,182.1L323.7,183.2L323.9,196.6L324.0,179.9L324.2,192.2L324.3,210.4L324.5,190.7L324.6,184.0L324.7,185.1L324.9,188.8L325.0,190.8L325.2,183.2L325.3,183.6L325.5,208.3L325.6,195.9L325.7,186.4L325.9,187.3L326.0,177.0L326.2,174.4L326.3,182.9L326.5,188.1L326.6,166.0L326.7,193.1L326.9,185.3L327.0,164.6L327.2,177.8L327.3,178.2L327.5,184.8L327.6,172.1L327.7,164.6L327.9,181.6L328.0,187.4L328.2,172.8L328.3,165.3L328.5,182.0L328.6,195.2L328.7,183.5L328.9,196.1L329.0,178.3L329.2,191.2L329.3,183.9L329.5,188.8L329.6,181.0L329.7,210.9L329.9,186.0L330.0,187.2L330.2,185.9L330.3,203.9L330.5,174.1L330.6,195.0L330.7,183.0L330.9,193.2L331.0,161.8L331.2,192.5L331.3,204.8L331.5,194.3L331.6,173.6L331.7,199.1L331.9,185.7L332.0,205.3L332.2,175.2L332.3,201.0L332.5,198.6L332.6,188.2L332.7,181.1L332.9,201.0L333.0,188.7L333.2,182.6L333.3,188.8L333.5,197.6L333.6,185.4L333.7,178.8L333.9,166.5L334.0,177.5L334.2,208.9L334.3,177.4L334.5,180.2L334.6,187.9L334.7,183.8L334.9,179.3L335.0,193.8L335.2,204.0L335.3,193.8L335.5,184.1L335.6,197.0L335.7,198.0L335.9,204.5L336.0,185.5L336.2,202.5L336.3,193.5L336.5,199.0L336.6,177.6L336.7,180.7L336.9,167.1L337.0,198.7L337.2,201.7L337.3,188.7L337.5,206.1L337.6,196.9L337.7,184.7L337.9,191.5L338.0,183.2L338.2,200.2L338.3,197.4L338.5,193.9L338.6,183.7L338.7,180.5L338.9,178.8L339.0,189.5L339.2,197.3L339.3,193.0L339.5,187.5L339.6,202.9L339.7,195.7L339.9,203.7L340.0,182.2L340.2,183.2L340.3,195.7L340.5,176.7L340.6,186.6L340.7,189.9L340.9,182.5L341.0,186.9L341.2,202.3L341.3,198.9L341.5,207.2L341.6,185.9L341.7,193.4L341.9,182.5L342.0,199.2L342.2,203.9L342.3,179.5L342.5,182.1L342.6,205.7L342.7,179.2L342.9,197.6L343.0,174.3L343.2,185.0L343.3,196.9L343.5,193.4L343.6,193.1L343.7,220.9L343.9,185.4L344.0,196.1L344.2,185.5L344.3,220.9L344.5,186.4L344.6,193.6L344.7,205.7L344.9,173.3L345.0,185.3L345.2,203.6L345.3,202.1L345.5,187.5L345.6,174.9L345.7,188.1L345.9,198.0L346.0,174.6L346.2,199.6L346.3,179.2L346.5,185.4L346.6,193.1L346.7,197.3L346.9,164.5L347.0,189.8L347.2,174.5L347.3,189.2L347.5,197.4L347.6,174.4L347.7,177.9L347.9,188.3L348.0,176.9L348.2,188.8L348.3,172.6L348.5,193.7L348.6,201.1L348.7,198.7L348.9,193.3L349.0,193.3L349.2,200.9L349.3,200.6L349.5,208.9L349.6,201.2L349.7,178.9L349.9,198.1L350.0,206.5L350.2,203.6L350.3,204.8L350.5,198.2L350.6,206.0L350.7,184.8L350.9,205.2L351.0,198.6L351.2,180.0L351.3,194.7L351.5,180.4L351.6,194.9L351.7,184.1L351.9,169.4L352.0,201.5L352.2,186.7L352.3,203.9L352.5,193.3L352.6,200.4L352.7,192.7L352.9,206.9L353.0,217.0L353.2,189.4L353.3,194.7L353.5,182.6L353.6,194.2L353.7,195.3L353.9,205.5L354.0,211.1L354.2,195.5L354.3,209.3L354.5,182.8L354.6,182.6L354.7,192.0L354.9,185.0L355.0,198.7L355.2,203.4L355.3,172.4L355.5,199.8L355.6,183.4L355.7,204.6L355.9,191.5L356.0,186.2L356.2,212.2L356.3,210.2L356.5,201.7L356.6,198.0L356.7,194.0L356.9,202.9L357.0,203.4L357.2,207.1L357.3,207.8L357.5,193.9" stroke="#a5a5a5"/>
</g>
<g stroke-width="2.2"><line x1="250.5" y1="264" x2="281.5" y2="264" stroke="#5b9bd5"/><line x1="331.5" y1="264" x2="361.5" y2="264" stroke="#ed7d31"/><line x1="405" y1="264" x2="435" y2="264" stroke="#a5a5a5"/></g>
<g fill="none" stroke-linecap="round" stroke-linejoin="round"><path d="M10.0,436.4 C11.5,437.2 16.1,439.7 19.0,441.2 C21.9,442.7 24.9,443.9 27.6,445.4 C30.3,446.9 33.0,448.5 35.2,450.2 C37.4,451.9 39.2,453.6 40.9,455.4 C42.6,457.2 44.1,459.0 45.2,461.1 C46.3,463.2 46.8,465.4 47.5,467.8 C48.2,470.2 48.6,473.1 49.3,475.5 C50.0,477.9 50.4,480.3 51.5,482.5 C52.6,484.7 53.9,487.1 56.0,488.6 C58.1,490.1 61.1,490.9 64.0,491.5 C66.9,492.1 70.4,492.0 73.3,491.9 C76.2,491.8 79.0,491.4 81.3,490.6 C83.6,489.8 85.6,488.6 87.3,487.3 C89.0,486.0 90.8,484.6 91.3,482.6 C91.8,480.6 91.0,477.6 90.6,475.3 C90.1,473.0 88.8,470.9 88.6,468.6 C88.4,466.3 88.5,463.4 89.3,461.3 C90.1,459.2 91.5,457.9 93.3,456.0 C95.1,454.1 97.5,452.0 99.9,450.0 C102.3,448.0 105.2,445.7 107.9,444.0 C110.6,442.3 113.6,440.8 115.9,440.0 C118.2,439.2 120.0,439.3 122.0,439.3 C124.0,439.3 125.8,439.3 127.8,439.8 C129.8,440.3 132.0,440.9 133.7,442.1 C135.4,443.3 136.8,445.1 138.2,447.2 C139.6,449.3 140.7,452.5 141.9,454.7 C143.1,456.9 144.4,459.2 145.6,460.6 C146.8,462.0 148.2,462.9 149.3,462.8 C150.4,462.7 151.7,461.5 152.3,459.9 C152.9,458.3 152.4,455.3 153.0,453.2 C153.6,451.1 154.5,448.9 156.0,447.2 C157.5,445.5 159.2,443.8 161.9,442.8 C164.6,441.8 168.6,441.3 172.3,441.3 C176.0,441.3 180.5,442.7 184.2,442.8 C187.9,442.9 191.5,442.9 194.5,442.1 C197.5,441.4 200.3,439.8 202.0,438.3 C203.7,436.8 204.9,434.9 204.9,433.2 C204.9,431.5 203.1,429.5 202.0,428.0 C200.9,426.5 199.5,425.6 198.2,424.0 C196.9,422.4 196.0,421.2 194.3,418.6 C192.7,416.0 190.0,411.8 188.3,408.4 C186.6,405.0 185.2,401.2 184.1,398.1 C183.0,395.0 182.5,392.5 181.5,389.6 C180.5,386.8 179.4,383.9 178.1,381.0 C176.8,378.1 175.4,374.9 173.8,372.5 C172.2,370.1 170.2,368.4 168.7,366.5 C167.2,364.6 165.0,363.0 164.6,361.0 C164.2,359.0 164.8,356.4 166.1,354.5 C167.3,352.6 169.4,351.1 172.1,349.4 C174.8,347.7 179.4,345.8 182.4,344.3 C185.4,342.8 187.9,341.3 190.0,340.2 C192.1,339.1 193.3,338.5 195.1,337.6 C196.9,336.8 199.5,336.2 200.7,335.1 C201.9,334.0 202.1,332.7 202.4,330.8 C202.7,328.9 202.7,326.0 202.4,324.0 C202.1,322.0 201.1,320.7 200.7,318.8 C200.3,316.9 199.6,314.5 199.8,312.8 C200.0,311.1 200.8,309.5 202.0,308.6 C203.2,307.7 205.1,307.4 207.1,307.3 C209.1,307.2 211.7,307.6 214.0,308.1 C216.3,308.6 218.7,309.5 220.8,310.3 C222.9,311.1 225.1,312.1 226.8,312.8 C228.5,313.5 229.8,314.0 231.1,314.5 C232.3,315.0 234.2,315.2 234.3,315.6 C234.5,316.1 232.9,316.9 232.0,317.2 C231.1,317.5 229.5,317.1 228.8,317.6 C228.1,318.2 227.8,319.5 227.7,320.5 C227.6,321.5 227.7,322.2 228.1,323.5 C228.5,324.8 229.3,326.6 230.2,328.2 C231.1,329.8 232.3,331.5 233.6,333.4 C234.9,335.3 236.8,337.2 237.9,339.4 C239.0,341.6 239.7,344.2 240.3,346.8 C240.9,349.4 241.6,352.3 241.7,354.8 C241.8,357.3 241.8,359.6 241.1,361.7 C240.4,363.8 239.2,365.8 237.7,367.4 C236.2,369.0 233.9,370.1 232.0,371.4 C230.1,372.7 227.6,374.2 226.3,375.4 C225.1,376.6 224.6,377.1 224.5,378.8 C224.4,380.5 224.8,383.4 225.7,385.7 C226.6,388.0 228.1,390.6 229.7,392.5 C231.3,394.4 234.0,396.5 235.4,397.1 C236.8,397.7 237.7,397.2 238.2,395.9 C238.7,394.6 238.7,391.6 238.2,389.1 C237.7,386.6 236.6,383.0 235.4,381.1 C234.2,379.2 232.5,378.0 230.8,377.7 C229.1,377.4 227.2,378.4 225.1,379.4 C223.0,380.3 220.6,382.0 218.3,383.4 C216.0,384.8 213.6,386.5 211.4,387.9 C209.2,389.3 206.2,391.2 205.1,391.9" stroke="#905858" stroke-width="3.60"/><path d="M10.0,436.4 C11.5,437.2 16.1,439.7 19.0,441.2 C21.9,442.7 24.9,443.9 27.6,445.4 C30.3,446.9 33.0,448.5 35.2,450.2 C37.4,451.9 39.2,453.6 40.9,455.4 C42.6,457.2 44.1,459.0 45.2,461.1 C46.3,463.2 46.8,465.4 47.5,467.8 C48.2,470.2 48.6,473.1 49.3,475.5 C50.0,477.9 50.4,480.3 51.5,482.5 C52.6,484.7 53.9,487.1 56.0,488.6 C58.1,490.1 61.1,490.9 64.0,491.5 C66.9,492.1 70.4,492.0 73.3,491.9 C76.2,491.8 79.0,491.4 81.3,490.6 C83.6,489.8 85.6,488.6 87.3,487.3 C89.0,486.0 90.8,484.6 91.3,482.6 C91.8,480.6 91.0,477.6 90.6,475.3 C90.1,473.0 88.8,470.9 88.6,468.6 C88.4,466.3 88.5,463.4 89.3,461.3 C90.1,459.2 91.5,457.9 93.3,456.0 C95.1,454.1 97.5,452.0 99.9,450.0 C102.3,448.0 105.2,445.7 107.9,444.0 C110.6,442.3 113.6,440.8 115.9,440.0 C118.2,439.2 120.0,439.3 122.0,439.3 C124.0,439.3 125.8,439.3 127.8,439.8 C129.8,440.3 132.0,440.9 133.7,442.1 C135.4,443.3 136.8,445.1 138.2,447.2 C139.6,449.3 140.7,452.5 141.9,454.7 C143.1,456.9 144.4,459.2 145.6,460.6 C146.8,462.0 148.2,462.9 149.3,462.8 C150.4,462.7 151.7,461.5 152.3,459.9 C152.9,458.3 152.4,455.3 153.0,453.2 C153.6,451.1 154.5,448.9 156.0,447.2 C157.5,445.5 159.2,443.8 161.9,442.8 C164.6,441.8 168.6,441.3 172.3,441.3 C176.0,441.3 180.5,442.7 184.2,442.8 C187.9,442.9 191.5,442.9 194.5,442.1 C197.5,441.4 200.3,439.8 202.0,438.3 C203.7,436.8 204.9,434.9 204.9,433.2 C204.9,431.5 203.1,429.5 202.0,428.0 C200.9,426.5 199.5,425.6 198.2,424.0 C196.9,422.4 196.0,421.2 194.3,418.6 C192.7,416.0 190.0,411.8 188.3,408.4 C186.6,405.0 185.2,401.2 184.1,398.1 C183.0,395.0 182.5,392.5 181.5,389.6 C180.5,386.8 179.4,383.9 178.1,381.0 C176.8,378.1 175.4,374.9 173.8,372.5 C172.2,370.1 170.2,368.4 168.7,366.5 C167.2,364.6 165.0,363.0 164.6,361.0 C164.2,359.0 164.8,356.4 166.1,354.5 C167.3,352.6 169.4,351.1 172.1,349.4 C174.8,347.7 179.4,345.8 182.4,344.3 C185.4,342.8 187.9,341.3 190.0,340.2 C192.1,339.1 193.3,338.5 195.1,337.6 C196.9,336.8 199.5,336.2 200.7,335.1 C201.9,334.0 202.1,332.7 202.4,330.8 C202.7,328.9 202.7,326.0 202.4,324.0 C202.1,322.0 201.1,320.7 200.7,318.8 C200.3,316.9 199.6,314.5 199.8,312.8 C200.0,311.1 200.8,309.5 202.0,308.6 C203.2,307.7 205.1,307.4 207.1,307.3 C209.1,307.2 211.7,307.6 214.0,308.1 C216.3,308.6 218.7,309.5 220.8,310.3 C222.9,311.1 225.1,312.1 226.8,312.8 C228.5,313.5 229.8,314.0 231.1,314.5 C232.3,315.0 234.2,315.2 234.3,315.6 C234.5,316.1 232.9,316.9 232.0,317.2 C231.1,317.5 229.5,317.1 228.8,317.6 C228.1,318.2 227.8,319.5 227.7,320.5 C227.6,321.5 227.7,322.2 228.1,323.5 C228.5,324.8 229.3,326.6 230.2,328.2 C231.1,329.8 232.3,331.5 233.6,333.4 C234.9,335.3 236.8,337.2 237.9,339.4 C239.0,341.6 239.7,344.2 240.3,346.8 C240.9,349.4 241.6,352.3 241.7,354.8 C241.8,357.3 241.8,359.6 241.1,361.7 C240.4,363.8 239.2,365.8 237.7,367.4 C236.2,369.0 233.9,370.1 232.0,371.4 C230.1,372.7 227.6,374.2 226.3,375.4 C225.1,376.6 224.6,377.1 224.5,378.8 C224.4,380.5 224.8,383.4 225.7,385.7 C226.6,388.0 228.1,390.6 229.7,392.5 C231.3,394.4 234.0,396.5 235.4,397.1 C236.8,397.7 237.7,397.2 238.2,395.9 C238.7,394.6 238.7,391.6 238.2,389.1 C237.7,386.6 236.6,383.0 235.4,381.1 C234.2,379.2 232.5,378.0 230.8,377.7 C229.1,377.4 227.2,378.4 225.1,379.4 C223.0,380.3 220.6,382.0 218.3,383.4 C216.0,384.8 213.6,386.5 211.4,387.9 C209.2,389.3 206.2,391.2 205.1,391.9" stroke="#d87c7c" stroke-width="2.45" transform="translate(-0.2,-0.25)"/><path d="M10.0,436.4 C11.5,437.2 16.1,439.7 19.0,441.2 C21.9,442.7 24.9,443.9 27.6,445.4 C30.3,446.9 33.0,448.5 35.2,450.2 C37.4,451.9 39.2,453.6 40.9,455.4 C42.6,457.2 44.1,459.0 45.2,461.1 C46.3,463.2 46.8,465.4 47.5,467.8 C48.2,470.2 48.6,473.1 49.3,475.5 C50.0,477.9 50.4,480.3 51.5,482.5 C52.6,484.7 53.9,487.1 56.0,488.6 C58.1,490.1 61.1,490.9 64.0,491.5 C66.9,492.1 70.4,492.0 73.3,491.9 C76.2,491.8 79.0,491.4 81.3,490.6 C83.6,489.8 85.6,488.6 87.3,487.3 C89.0,486.0 90.8,484.6 91.3,482.6 C91.8,480.6 91.0,477.6 90.6,475.3 C90.1,473.0 88.8,470.9 88.6,468.6 C88.4,466.3 88.5,463.4 89.3,461.3 C90.1,459.2 91.5,457.9 93.3,456.0 C95.1,454.1 97.5,452.0 99.9,450.0 C102.3,448.0 105.2,445.7 107.9,444.0 C110.6,442.3 113.6,440.8 115.9,440.0 C118.2,439.2 120.0,439.3 122.0,439.3 C124.0,439.3 125.8,439.3 127.8,439.8 C129.8,440.3 132.0,440.9 133.7,442.1 C135.4,443.3 136.8,445.1 138.2,447.2 C139.6,449.3 140.7,452.5 141.9,454.7 C143.1,456.9 144.4,459.2 145.6,460.6 C146.8,462.0 148.2,462.9 149.3,462.8 C150.4,462.7 151.7,461.5 152.3,459.9 C152.9,458.3 152.4,455.3 153.0,453.2 C153.6,451.1 154.5,448.9 156.0,447.2 C157.5,445.5 159.2,443.8 161.9,442.8 C164.6,441.8 168.6,441.3 172.3,441.3 C176.0,441.3 180.5,442.7 184.2,442.8 C187.9,442.9 191.5,442.9 194.5,442.1 C197.5,441.4 200.3,439.8 202.0,438.3 C203.7,436.8 204.9,434.9 204.9,433.2 C204.9,431.5 203.1,429.5 202.0,428.0 C200.9,426.5 199.5,425.6 198.2,424.0 C196.9,422.4 196.0,421.2 194.3,418.6 C192.7,416.0 190.0,411.8 188.3,408.4 C186.6,405.0 185.2,401.2 184.1,398.1 C183.0,395.0 182.5,392.5 181.5,389.6 C180.5,386.8 179.4,383.9 178.1,381.0 C176.8,378.1 175.4,374.9 173.8,372.5 C172.2,370.1 170.2,368.4 168.7,366.5 C167.2,364.6 165.0,363.0 164.6,361.0 C164.2,359.0 164.8,356.4 166.1,354.5 C167.3,352.6 169.4,351.1 172.1,349.4 C174.8,347.7 179.4,345.8 182.4,344.3 C185.4,342.8 187.9,341.3 190.0,340.2 C192.1,339.1 193.3,338.5 195.1,337.6 C196.9,336.8 199.5,336.2 200.7,335.1 C201.9,334.0 202.1,332.7 202.4,330.8 C202.7,328.9 202.7,326.0 202.4,324.0 C202.1,322.0 201.1,320.7 200.7,318.8 C200.3,316.9 199.6,314.5 199.8,312.8 C200.0,311.1 200.8,309.5 202.0,308.6 C203.2,307.7 205.1,307.4 207.1,307.3 C209.1,307.2 211.7,307.6 214.0,308.1 C216.3,308.6 218.7,309.5 220.8,310.3 C222.9,311.1 225.1,312.1 226.8,312.8 C228.5,313.5 229.8,314.0 231.1,314.5 C232.3,315.0 234.2,315.2 234.3,315.6 C234.5,316.1 232.9,316.9 232.0,317.2 C231.1,317.5 229.5,317.1 228.8,317.6 C228.1,318.2 227.8,319.5 227.7,320.5 C227.6,321.5 227.7,322.2 228.1,323.5 C228.5,324.8 229.3,326.6 230.2,328.2 C231.1,329.8 232.3,331.5 233.6,333.4 C234.9,335.3 236.8,337.2 237.9,339.4 C239.0,341.6 239.7,344.2 240.3,346.8 C240.9,349.4 241.6,352.3 241.7,354.8 C241.8,357.3 241.8,359.6 241.1,361.7 C240.4,363.8 239.2,365.8 237.7,367.4 C236.2,369.0 233.9,370.1 232.0,371.4 C230.1,372.7 227.6,374.2 226.3,375.4 C225.1,376.6 224.6,377.1 224.5,378.8 C224.4,380.5 224.8,383.4 225.7,385.7 C226.6,388.0 228.1,390.6 229.7,392.5 C231.3,394.4 234.0,396.5 235.4,397.1 C236.8,397.7 237.7,397.2 238.2,395.9 C238.7,394.6 238.7,391.6 238.2,389.1 C237.7,386.6 236.6,383.0 235.4,381.1 C234.2,379.2 232.5,378.0 230.8,377.7 C229.1,377.4 227.2,378.4 225.1,379.4 C223.0,380.3 220.6,382.0 218.3,383.4 C216.0,384.8 213.6,386.5 211.4,387.9 C209.2,389.3 206.2,391.2 205.1,391.9" stroke="#f2acac" stroke-width="1.08" transform="translate(-0.45,-0.55)" opacity="0.8"/><path d="M200.7,318.8 C200.5,317.8 199.6,314.5 199.8,312.8 C200.0,311.1 200.8,309.5 202.0,308.6 C203.2,307.7 205.4,307.4 207.1,307.3 C208.8,307.2 211.2,307.7 212.0,307.8" stroke="#7a4646" stroke-width="3.40" opacity="0.55"/><path d="M229.0,314.0 C229.9,314.3 233.8,315.1 234.3,315.6 C234.8,316.1 232.9,316.9 232.0,317.2 C231.1,317.5 229.5,317.1 228.8,317.6 C228.1,318.2 227.9,320.0 227.7,320.5" stroke="#6e4040" stroke-width="3.40" opacity="0.60"/><path d="M145.6,460.6 C146.2,461.0 148.2,462.9 149.3,462.8 C150.4,462.7 151.8,460.4 152.3,459.9" stroke="#6e4040" stroke-width="3.40" opacity="0.45"/><path d="M166.5,365.5 C166.2,364.8 164.7,362.8 164.6,361.0 C164.5,359.2 165.8,355.6 166.1,354.5" stroke="#7a4646" stroke-width="3.40" opacity="0.40"/></g>
<g fill="none" stroke-linecap="round" stroke-linejoin="round"><path d="M271.3,480.8 C273.9,480.7 282.6,480.0 287.1,480.3 C291.6,480.6 295.4,481.5 298.4,482.6 C301.4,483.7 303.3,485.0 305.2,487.1 C307.1,489.2 308.0,492.7 309.7,495.0 C311.4,497.3 313.1,499.6 315.4,500.7 C317.7,501.8 320.5,502.2 323.3,501.8 C326.1,501.4 329.5,500.1 332.3,498.4 C335.1,496.7 337.9,493.4 340.2,491.6 C342.5,489.8 344.4,488.2 346.0,487.5 C347.6,486.8 348.9,487.5 349.5,487.5" stroke="#d878cc" stroke-width="3.30"/><path d="M271.3,480.8 C273.9,480.7 282.6,480.0 287.1,480.3 C291.6,480.6 295.4,481.5 298.4,482.6 C301.4,483.7 303.3,485.0 305.2,487.1 C307.1,489.2 308.0,492.7 309.7,495.0 C311.4,497.3 313.1,499.6 315.4,500.7 C317.7,501.8 320.5,502.2 323.3,501.8 C326.1,501.4 329.5,500.1 332.3,498.4 C335.1,496.7 337.9,493.4 340.2,491.6 C342.5,489.8 344.4,488.2 346.0,487.5 C347.6,486.8 348.9,487.5 349.5,487.5" stroke="#f090e2" stroke-width="2.24" transform="translate(-0.2,-0.25)"/><path d="M271.3,480.8 C273.9,480.7 282.6,480.0 287.1,480.3 C291.6,480.6 295.4,481.5 298.4,482.6 C301.4,483.7 303.3,485.0 305.2,487.1 C307.1,489.2 308.0,492.7 309.7,495.0 C311.4,497.3 313.1,499.6 315.4,500.7 C317.7,501.8 320.5,502.2 323.3,501.8 C326.1,501.4 329.5,500.1 332.3,498.4 C335.1,496.7 337.9,493.4 340.2,491.6 C342.5,489.8 344.4,488.2 346.0,487.5 C347.6,486.8 348.9,487.5 349.5,487.5" stroke="#fac0f2" stroke-width="0.99" transform="translate(-0.45,-0.55)" opacity="0.8"/><path d="M349.5,487.5 C349.7,486.9 350.3,486.3 350.6,484.0 C350.9,481.7 350.8,476.5 351.5,473.6 C352.2,470.7 353.8,468.9 354.9,466.8 C356.0,464.7 355.5,463.5 357.9,461.0 C360.3,458.5 364.9,454.1 369.3,452.0 C373.8,449.9 379.9,448.7 384.6,448.3 C389.3,447.9 393.9,449.0 397.3,449.6 C400.7,450.2 402.4,452.6 405.0,452.0 C407.6,451.4 410.9,448.5 412.6,445.8 C414.3,443.1 414.1,439.4 415.1,435.6 C416.2,431.8 416.8,426.7 418.9,422.9 C421.0,419.1 425.0,415.4 427.8,412.7 C430.6,410.0 433.9,408.3 435.8,406.5 C437.7,404.7 438.5,402.8 439.0,402.0" stroke="#a82898" stroke-width="3.30"/><path d="M349.5,487.5 C349.7,486.9 350.3,486.3 350.6,484.0 C350.9,481.7 350.8,476.5 351.5,473.6 C352.2,470.7 353.8,468.9 354.9,466.8 C356.0,464.7 355.5,463.5 357.9,461.0 C360.3,458.5 364.9,454.1 369.3,452.0 C373.8,449.9 379.9,448.7 384.6,448.3 C389.3,447.9 393.9,449.0 397.3,449.6 C400.7,450.2 402.4,452.6 405.0,452.0 C407.6,451.4 410.9,448.5 412.6,445.8 C414.3,443.1 414.1,439.4 415.1,435.6 C416.2,431.8 416.8,426.7 418.9,422.9 C421.0,419.1 425.0,415.4 427.8,412.7 C430.6,410.0 433.9,408.3 435.8,406.5 C437.7,404.7 438.5,402.8 439.0,402.0" stroke="#d840c8" stroke-width="2.24" transform="translate(-0.2,-0.25)"/><path d="M349.5,487.5 C349.7,486.9 350.3,486.3 350.6,484.0 C350.9,481.7 350.8,476.5 351.5,473.6 C352.2,470.7 353.8,468.9 354.9,466.8 C356.0,464.7 355.5,463.5 357.9,461.0 C360.3,458.5 364.9,454.1 369.3,452.0 C373.8,449.9 379.9,448.7 384.6,448.3 C389.3,447.9 393.9,449.0 397.3,449.6 C400.7,450.2 402.4,452.6 405.0,452.0 C407.6,451.4 410.9,448.5 412.6,445.8 C414.3,443.1 414.1,439.4 415.1,435.6 C416.2,431.8 416.8,426.7 418.9,422.9 C421.0,419.1 425.0,415.4 427.8,412.7 C430.6,410.0 433.9,408.3 435.8,406.5 C437.7,404.7 438.5,402.8 439.0,402.0" stroke="#f080e4" stroke-width="0.99" transform="translate(-0.45,-0.55)" opacity="0.8"/><path d="M467.0,324.5 C467.8,323.3 471.3,319.7 471.5,317.4 C471.7,315.1 469.5,312.6 468.0,310.5 C466.5,308.4 463.7,306.5 462.4,304.8 C461.1,303.1 459.9,301.3 460.1,300.3 C460.3,299.3 461.6,298.5 463.5,298.7 C465.4,298.9 468.6,299.4 471.5,301.4 C474.4,303.4 478.1,307.1 480.6,310.5 C483.1,313.9 485.2,318.2 486.3,322.0 C487.4,325.8 487.9,330.2 487.5,333.4 C487.1,336.6 486.1,339.5 484.0,341.4 C481.9,343.3 477.9,344.0 474.9,344.8 C471.9,345.6 468.3,345.2 465.8,346.0 C463.3,346.8 461.3,348.6 460.1,349.4 C458.9,350.2 458.8,350.7 458.5,351.0" stroke="#a82898" stroke-width="3.10"/><path d="M467.0,324.5 C467.8,323.3 471.3,319.7 471.5,317.4 C471.7,315.1 469.5,312.6 468.0,310.5 C466.5,308.4 463.7,306.5 462.4,304.8 C461.1,303.1 459.9,301.3 460.1,300.3 C460.3,299.3 461.6,298.5 463.5,298.7 C465.4,298.9 468.6,299.4 471.5,301.4 C474.4,303.4 478.1,307.1 480.6,310.5 C483.1,313.9 485.2,318.2 486.3,322.0 C487.4,325.8 487.9,330.2 487.5,333.4 C487.1,336.6 486.1,339.5 484.0,341.4 C481.9,343.3 477.9,344.0 474.9,344.8 C471.9,345.6 468.3,345.2 465.8,346.0 C463.3,346.8 461.3,348.6 460.1,349.4 C458.9,350.2 458.8,350.7 458.5,351.0" stroke="#d840c8" stroke-width="2.11" transform="translate(-0.2,-0.25)"/><path d="M467.0,324.5 C467.8,323.3 471.3,319.7 471.5,317.4 C471.7,315.1 469.5,312.6 468.0,310.5 C466.5,308.4 463.7,306.5 462.4,304.8 C461.1,303.1 459.9,301.3 460.1,300.3 C460.3,299.3 461.6,298.5 463.5,298.7 C465.4,298.9 468.6,299.4 471.5,301.4 C474.4,303.4 478.1,307.1 480.6,310.5 C483.1,313.9 485.2,318.2 486.3,322.0 C487.4,325.8 487.9,330.2 487.5,333.4 C487.1,336.6 486.1,339.5 484.0,341.4 C481.9,343.3 477.9,344.0 474.9,344.8 C471.9,345.6 468.3,345.2 465.8,346.0 C463.3,346.8 461.3,348.6 460.1,349.4 C458.9,350.2 458.8,350.7 458.5,351.0" stroke="#f080e4" stroke-width="0.93" transform="translate(-0.45,-0.55)" opacity="0.8"/><path d="M406.0,376.2 C404.9,377.7 401.5,382.1 399.2,385.1 C396.9,388.1 394.4,391.4 392.4,394.2 C390.4,397.0 388.7,400.7 387.3,402.2 C385.9,403.7 384.9,403.5 383.8,403.1 C382.8,402.7 381.9,401.5 381.0,400.0 C380.1,398.5 379.4,395.7 378.7,394.2 C378.0,392.7 377.3,391.4 377.0,390.8" stroke="#9a2090" stroke-width="3.10"/><path d="M406.0,376.2 C404.9,377.7 401.5,382.1 399.2,385.1 C396.9,388.1 394.4,391.4 392.4,394.2 C390.4,397.0 388.7,400.7 387.3,402.2 C385.9,403.7 384.9,403.5 383.8,403.1 C382.8,402.7 381.9,401.5 381.0,400.0 C380.1,398.5 379.4,395.7 378.7,394.2 C378.0,392.7 377.3,391.4 377.0,390.8" stroke="#d03cc0" stroke-width="2.11" transform="translate(-0.2,-0.25)"/><path d="M406.0,376.2 C404.9,377.7 401.5,382.1 399.2,385.1 C396.9,388.1 394.4,391.4 392.4,394.2 C390.4,397.0 388.7,400.7 387.3,402.2 C385.9,403.7 384.9,403.5 383.8,403.1 C382.8,402.7 381.9,401.5 381.0,400.0 C380.1,398.5 379.4,395.7 378.7,394.2 C378.0,392.7 377.3,391.4 377.0,390.8" stroke="#ec78e0" stroke-width="0.93" transform="translate(-0.45,-0.55)" opacity="0.8"/><path d="M387.3,402.2 C386.7,402.4 384.9,403.5 383.8,403.1 C382.8,402.7 381.9,401.5 381.0,400.0 C380.1,398.5 379.4,395.7 378.7,394.2 C378.0,392.7 377.3,391.4 377.0,390.8" stroke="#7a1a6a" stroke-width="3.00" opacity="0.60"/><path d="M346.0,487.5 C346.6,487.5 348.7,488.1 349.5,487.5 C350.3,486.9 350.4,484.6 350.6,484.0" stroke="#7a1a6a" stroke-width="3.00" opacity="0.50"/></g>
<polygon points="464.9,323.0 468.6,325.5 459.3,336.0 449.4,347.1 440.8,355.8 433.2,362.8 435.5,367.8 405.0,377.8 416.6,352.8 420.3,354.8 437.1,342.2 449.4,333.5" fill="url(#gm1)"/><polygon points="466.0,323.8 468.6,325.5 459.3,336.0 449.4,347.1 440.8,355.8 435.5,359.5 440.0,349.0 451.0,337.5 462.0,327.0" fill="#8e1a80" opacity="0.75"/>
<polygon points="457.6,351.3 441.0,373.4 444.3,376.0 433.6,400.5 448.9,405.8 457.0,380.6 458.6,381.6" fill="url(#gm2)"/><polygon points="444.3,376.0 433.6,400.5 436.0,401.3 446.5,377.0" fill="#7a1a6e" opacity="0.8"/>
<g fill="none" stroke-linecap="round" stroke-linejoin="round"><path d="M669.5,313.5 C669.8,312.6 671.6,309.6 671.2,307.8 C670.8,306.0 668.6,304.0 667.0,302.6 C665.4,301.2 662.8,300.3 661.7,299.4 C660.7,298.5 660.2,298.0 660.7,297.3 C661.2,296.6 662.5,295.8 664.9,295.2 C667.3,294.6 671.5,293.6 675.3,293.8 C679.1,294.0 684.2,294.7 687.9,296.3 C691.6,297.9 695.0,300.5 697.3,303.6 C699.6,306.7 701.1,311.3 701.5,315.1 C701.9,318.9 701.0,323.3 699.4,326.6 C697.8,329.9 694.7,333.1 692.1,335.0 C689.5,336.9 686.2,337.2 683.7,338.1 C681.2,339.0 679.3,339.3 677.4,340.2 C675.5,341.1 673.1,342.9 672.2,343.4" stroke="#2a9a2a" stroke-width="2.80"/><path d="M669.5,313.5 C669.8,312.6 671.6,309.6 671.2,307.8 C670.8,306.0 668.6,304.0 667.0,302.6 C665.4,301.2 662.8,300.3 661.7,299.4 C660.7,298.5 660.2,298.0 660.7,297.3 C661.2,296.6 662.5,295.8 664.9,295.2 C667.3,294.6 671.5,293.6 675.3,293.8 C679.1,294.0 684.2,294.7 687.9,296.3 C691.6,297.9 695.0,300.5 697.3,303.6 C699.6,306.7 701.1,311.3 701.5,315.1 C701.9,318.9 701.0,323.3 699.4,326.6 C697.8,329.9 694.7,333.1 692.1,335.0 C689.5,336.9 686.2,337.2 683.7,338.1 C681.2,339.0 679.3,339.3 677.4,340.2 C675.5,341.1 673.1,342.9 672.2,343.4" stroke="#44d844" stroke-width="1.90" transform="translate(-0.2,-0.25)"/><path d="M669.5,313.5 C669.8,312.6 671.6,309.6 671.2,307.8 C670.8,306.0 668.6,304.0 667.0,302.6 C665.4,301.2 662.8,300.3 661.7,299.4 C660.7,298.5 660.2,298.0 660.7,297.3 C661.2,296.6 662.5,295.8 664.9,295.2 C667.3,294.6 671.5,293.6 675.3,293.8 C679.1,294.0 684.2,294.7 687.9,296.3 C691.6,297.9 695.0,300.5 697.3,303.6 C699.6,306.7 701.1,311.3 701.5,315.1 C701.9,318.9 701.0,323.3 699.4,326.6 C697.8,329.9 694.7,333.1 692.1,335.0 C689.5,336.9 686.2,337.2 683.7,338.1 C681.2,339.0 679.3,339.3 677.4,340.2 C675.5,341.1 673.1,342.9 672.2,343.4" stroke="#80f080" stroke-width="0.84" transform="translate(-0.45,-0.55)" opacity="0.8"/><path d="M609.0,366.0 C607.9,367.5 604.5,371.7 602.4,375.0 C600.3,378.3 598.3,382.3 596.3,385.6 C594.3,388.9 592.1,391.9 590.2,394.7 C588.3,397.5 585.8,401.0 584.9,402.3" stroke="#2a9a2a" stroke-width="2.80"/><path d="M609.0,366.0 C607.9,367.5 604.5,371.7 602.4,375.0 C600.3,378.3 598.3,382.3 596.3,385.6 C594.3,388.9 592.1,391.9 590.2,394.7 C588.3,397.5 585.8,401.0 584.9,402.3" stroke="#44d844" stroke-width="1.90" transform="translate(-0.2,-0.25)"/><path d="M609.0,366.0 C607.9,367.5 604.5,371.7 602.4,375.0 C600.3,378.3 598.3,382.3 596.3,385.6 C594.3,388.9 592.1,391.9 590.2,394.7 C588.3,397.5 585.8,401.0 584.9,402.3" stroke="#80f080" stroke-width="0.84" transform="translate(-0.45,-0.55)" opacity="0.8"/><path d="M639.0,389.5 C638.3,390.9 636.5,395.1 635.0,398.0 C633.5,400.9 631.8,404.1 630.0,407.0 C628.2,409.9 625.9,412.9 624.0,415.5 C622.1,418.1 621.4,420.8 618.6,422.9 C615.8,425.0 612.0,426.8 607.1,428.0 C602.2,429.2 593.8,428.9 589.3,430.0 C584.8,431.1 582.5,432.1 580.4,434.3 C578.3,436.5 577.3,439.6 576.6,443.2 C575.9,446.8 576.7,451.9 576.1,455.9 C575.5,459.9 574.8,463.6 572.8,467.4 C570.8,471.2 567.1,476.4 563.9,478.8 C560.7,481.2 557.1,481.7 553.7,481.9 C550.3,482.1 546.2,480.6 543.3,480.2 C540.4,479.8 538.8,479.4 536.5,479.6 C534.2,479.8 531.7,480.3 529.7,481.3 C527.7,482.3 525.9,483.9 524.6,485.8 C523.3,487.7 522.6,490.3 521.8,492.6 C520.9,494.9 520.6,497.1 519.5,499.4 C518.4,501.7 517.1,504.1 515.0,506.2 C512.9,508.3 510.1,510.3 507.1,511.8 C504.1,513.3 499.8,514.2 497.0,515.2 C494.2,516.2 491.5,516.8 490.2,517.5 C488.9,518.2 488.6,518.7 489.0,519.2 C489.4,519.7 490.0,519.9 492.4,520.3 C494.8,520.7 501.4,521.2 503.2,521.4" stroke="#2a9a2a" stroke-width="2.80"/><path d="M639.0,389.5 C638.3,390.9 636.5,395.1 635.0,398.0 C633.5,400.9 631.8,404.1 630.0,407.0 C628.2,409.9 625.9,412.9 624.0,415.5 C622.1,418.1 621.4,420.8 618.6,422.9 C615.8,425.0 612.0,426.8 607.1,428.0 C602.2,429.2 593.8,428.9 589.3,430.0 C584.8,431.1 582.5,432.1 580.4,434.3 C578.3,436.5 577.3,439.6 576.6,443.2 C575.9,446.8 576.7,451.9 576.1,455.9 C575.5,459.9 574.8,463.6 572.8,467.4 C570.8,471.2 567.1,476.4 563.9,478.8 C560.7,481.2 557.1,481.7 553.7,481.9 C550.3,482.1 546.2,480.6 543.3,480.2 C540.4,479.8 538.8,479.4 536.5,479.6 C534.2,479.8 531.7,480.3 529.7,481.3 C527.7,482.3 525.9,483.9 524.6,485.8 C523.3,487.7 522.6,490.3 521.8,492.6 C520.9,494.9 520.6,497.1 519.5,499.4 C518.4,501.7 517.1,504.1 515.0,506.2 C512.9,508.3 510.1,510.3 507.1,511.8 C504.1,513.3 499.8,514.2 497.0,515.2 C494.2,516.2 491.5,516.8 490.2,517.5 C488.9,518.2 488.6,518.7 489.0,519.2 C489.4,519.7 490.0,519.9 492.4,520.3 C494.8,520.7 501.4,521.2 503.2,521.4" stroke="#44d844" stroke-width="1.90" transform="translate(-0.2,-0.25)"/><path d="M639.0,389.5 C638.3,390.9 636.5,395.1 635.0,398.0 C633.5,400.9 631.8,404.1 630.0,407.0 C628.2,409.9 625.9,412.9 624.0,415.5 C622.1,418.1 621.4,420.8 618.6,422.9 C615.8,425.0 612.0,426.8 607.1,428.0 C602.2,429.2 593.8,428.9 589.3,430.0 C584.8,431.1 582.5,432.1 580.4,434.3 C578.3,436.5 577.3,439.6 576.6,443.2 C575.9,446.8 576.7,451.9 576.1,455.9 C575.5,459.9 574.8,463.6 572.8,467.4 C570.8,471.2 567.1,476.4 563.9,478.8 C560.7,481.2 557.1,481.7 553.7,481.9 C550.3,482.1 546.2,480.6 543.3,480.2 C540.4,479.8 538.8,479.4 536.5,479.6 C534.2,479.8 531.7,480.3 529.7,481.3 C527.7,482.3 525.9,483.9 524.6,485.8 C523.3,487.7 522.6,490.3 521.8,492.6 C520.9,494.9 520.6,497.1 519.5,499.4 C518.4,501.7 517.1,504.1 515.0,506.2 C512.9,508.3 510.1,510.3 507.1,511.8 C504.1,513.3 499.8,514.2 497.0,515.2 C494.2,516.2 491.5,516.8 490.2,517.5 C488.9,518.2 488.6,518.7 489.0,519.2 C489.4,519.7 490.0,519.9 492.4,520.3 C494.8,520.7 501.4,521.2 503.2,521.4" stroke="#80f080" stroke-width="0.84" transform="translate(-0.45,-0.55)" opacity="0.8"/><path d="M590.2,394.7 C589.3,396.0 585.8,401.0 584.9,402.3" stroke="#1c6e1c" stroke-width="2.80" opacity="0.55"/></g>
<polygon points="667.0,312.1 650.0,325.7 632.8,337.1 622.8,342.8 618.5,342.8 609.3,366.3 636.4,357.2 634.2,354.9 649.9,338.5 664.2,324.3 670.6,315.0" fill="url(#gg1)"/><polygon points="668.0,312.8 670.6,315.0 664.2,324.3 649.9,338.5 636.5,351.0 643.0,338.0 655.0,326.0 666.0,315.5" fill="#1a8a1a" opacity="0.75"/>
<polygon points="671.9,344.3 646.6,362.8 649.1,365.9 633.0,386.2 644.8,393.0 661.0,369.8 664.2,371.8" fill="url(#gg2)"/><polygon points="649.1,365.9 633.0,386.2 635.5,387.6 651.5,367.0" fill="#1a8a1a" opacity="0.8"/>
</svg>
<div class="t lab" style="left:6.3px;top:8.6px;font-size:23px;">A</div>
<div class="t lab" style="left:7px;top:292px;font-size:23px;">B</div>
<div class="t" style="left:322px;top:10.3px;font-size:21.7px;font-weight:bold;color:#595959;">RMSD</div>
<div class="t" style="left:314.5px;top:32px;font-size:12px;letter-spacing:0.4px;color:#595959;">Nano second</div>
<div class="t ax" style="left:37.0px;top:52px;width:40px;margin-left:-20px;text-align:center;">0</div>
<div class="t ax" style="left:100.9px;top:52px;width:40px;margin-left:-20px;text-align:center;">20</div>
<div class="t ax" style="left:164.8px;top:52px;width:40px;margin-left:-20px;text-align:center;">40</div>
<div class="t ax" style="left:228.7px;top:52px;width:40px;margin-left:-20px;text-align:center;">60</div>
<div class="t ax" style="left:292.6px;top:52px;width:40px;margin-left:-20px;text-align:center;">80</div>
<div class="t ax" style="left:356.5px;top:52px;width:40px;margin-left:-20px;text-align:center;">100</div>
<div class="t ax" style="left:420.4px;top:52px;width:40px;margin-left:-20px;text-align:center;">120</div>
<div class="t ax" style="left:484.3px;top:52px;width:40px;margin-left:-20px;text-align:center;">140</div>
<div class="t ax" style="left:548.2px;top:52px;width:40px;margin-left:-20px;text-align:center;">160</div>
<div class="t ax" style="left:612.1px;top:52px;width:40px;margin-left:-20px;text-align:center;">180</div>
<div class="t ax" style="left:676.0px;top:52px;width:40px;margin-left:-20px;text-align:center;">200</div>
<div class="t ax" style="right:684.0px;top:235.0px;text-align:right;">0</div>
<div class="t ax" style="right:684.0px;top:207.5px;text-align:right;">0.2</div>
<div class="t ax" style="right:684.0px;top:180.0px;text-align:right;">0.4</div>
<div class="t ax" style="right:684.0px;top:152.5px;text-align:right;">0.6</div>
<div class="t ax" style="right:684.0px;top:125.0px;text-align:right;">0.8</div>
<div class="t ax" style="right:684.0px;top:97.5px;text-align:right;">1</div>
<div class="t ax" style="right:684.0px;top:70.0px;text-align:right;">1.2</div>
<div class="t ax" style="left:285px;top:257.5px;">100°C</div>
<div class="t ax" style="left:364.5px;top:257.5px;">42°C</div>
<div class="t ax" style="left:438px;top:257.5px;">37°C</div>
<div class="t lab" style="left:156px;top:481.5px;font-size:23.5px;letter-spacing:-2px;">b1</div>
<div class="t lab" style="left:387.5px;top:485.5px;font-size:23.5px;">b2</div>
<div class="t lab" style="left:599px;top:478.5px;font-size:23.5px;letter-spacing:-1.5px;">b3</div>
</body></html>
